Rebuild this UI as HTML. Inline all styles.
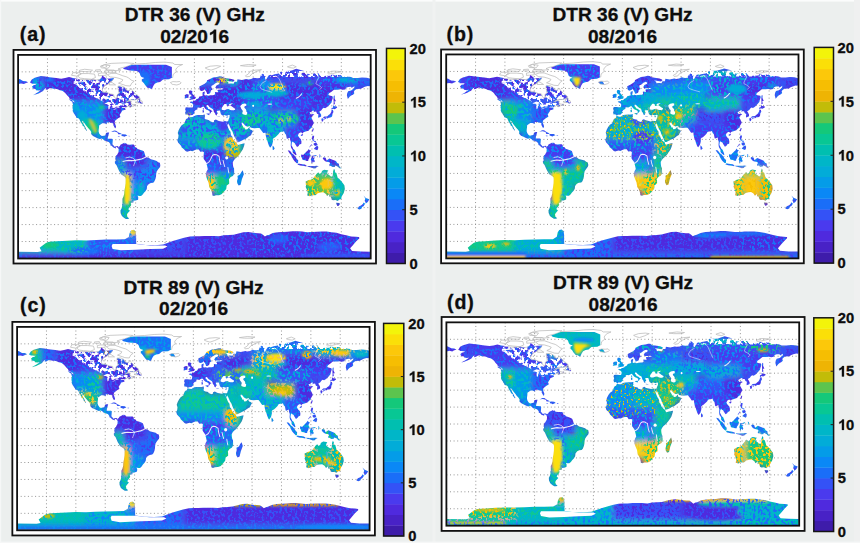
<!DOCTYPE html>
<html><head><meta charset="utf-8"><title>DTR maps</title>
<style>
html,body{margin:0;padding:0;background:#ecefee;}
svg{display:block;}
text{font-family:"Liberation Sans",sans-serif;font-weight:bold;fill:#0d0d0d;stroke:#0d0d0d;stroke-width:0.3px;}
.tt{font-size:19.1px;text-anchor:middle;}
.tk{font-size:14.6px;}
.lb{font-size:19.6px;letter-spacing:0.9px;}
</style></head><body>
<svg width="860" height="543" viewBox="0 0 860 543">
<defs>
<clipPath id="landclip">
<path d="M12.0 24.4 L14.0 21.7 L17.0 20.3 L23.2 18.7 L28.0 19.2 L32.0 19.7 L39.0 20.4 L44.0 21.0 L48.0 20.4 L52.0 19.6 L56.0 20.4 L60.0 21.0 L65.0 21.8 L70.0 22.0 L75.0 21.7 L80.0 22.2 L83.0 21.7 L85.0 20.5 L86.0 18.2 L88.0 19.5 L90.0 21.0 L94.0 20.8 L98.0 20.5 L96.0 23.0 L93.0 24.5 L92.0 25.8 L88.0 27.5 L85.8 31.0 L87.0 33.0 L90.0 33.0 L94.0 34.5 L97.5 35.0 L98.0 37.0 L100.0 38.7 L101.0 37.5 L101.0 35.5 L103.0 33.5 L102.5 31.5 L102.0 29.5 L102.0 27.7 L106.0 27.5 L109.0 28.8 L110.5 31.0 L112.5 31.7 L114.0 31.2 L115.5 29.7 L116.5 31.5 L118.0 32.5 L119.0 34.0 L120.5 34.8 L122.5 36.0 L124.0 37.5 L123.0 38.5 L120.0 39.8 L115.5 39.7 L113.5 40.0 L111.5 41.0 L110.0 42.2 L111.0 41.5 L113.5 40.8 L115.5 41.0 L115.2 42.2 L115.5 43.5 L118.5 44.0 L120.0 43.8 L120.0 44.4 L116.5 45.4 L114.2 46.4 L113.5 45.4 L115.0 44.7 L113.0 45.0 L111.5 45.8 L109.8 46.4 L109.2 47.4 L110.0 48.2 L108.5 48.7 L106.5 49.2 L106.0 49.5 L105.7 50.5 L105.0 51.2 L104.1 52.5 L103.7 53.0 L104.5 54.8 L103.5 55.4 L102.1 56.1 L100.8 57.0 L99.0 58.3 L98.6 60.0 L99.5 62.0 L100.0 63.3 L99.6 64.8 L98.8 64.7 L98.2 63.7 L97.2 62.0 L97.3 60.8 L96.0 60.0 L94.5 60.3 L93.5 59.6 L91.5 59.7 L90.5 59.8 L90.8 60.9 L89.5 60.9 L88.0 60.4 L86.0 60.4 L84.5 61.3 L82.7 62.4 L82.6 64.2 L82.3 66.0 L82.2 67.7 L82.8 69.4 L84.0 70.9 L85.5 71.8 L87.5 71.4 L89.0 71.2 L89.5 70.2 L89.7 69.0 L91.5 68.5 L93.0 68.5 L92.5 70.0 L92.2 71.5 L91.7 72.5 L91.5 74.1 L94.0 74.1 L96.0 74.2 L96.7 75.0 L96.5 77.5 L96.3 79.0 L97.5 80.2 L98.5 81.2 L100.0 80.7 L101.5 80.6 L102.7 81.4 L102.5 82.5 L101.5 82.0 L100.5 81.2 L99.6 82.0 L99.9 82.7 L98.5 82.3 L97.0 81.7 L95.5 80.3 L94.3 80.0 L94.2 78.8 L92.7 77.1 L91.5 76.8 L90.0 76.2 L88.5 76.0 L87.0 74.7 L85.5 73.9 L83.5 74.4 L81.5 73.8 L79.0 72.7 L76.5 71.7 L74.5 70.0 L74.7 68.2 L73.6 66.7 L71.5 64.7 L70.5 63.5 L69.2 62.2 L67.8 60.5 L66.5 58.8 L65.2 58.3 L65.7 59.5 L66.8 61.0 L67.7 62.5 L68.7 64.0 L69.4 65.5 L70.5 66.9 L69.8 67.1 L68.5 65.6 L67.8 65.0 L67.8 63.7 L65.7 62.5 L65.8 61.8 L64.7 60.5 L63.8 59.2 L62.9 57.5 L62.5 56.6 L61.5 56.0 L59.4 55.5 L59.0 54.3 L58.0 53.2 L57.5 52.2 L57.0 51.8 L56.2 50.5 L55.7 49.5 L55.9 48.0 L55.5 47.0 L56.0 43.8 L55.3 41.6 L57.0 41.7 L57.5 42.5 L57.2 41.0 L56.0 40.2 L54.5 39.5 L52.5 38.8 L52.0 37.5 L50.0 35.7 L49.0 34.5 L47.5 33.2 L45.5 32.0 L44.0 31.5 L42.5 31.3 L40.5 30.4 L38.0 29.9 L36.0 30.0 L33.5 29.2 L32.0 29.5 L30.0 30.5 L28.2 30.8 L28.5 29.5 L30.0 28.8 L27.5 29.8 L26.2 31.1 L25.5 32.0 L23.7 32.8 L21.5 33.8 L19.5 34.5 L17.5 35.0 L15.2 35.6 L16.5 34.9 L18.5 34.0 L20.5 32.8 L22.5 31.7 L22.8 31.2 L21.0 31.5 L18.2 31.2 L17.8 30.2 L16.2 30.0 L14.8 29.5 L14.7 28.7 L14.0 28.2 L15.0 27.5 L15.6 26.8 L17.7 26.5 L19.0 25.6 L17.5 25.5 L15.5 25.4 L13.7 25.4 L13.7 24.8 L12.0 24.4Z"/>
<path d="M136.0 30.2 L134.0 29.2 L132.0 29.0 L129.5 26.5 L128.5 25.0 L126.5 23.2 L126.5 21.5 L129.0 20.5 L126.0 19.5 L125.0 18.5 L124.0 16.0 L121.5 14.3 L114.0 13.8 L108.5 12.7 L107.0 11.7 L112.0 10.0 L118.0 8.2 L130.0 7.6 L140.0 6.7 L150.0 6.4 L158.0 7.2 L160.0 8.5 L168.0 8.5 L164.0 10.0 L162.0 11.5 L161.0 13.0 L161.5 15.0 L158.5 17.0 L158.0 19.0 L158.0 19.8 L154.0 21.5 L148.0 21.8 L145.0 24.0 L142.0 24.5 L139.5 25.5 L138.0 27.5 L137.0 29.5Z"/>
<path d="M102.7 81.4 L104.0 80.5 L104.5 79.5 L105.5 79.0 L107.5 78.2 L108.5 77.6 L108.8 78.5 L110.0 77.8 L111.5 79.2 L114.0 79.4 L116.0 79.3 L118.0 79.3 L119.0 80.0 L119.2 81.5 L121.0 82.0 L122.0 83.2 L125.0 84.0 L127.5 84.8 L128.5 85.5 L129.5 88.0 L130.0 89.5 L131.5 90.8 L133.0 90.6 L135.5 92.3 L138.5 92.9 L141.5 93.7 L143.0 94.8 L144.7 95.3 L145.2 97.5 L144.9 99.0 L143.0 101.0 L141.5 103.0 L141.0 105.0 L140.8 107.5 L140.3 109.5 L139.2 111.8 L138.0 113.0 L135.5 113.3 L133.5 114.2 L131.7 116.0 L131.4 118.5 L130.0 120.5 L128.5 121.8 L127.0 123.7 L125.5 124.8 L123.5 124.8 L122.0 124.4 L122.7 126.0 L122.5 128.0 L120.0 128.8 L118.0 129.0 L117.7 130.5 L115.0 131.0 L115.5 132.3 L115.0 133.5 L113.5 135.0 L112.5 136.5 L114.2 137.8 L111.8 140.1 L111.0 141.6 L111.6 142.4 L111.4 143.0 L113.5 144.6 L112.0 145.0 L110.0 145.0 L108.0 144.0 L106.0 142.5 L104.7 140.0 L104.5 137.5 L105.5 136.0 L106.3 133.5 L106.0 132.0 L106.5 131.5 L106.5 129.0 L106.5 127.2 L107.5 125.5 L108.3 123.0 L108.5 120.0 L109.2 117.0 L109.7 113.5 L109.8 110.0 L109.6 108.4 L108.5 107.5 L105.0 105.5 L103.8 103.5 L102.8 102.0 L101.5 99.5 L100.5 97.5 L99.0 96.0 L98.7 94.5 L99.7 93.4 L99.2 92.0 L99.5 90.5 L100.0 89.0 L101.0 88.5 L101.2 88.0 L102.5 86.0 L102.7 83.5 L102.2 82.8Z"/>
<path d="M174.1 54.2 L176.0 54.8 L178.0 54.9 L181.0 53.5 L183.0 53.2 L186.0 53.1 L188.6 53.1 L190.2 52.8 L191.0 53.1 L190.5 54.0 L191.0 54.8 L190.2 55.8 L191.2 56.8 L192.5 57.2 L195.2 57.7 L195.5 58.5 L198.0 59.3 L199.0 59.7 L200.0 59.0 L200.1 57.8 L202.0 57.1 L203.3 57.8 L205.0 58.4 L209.0 59.1 L211.0 58.5 L212.3 58.7 L212.5 60.0 L213.5 62.0 L214.5 64.5 L215.5 66.5 L216.9 68.0 L217.3 71.0 L218.5 72.0 L219.5 74.5 L221.5 76.5 L223.3 77.5 L223.5 78.5 L224.5 79.6 L227.0 79.0 L231.2 78.2 L231.0 79.6 L230.5 81.0 L229.5 83.5 L228.0 85.5 L226.0 88.0 L223.5 90.5 L221.5 91.8 L220.0 93.5 L219.2 95.0 L219.3 97.0 L219.7 99.0 L220.5 100.5 L220.6 104.0 L220.7 105.0 L219.2 107.0 L217.0 108.0 L215.3 110.0 L215.5 112.0 L215.5 114.0 L213.0 115.5 L212.8 116.5 L212.5 118.5 L211.0 120.0 L210.0 121.0 L208.0 123.0 L206.0 123.8 L205.0 124.0 L202.0 124.1 L200.0 124.8 L198.4 124.2 L198.3 123.0 L197.7 121.0 L196.5 118.6 L195.2 117.0 L194.5 113.0 L193.0 110.0 L191.8 107.3 L191.8 105.5 L192.4 103.0 L193.7 101.0 L193.2 99.0 L192.3 96.0 L192.0 95.0 L191.0 93.8 L189.5 92.0 L189.3 90.0 L189.6 87.5 L189.7 86.0 L188.5 85.5 L186.0 85.7 L184.5 83.7 L182.0 83.7 L180.0 84.3 L178.0 85.2 L176.0 84.8 L172.5 85.6 L171.0 85.0 L169.0 83.2 L167.0 81.8 L166.5 80.5 L165.0 79.0 L163.3 77.5 L162.5 75.3 L163.5 73.5 L163.8 71.0 L163.0 69.0 L164.0 66.5 L165.5 64.0 L167.0 62.3 L170.0 60.5 L170.3 59.0 L171.5 56.7 L173.2 56.0Z"/>
<path d="M229.3 102.0 L230.5 105.5 L229.8 107.0 L228.5 110.0 L227.2 114.8 L225.2 115.5 L223.8 113.5 L223.5 111.5 L224.3 109.0 L224.0 107.0 L226.5 105.8 L228.0 103.5Z"/>
<path d="M171.0 47.0 L170.5 48.0 L171.2 49.5 L170.5 51.2 L171.1 53.0 L172.5 52.8 L173.7 53.5 L174.4 54.0 L175.5 53.3 L178.0 53.2 L179.5 52.0 L180.2 51.2 L179.7 50.5 L181.0 49.0 L183.2 48.0 L183.0 46.8 L184.5 46.5 L186.0 46.9 L187.5 46.2 L189.0 45.6 L190.3 46.5 L191.0 47.5 L192.5 48.5 L194.0 49.0 L195.7 50.0 L195.6 52.0 L196.6 51.5 L197.0 50.5 L198.5 49.8 L197.0 49.0 L196.0 48.2 L194.0 47.5 L193.5 46.3 L192.3 45.5 L192.5 44.5 L193.7 44.3 L194.5 45.0 L195.5 46.0 L197.0 47.0 L199.0 48.0 L199.5 49.0 L200.0 50.5 L201.0 51.5 L201.7 53.2 L203.0 53.5 L203.0 52.0 L204.0 52.0 L202.8 49.5 L204.0 49.3 L206.0 49.2 L206.3 49.9 L206.5 50.5 L206.8 51.5 L207.2 52.5 L208.0 53.2 L209.5 53.8 L210.6 53.2 L212.0 53.5 L213.5 53.8 L214.7 53.2 L216.2 53.4 L215.8 54.2 L215.9 55.0 L215.5 56.1 L215.0 57.0 L214.5 58.4 L214.2 58.7 L212.3 58.8 L212.5 60.1 L214.3 62.2 L214.9 60.5 L215.5 62.0 L216.5 64.0 L217.5 66.0 L219.0 68.0 L219.7 70.0 L221.0 72.5 L222.5 75.0 L223.3 77.3 L225.0 77.2 L228.0 76.0 L230.0 75.0 L232.2 74.3 L234.0 73.2 L235.5 72.2 L236.8 71.5 L237.8 71.0 L238.5 69.5 L239.8 67.5 L238.5 66.4 L237.0 66.0 L236.3 65.2 L236.4 63.6 L235.5 64.5 L234.0 65.8 L232.0 66.0 L231.5 64.5 L231.2 63.9 L230.8 65.2 L230.0 63.8 L229.5 63.0 L228.5 61.6 L228.0 60.0 L229.0 59.8 L230.5 61.0 L231.5 62.2 L233.0 63.1 L234.5 63.5 L236.3 62.9 L237.3 64.2 L239.0 64.6 L241.5 64.9 L244.0 64.7 L246.5 64.6 L247.0 65.2 L248.0 66.3 L249.0 67.5 L250.3 69.1 L252.6 68.9 L252.8 71.0 L253.5 74.0 L254.5 76.0 L255.0 77.5 L256.0 80.0 L257.0 81.7 L257.6 81.9 L258.2 81.1 L259.3 79.7 L259.8 78.2 L260.2 76.5 L260.1 74.5 L261.0 73.5 L262.3 73.0 L264.0 71.7 L266.0 70.0 L267.0 68.5 L268.5 68.0 L270.0 68.0 L271.5 67.5 L272.3 69.3 L273.5 70.5 L274.3 74.0 L275.0 74.2 L277.5 73.2 L277.7 75.0 L278.5 77.0 L278.3 80.0 L278.7 82.0 L280.3 84.0 L280.3 86.0 L281.3 87.1 L283.5 88.7 L284.3 88.5 L283.4 86.0 L282.4 84.0 L281.0 83.1 L280.3 81.7 L279.2 80.0 L279.5 77.5 L280.5 76.5 L281.0 77.3 L282.3 77.8 L283.0 79.0 L284.8 81.4 L286.5 80.5 L287.0 79.5 L289.2 78.5 L289.3 76.5 L288.7 74.5 L287.0 73.0 L285.7 71.2 L286.5 69.5 L288.0 68.5 L289.5 68.5 L290.2 69.7 L291.0 68.5 L293.5 67.8 L296.5 67.0 L298.0 65.5 L299.5 64.5 L300.5 62.5 L302.0 60.2 L301.5 59.0 L300.5 57.5 L299.5 55.5 L300.3 54.0 L302.5 52.8 L300.5 52.2 L299.0 52.8 L298.0 51.5 L297.7 51.0 L299.5 50.2 L301.0 49.2 L302.3 49.5 L301.2 51.0 L302.5 50.2 L304.3 50.1 L305.2 52.0 L306.6 52.5 L306.3 55.0 L306.5 55.6 L308.5 55.0 L309.4 54.5 L309.4 53.0 L308.5 51.5 L307.5 50.2 L309.7 49.0 L310.7 47.7 L312.0 46.8 L313.5 47.2 L315.5 46.1 L317.5 44.5 L320.0 42.0 L320.5 40.0 L321.4 37.8 L321.0 36.5 L318.0 36.0 L316.7 35.4 L317.5 34.0 L320.0 32.5 L322.5 30.7 L326.0 30.7 L329.0 30.4 L331.5 30.9 L334.0 30.5 L335.0 29.0 L337.0 28.3 L340.0 28.2 L340.5 29.3 L342.0 28.4 L343.5 27.7 L343.0 29.5 L340.0 31.5 L337.0 32.2 L336.0 34.0 L335.7 36.0 L336.7 39.0 L338.5 37.1 L340.0 36.0 L342.0 35.2 L343.3 34.0 L342.8 32.5 L343.5 31.5 L345.5 30.2 L350.0 30.0 L352.0 29.0 L354.0 28.2 L357.0 27.5 L359.0 27.7 L360.0 25.5 L361.5 25.5 L363.0 25.2 L366.0 25.7 L367.5 25.0 L370.3 24.1 L368.0 23.2 L365.0 23.0 L362.0 21.5 L360.0 21.0 L356.0 20.2 L351.0 20.0 L347.0 20.4 L342.0 20.4 L340.0 19.5 L336.0 19.0 L332.0 19.1 L329.0 17.8 L326.0 17.7 L320.0 17.5 L318.0 18.5 L314.0 18.5 L310.0 19.0 L308.0 18.0 L307.0 16.5 L303.0 16.3 L299.0 17.0 L293.5 16.5 L293.0 15.5 L290.0 16.0 L288.0 16.7 L285.5 17.2 L287.0 15.5 L292.0 14.2 L284.0 12.3 L280.0 13.5 L278.0 14.0 L274.0 14.2 L268.0 14.8 L267.0 16.0 L266.0 16.5 L262.0 17.2 L260.5 17.5 L259.0 18.0 L258.0 17.6 L256.0 18.0 L254.5 20.0 L253.5 21.5 L252.5 22.0 L252.0 20.0 L253.0 18.5 L250.0 16.5 L248.5 17.5 L246.8 19.2 L247.0 20.5 L244.0 20.7 L240.5 20.2 L238.0 21.3 L235.0 21.7 L233.0 21.3 L228.5 22.2 L224.0 21.5 L223.5 23.7 L221.0 23.7 L220.0 25.5 L218.0 25.3 L216.5 25.2 L214.8 25.5 L214.5 24.0 L212.5 22.9 L215.0 23.2 L219.5 23.8 L221.0 22.7 L220.5 22.0 L218.0 21.2 L213.0 20.6 L210.0 20.2 L208.0 19.0 L205.8 18.9 L203.0 19.5 L199.0 20.0 L196.0 21.2 L193.0 22.5 L192.5 24.0 L190.5 25.5 L188.0 26.7 L185.0 28.0 L185.2 30.0 L185.6 31.2 L187.0 32.0 L188.5 31.7 L190.0 31.0 L190.7 30.2 L191.0 31.2 L191.8 32.0 L192.8 33.7 L192.9 34.6 L194.3 34.5 L196.0 33.8 L196.6 32.5 L196.8 31.4 L198.5 30.5 L197.5 29.0 L197.3 27.5 L199.5 26.5 L201.5 25.0 L204.0 24.2 L205.5 25.0 L205.0 26.0 L202.5 27.0 L201.3 29.0 L202.5 29.8 L205.0 29.8 L208.0 29.5 L210.0 30.0 L208.0 30.5 L204.0 30.7 L203.5 31.5 L204.3 32.5 L204.1 33.0 L203.0 33.0 L201.0 32.8 L201.0 34.0 L201.2 34.8 L199.9 35.5 L198.6 35.6 L196.0 35.7 L194.2 36.1 L192.5 35.6 L191.0 36.0 L190.0 35.5 L190.2 34.8 L190.5 33.5 L190.6 32.3 L188.5 33.0 L188.2 34.5 L188.6 36.0 L187.0 36.5 L185.0 36.8 L184.5 37.8 L183.5 38.7 L182.0 39.0 L181.6 39.8 L180.0 40.5 L178.7 40.3 L178.4 41.4 L177.0 41.2 L175.3 41.6 L175.8 42.2 L177.7 42.8 L178.8 44.0 L178.7 45.5 L178.2 46.6 L176.2 46.5 L174.0 46.4 L172.0 46.3 L170.7 46.8Z"/>
<path d="M293.5 112.0 L294.0 116.0 L293.5 116.5 L295.0 119.5 L295.7 121.8 L295.2 124.3 L298.0 125.0 L300.0 124.0 L303.5 124.0 L306.0 122.3 L309.0 121.7 L311.5 121.5 L314.0 122.8 L315.5 124.8 L317.8 123.0 L317.5 125.5 L318.5 125.0 L319.5 126.0 L320.0 127.8 L321.5 128.4 L324.0 128.3 L326.3 129.1 L328.0 127.8 L330.0 127.5 L330.2 125.5 L331.3 123.8 L332.5 122.0 L333.6 118.6 L333.2 115.5 L332.0 114.0 L330.8 112.5 L329.3 111.0 L328.0 109.8 L326.3 108.5 L325.4 106.0 L325.0 104.5 L323.5 103.8 L323.5 102.0 L322.5 100.7 L321.6 102.8 L321.5 105.0 L320.8 107.4 L319.5 107.5 L317.5 106.2 L315.5 105.0 L315.8 103.3 L316.8 102.2 L315.9 101.9 L312.6 101.5 L311.0 102.2 L310.3 102.6 L309.5 104.5 L308.0 105.3 L306.5 103.8 L305.0 105.0 L303.5 106.5 L302.2 108.0 L301.0 109.5 L298.5 110.3 L296.7 110.6 L294.2 111.8Z"/>
<path d="M324.6 130.7 L328.3 130.9 L328.3 132.2 L327.0 133.6 L326.0 133.5 L325.2 132.2Z"/>
<path d="M311.0 91.3 L312.0 90.4 L314.0 90.9 L315.0 93.3 L317.8 91.5 L321.0 92.6 L324.5 93.8 L325.8 95.5 L327.5 96.3 L327.8 98.0 L329.0 99.5 L330.5 100.5 L328.0 100.2 L326.5 98.8 L324.0 97.8 L323.3 99.0 L321.0 99.1 L319.0 98.1 L318.0 98.4 L317.7 97.0 L318.5 96.0 L318.0 95.0 L315.0 94.5 L313.5 94.0 L312.0 92.8Z"/>
<path d="M289.0 88.2 L289.6 88.0 L291.0 88.5 L293.0 86.8 L294.5 85.4 L295.5 84.7 L296.8 83.1 L297.5 84.0 L299.2 84.8 L298.0 85.7 L297.6 87.0 L298.8 89.0 L297.5 90.0 L297.5 91.0 L296.4 92.5 L296.2 93.8 L294.5 93.8 L293.0 93.2 L291.0 93.0 L290.2 92.5 L290.0 91.3 L289.0 90.0Z"/>
<path d="M275.3 84.4 L277.5 84.8 L280.0 87.5 L281.5 88.3 L283.5 90.5 L284.5 92.0 L286.0 93.2 L285.8 95.8 L284.5 95.8 L282.3 94.0 L281.0 92.5 L280.0 91.0 L278.7 88.4 L277.5 87.3 L276.0 85.5Z"/>
<path d="M285.2 96.8 L286.5 96.0 L288.5 96.5 L290.5 96.6 L292.7 97.0 L294.5 97.8 L294.3 98.7 L292.0 98.3 L290.0 98.1 L288.0 97.8 L286.5 97.4Z"/>
<path d="M295.0 98.2 L299.0 98.3 L303.0 98.2 L305.0 98.0 L307.0 98.4 L305.0 99.2 L304.0 100.2 L302.0 100.5 L299.0 99.5 L296.0 98.9Z"/>
<path d="M299.5 95.5 L299.4 93.5 L298.8 92.8 L299.8 90.0 L300.5 89.2 L302.0 89.0 L304.5 88.5 L305.0 88.7 L303.5 89.7 L301.0 89.5 L301.3 91.0 L303.3 90.8 L302.0 92.0 L303.0 94.0 L302.0 95.2 L301.0 94.0 L300.4 95.6Z"/>
<path d="M307.5 87.8 L308.7 88.5 L308.3 90.5 L307.5 90.7 L307.8 89.0Z"/>
<path d="M300.5 71.5 L302.3 71.5 L302.0 73.5 L301.5 74.5 L302.0 76.0 L304.0 76.2 L304.0 77.4 L302.5 76.8 L301.5 76.2 L300.6 75.7 L300.0 73.8Z"/>
<path d="M301.8 78.0 L304.5 77.5 L305.5 79.0 L305.0 80.0 L303.5 80.5 L302.5 80.2 L301.8 79.2Z"/>
<path d="M302.0 83.0 L303.5 81.5 L305.5 80.2 L306.5 81.5 L306.2 83.5 L305.3 84.4 L304.0 83.8 L302.2 83.2Z"/>
<path d="M297.2 81.6 L299.6 78.7 L299.8 79.4 L297.8 81.7Z"/>
<path d="M310.9 56.0 L312.5 54.5 L315.5 54.4 L317.0 53.2 L318.5 52.2 L319.8 50.2 L320.0 48.8 L321.5 48.7 L322.0 50.5 L321.0 52.0 L320.7 54.0 L320.0 55.0 L318.7 55.4 L317.0 55.5 L315.3 56.5 L315.0 55.4 L313.0 55.7 L311.0 56.1Z"/>
<path d="M309.6 56.5 L311.0 56.1 L312.0 57.0 L311.3 58.7 L310.2 59.0 L309.8 57.5Z"/>
<path d="M312.5 57.0 L313.0 55.8 L314.5 55.8 L314.7 56.2 L313.5 56.6 L312.9 57.3Z"/>
<path d="M319.8 47.8 L320.3 46.7 L321.5 46.7 L321.7 44.6 L323.0 45.5 L325.3 45.7 L325.8 46.6 L323.3 48.0 L321.3 47.5 L320.5 48.5Z"/>
<path d="M322.0 44.0 L323.5 43.5 L323.0 41.0 L324.5 41.0 L323.2 38.5 L323.3 36.5 L322.8 35.7 L322.2 36.5 L322.0 39.0 L322.2 42.0Z"/>
<path d="M300.1 67.0 L301.0 64.9 L301.9 65.0 L301.5 66.5 L300.9 68.1 L300.3 67.5Z"/>
<path d="M288.6 70.8 L290.5 69.9 L291.0 70.4 L290.0 71.8 L288.7 71.5Z"/>
<path d="M259.9 80.2 L261.3 81.5 L261.8 82.8 L261.2 83.8 L260.0 84.0 L259.8 82.0Z"/>
<path d="M174.3 39.9 L176.5 39.7 L179.0 39.3 L181.4 38.7 L180.8 38.4 L181.7 37.3 L180.3 37.0 L179.8 36.0 L178.5 35.0 L178.0 34.2 L177.5 33.7 L178.2 32.5 L176.8 31.4 L175.0 31.4 L174.3 32.5 L174.5 33.7 L175.2 34.5 L175.0 35.2 L176.6 35.1 L177.0 36.1 L176.9 36.7 L175.4 36.7 L175.8 37.2 L174.8 38.2 L176.0 38.4 L177.0 38.7 L175.8 38.8Z"/>
<path d="M174.0 37.8 L174.0 36.1 L174.4 35.5 L173.5 34.7 L171.5 34.8 L170.0 35.8 L170.2 36.6 L170.5 37.5 L169.7 38.1 L170.5 38.5 L172.0 38.2 L173.6 37.9Z"/>
<path d="M155.5 24.5 L158.0 23.6 L162.0 23.8 L165.0 23.5 L166.5 24.8 L165.2 25.7 L162.0 26.6 L159.0 26.2 L157.3 26.0Z"/>
<path d="M352.7 124.4 L355.0 126.5 L358.5 127.7 L357.5 129.3 L356.5 130.5 L354.8 131.4 L354.6 129.9 L353.8 129.2 L354.5 127.0Z"/>
<path d="M352.7 130.5 L354.3 131.7 L352.7 133.8 L351.2 134.5 L350.5 136.0 L348.5 136.6 L346.5 136.0 L348.0 134.0 L350.5 133.0 L352.0 131.8Z"/>
<path d="M95.0 68.2 L98.0 66.9 L100.0 67.0 L102.5 68.5 L105.8 69.8 L104.5 70.1 L102.3 70.1 L101.5 68.5 L98.5 67.8 L96.0 68.1Z"/>
<path d="M105.6 70.2 L107.2 70.1 L110.0 70.3 L111.6 71.4 L110.0 71.8 L108.5 72.4 L107.2 71.9 L105.6 71.6Z"/>
<path d="M101.7 71.6 L103.8 71.8 L103.5 72.2 L102.2 72.1Z"/>
<path d="M112.8 71.5 L114.4 71.6 L114.3 72.0 L112.8 72.0Z"/>
<path d="M120.7 42.4 L123.0 38.5 L124.5 38.4 L124.5 40.5 L126.5 40.7 L127.3 42.5 L126.5 43.3 L125.0 43.0 L124.0 42.4Z"/>
<path d="M51.7 39.2 L55.0 39.7 L56.7 41.6 L55.2 41.4 L53.0 40.2Z"/>
<path d="M188.6 47.1 L189.5 47.0 L189.5 48.4 L189.2 48.6 L188.6 48.1Z"/>
<path d="M188.2 49.0 L189.7 48.9 L189.8 50.8 L188.5 51.1 L188.4 50.0Z"/>
<path d="M192.4 51.9 L195.6 51.7 L195.1 53.3 L192.4 52.3Z"/>
<path d="M203.5 54.4 L206.3 54.7 L206.0 55.0 L203.5 54.7Z"/>
<path d="M212.3 55.0 L214.6 54.3 L214.0 55.4 L212.5 55.3Z"/>
<path d="M0.0 168.4 L10.0 168.3 L20.0 168.5 L22.5 166.5 L25.0 165.6 L30.0 165.5 L35.0 165.0 L40.0 164.8 L50.0 164.2 L60.0 163.8 L70.0 164.0 L80.0 163.6 L90.0 163.3 L100.0 163.2 L109.0 163.0 L113.0 161.0 L114.0 157.0 L115.5 155.0 L118.0 154.6 L120.0 156.0 L120.5 159.5 L120.5 163.0 L120.5 167.0 L130.0 168.0 L140.0 168.2 L148.0 167.7 L158.0 164.5 L169.4 161.7 L175.5 160.5 L180.0 160.3 L185.0 160.3 L190.0 160.0 L195.0 160.0 L200.0 160.0 L205.0 160.3 L210.0 159.5 L215.0 159.3 L220.0 159.0 L225.0 157.8 L230.0 156.8 L235.0 156.5 L240.0 157.3 L245.0 157.7 L248.0 157.8 L250.0 159.0 L252.0 160.5 L254.0 159.5 L256.0 159.2 L260.0 157.5 L265.0 156.8 L270.0 156.5 L275.0 156.3 L280.0 155.8 L285.0 155.8 L290.0 156.2 L295.0 156.8 L300.0 156.6 L305.0 156.3 L310.0 156.2 L315.0 156.2 L320.0 156.8 L325.0 157.3 L330.0 158.5 L335.0 159.5 L340.0 160.5 L345.0 160.8 L350.0 161.3 L360.0 162.0 L360.0 180.0 L0.0 180.0Z"/>
<path d="M-189.0 47.0 L-189.5 48.0 L-188.8 49.5 L-189.5 51.2 L-188.9 53.0 L-187.5 52.8 L-186.3 53.5 L-185.6 54.0 L-184.5 53.3 L-182.0 53.2 L-180.5 52.0 L-179.8 51.2 L-180.3 50.5 L-179.0 49.0 L-176.8 48.0 L-177.0 46.8 L-175.5 46.5 L-174.0 46.9 L-172.5 46.2 L-171.0 45.6 L-169.7 46.5 L-169.0 47.5 L-167.5 48.5 L-166.0 49.0 L-164.3 50.0 L-164.4 52.0 L-163.4 51.5 L-163.0 50.5 L-161.5 49.8 L-163.0 49.0 L-164.0 48.2 L-166.0 47.5 L-166.5 46.3 L-167.7 45.5 L-167.5 44.5 L-166.3 44.3 L-165.5 45.0 L-164.5 46.0 L-163.0 47.0 L-161.0 48.0 L-160.5 49.0 L-160.0 50.5 L-159.0 51.5 L-158.3 53.2 L-157.0 53.5 L-157.0 52.0 L-156.0 52.0 L-157.2 49.5 L-156.0 49.3 L-154.0 49.2 L-153.7 49.9 L-153.5 50.5 L-153.2 51.5 L-152.8 52.5 L-152.0 53.2 L-150.5 53.8 L-149.4 53.2 L-148.0 53.5 L-146.5 53.8 L-145.3 53.2 L-143.8 53.4 L-144.2 54.2 L-144.1 55.0 L-144.5 56.1 L-145.0 57.0 L-145.5 58.4 L-145.8 58.7 L-147.7 58.8 L-147.5 60.1 L-145.7 62.2 L-145.1 60.5 L-144.5 62.0 L-143.5 64.0 L-142.5 66.0 L-141.0 68.0 L-140.3 70.0 L-139.0 72.5 L-137.5 75.0 L-136.7 77.3 L-135.0 77.2 L-132.0 76.0 L-130.0 75.0 L-127.8 74.3 L-126.0 73.2 L-124.5 72.2 L-123.2 71.5 L-122.2 71.0 L-121.5 69.5 L-120.2 67.5 L-121.5 66.4 L-123.0 66.0 L-123.7 65.2 L-123.6 63.6 L-124.5 64.5 L-126.0 65.8 L-128.0 66.0 L-128.5 64.5 L-128.8 63.9 L-129.2 65.2 L-130.0 63.8 L-130.5 63.0 L-131.5 61.6 L-132.0 60.0 L-131.0 59.8 L-129.5 61.0 L-128.5 62.2 L-127.0 63.1 L-125.5 63.5 L-123.7 62.9 L-122.7 64.2 L-121.0 64.6 L-118.5 64.9 L-116.0 64.7 L-113.5 64.6 L-113.0 65.2 L-112.0 66.3 L-111.0 67.5 L-109.7 69.1 L-107.4 68.9 L-107.2 71.0 L-106.5 74.0 L-105.5 76.0 L-105.0 77.5 L-104.0 80.0 L-103.0 81.7 L-102.4 81.9 L-101.8 81.1 L-100.7 79.7 L-100.2 78.2 L-99.8 76.5 L-99.9 74.5 L-99.0 73.5 L-97.7 73.0 L-96.0 71.7 L-94.0 70.0 L-93.0 68.5 L-91.5 68.0 L-90.0 68.0 L-88.5 67.5 L-87.7 69.3 L-86.5 70.5 L-85.7 74.0 L-85.0 74.2 L-82.5 73.2 L-82.3 75.0 L-81.5 77.0 L-81.7 80.0 L-81.3 82.0 L-79.7 84.0 L-79.7 86.0 L-78.7 87.1 L-76.5 88.7 L-75.7 88.5 L-76.6 86.0 L-77.6 84.0 L-79.0 83.1 L-79.7 81.7 L-80.8 80.0 L-80.5 77.5 L-79.5 76.5 L-79.0 77.3 L-77.7 77.8 L-77.0 79.0 L-75.2 81.4 L-73.5 80.5 L-73.0 79.5 L-70.8 78.5 L-70.7 76.5 L-71.3 74.5 L-73.0 73.0 L-74.3 71.2 L-73.5 69.5 L-72.0 68.5 L-70.5 68.5 L-69.8 69.7 L-69.0 68.5 L-66.5 67.8 L-63.5 67.0 L-62.0 65.5 L-60.5 64.5 L-59.5 62.5 L-58.0 60.2 L-58.5 59.0 L-59.5 57.5 L-60.5 55.5 L-59.7 54.0 L-57.5 52.8 L-59.5 52.2 L-61.0 52.8 L-62.0 51.5 L-62.3 51.0 L-60.5 50.2 L-59.0 49.2 L-57.7 49.5 L-58.8 51.0 L-57.5 50.2 L-55.7 50.1 L-54.8 52.0 L-53.4 52.5 L-53.7 55.0 L-53.5 55.6 L-51.5 55.0 L-50.6 54.5 L-50.6 53.0 L-51.5 51.5 L-52.5 50.2 L-50.3 49.0 L-49.3 47.7 L-48.0 46.8 L-46.5 47.2 L-44.5 46.1 L-42.5 44.5 L-40.0 42.0 L-39.5 40.0 L-38.6 37.8 L-39.0 36.5 L-42.0 36.0 L-43.3 35.4 L-42.5 34.0 L-40.0 32.5 L-37.5 30.7 L-34.0 30.7 L-31.0 30.4 L-28.5 30.9 L-26.0 30.5 L-25.0 29.0 L-23.0 28.3 L-20.0 28.2 L-19.5 29.3 L-18.0 28.4 L-16.5 27.7 L-17.0 29.5 L-20.0 31.5 L-23.0 32.2 L-24.0 34.0 L-24.3 36.0 L-23.3 39.0 L-21.5 37.1 L-20.0 36.0 L-18.0 35.2 L-16.7 34.0 L-17.2 32.5 L-16.5 31.5 L-14.5 30.2 L-10.0 30.0 L-8.0 29.0 L-6.0 28.2 L-3.0 27.5 L-1.0 27.7 L0.0 25.5 L1.5 25.5 L3.0 25.2 L6.0 25.7 L7.5 25.0 L10.3 24.1 L8.0 23.2 L5.0 23.0 L2.0 21.5 L0.0 21.0 L-4.0 20.2 L-9.0 20.0 L-13.0 20.4 L-18.0 20.4 L-20.0 19.5 L-24.0 19.0 L-28.0 19.1 L-31.0 17.8 L-34.0 17.7 L-40.0 17.5 L-42.0 18.5 L-46.0 18.5 L-50.0 19.0 L-52.0 18.0 L-53.0 16.5 L-57.0 16.3 L-61.0 17.0 L-66.5 16.5 L-67.0 15.5 L-70.0 16.0 L-72.0 16.7 L-74.5 17.2 L-73.0 15.5 L-68.0 14.2 L-76.0 12.3 L-80.0 13.5 L-82.0 14.0 L-86.0 14.2 L-92.0 14.8 L-93.0 16.0 L-94.0 16.5 L-98.0 17.2 L-99.5 17.5 L-101.0 18.0 L-102.0 17.6 L-104.0 18.0 L-105.5 20.0 L-106.5 21.5 L-107.5 22.0 L-108.0 20.0 L-107.0 18.5 L-110.0 16.5 L-111.5 17.5 L-113.2 19.2 L-113.0 20.5 L-116.0 20.7 L-119.5 20.2 L-122.0 21.3 L-125.0 21.7 L-127.0 21.3 L-131.5 22.2 L-136.0 21.5 L-136.5 23.7 L-139.0 23.7 L-140.0 25.5 L-142.0 25.3 L-143.5 25.2 L-145.2 25.5 L-145.5 24.0 L-147.5 22.9 L-145.0 23.2 L-140.5 23.8 L-139.0 22.7 L-139.5 22.0 L-142.0 21.2 L-147.0 20.6 L-150.0 20.2 L-152.0 19.0 L-154.2 18.9 L-157.0 19.5 L-161.0 20.0 L-164.0 21.2 L-167.0 22.5 L-167.5 24.0 L-169.5 25.5 L-172.0 26.7 L-175.0 28.0 L-174.8 30.0 L-174.4 31.2 L-173.0 32.0 L-171.5 31.7 L-170.0 31.0 L-169.3 30.2 L-169.0 31.2 L-168.2 32.0 L-167.2 33.7 L-167.1 34.6 L-165.7 34.5 L-164.0 33.8 L-163.4 32.5 L-163.2 31.4 L-161.5 30.5 L-162.5 29.0 L-162.7 27.5 L-160.5 26.5 L-158.5 25.0 L-156.0 24.2 L-154.5 25.0 L-155.0 26.0 L-157.5 27.0 L-158.7 29.0 L-157.5 29.8 L-155.0 29.8 L-152.0 29.5 L-150.0 30.0 L-152.0 30.5 L-156.0 30.7 L-156.5 31.5 L-155.7 32.5 L-155.9 33.0 L-157.0 33.0 L-159.0 32.8 L-159.0 34.0 L-158.8 34.8 L-160.1 35.5 L-161.4 35.6 L-164.0 35.7 L-165.8 36.1 L-167.5 35.6 L-169.0 36.0 L-170.0 35.5 L-169.8 34.8 L-169.5 33.5 L-169.4 32.3 L-171.5 33.0 L-171.8 34.5 L-171.4 36.0 L-173.0 36.5 L-175.0 36.8 L-175.5 37.8 L-176.5 38.7 L-178.0 39.0 L-178.4 39.8 L-180.0 40.5 L-181.3 40.3 L-181.6 41.4 L-183.0 41.2 L-184.7 41.6 L-184.2 42.2 L-182.3 42.8 L-181.2 44.0 L-181.3 45.5 L-181.8 46.6 L-183.8 46.5 L-186.0 46.4 L-188.0 46.3 L-189.3 46.8Z"/>
</clipPath>
<clipPath id="clipa"><rect x="18.60" y="55.40" width="351.60" height="202.60"/></clipPath>
<clipPath id="clipb"><rect x="446.70" y="54.95" width="351.30" height="202.95"/></clipPath>
<clipPath id="clipc"><rect x="17.60" y="327.40" width="351.50" height="202.40"/></clipPath>
<clipPath id="clipd"><rect x="446.90" y="322.85" width="351.80" height="202.35"/></clipPath>
<clipPath id="ndclip"><path d="M57.1 21.3 L126.5 21.3 L127.5 42.5 L114.2 47.0 L96.0 46.4 L85.7 40.8 L73.4 35.5 L61.2 28.4Z"/><path d="M100.0 0.0 L180.0 0.0 L180.0 30.0 L164.0 30.0 L157.0 19.5 L157.0 10.7 L151.0 8.6 L100.0 8.6Z"/><path d="M154.0 22.0 L169.0 22.0 L169.0 28.0 L154.0 28.0Z"/></clipPath>
<filter id="bl1_5" x="-0.2" y="-0.2" width="1.4" height="1.4"><feGaussianBlur stdDeviation="1.1"/></filter>
<filter id="bl3" x="-0.2" y="-0.2" width="1.4" height="1.4"><feGaussianBlur stdDeviation="2.5"/></filter>
<filter id="bl0_6" x="-0.2" y="-0.2" width="1.4" height="1.4"><feGaussianBlur stdDeviation="0.6"/></filter>
<filter id="speckW" x="-0.1" y="-0.1" width="1.2" height="1.2"><feTurbulence type="fractalNoise" baseFrequency="0.3" numOctaves="2" seed="7" result="n"/><feColorMatrix in="n" type="matrix" values="0 0 0 0 0 0 0 0 0 0 0 0 0 0 0 9 0 0 0 -4.2" result="m"/><feComposite in="SourceGraphic" in2="m" operator="in"/></filter>
<filter id="speckP" x="-0.1" y="-0.1" width="1.2" height="1.2"><feTurbulence type="fractalNoise" baseFrequency="0.38" numOctaves="2" seed="3" result="n"/><feColorMatrix in="n" type="matrix" values="0 0 0 0 0 0 0 0 0 0 0 0 0 0 0 9 0 0 0 -4.55" result="m"/><feGaussianBlur in="SourceGraphic" stdDeviation="2" result="s"/><feComposite in="s" in2="m" operator="in"/></filter>
<filter id="speckQ" x="-0.1" y="-0.1" width="1.2" height="1.2"><feTurbulence type="fractalNoise" baseFrequency="0.5" numOctaves="2" seed="19" result="n"/><feColorMatrix in="n" type="matrix" values="0 0 0 0 0 0 0 0 0 0 0 0 0 0 0 9 0 0 0 -5.5" result="m"/><feComposite in="SourceGraphic" in2="m" operator="in"/></filter>
<filter id="speckW2" x="-0.1" y="-0.1" width="1.2" height="1.2"><feTurbulence type="fractalNoise" baseFrequency="0.35" numOctaves="2" seed="5" result="n"/><feColorMatrix in="n" type="matrix" values="0 0 0 0 0 0 0 0 0 0 0 0 0 0 0 9 0 0 0 -4.3" result="m"/><feComposite in="SourceGraphic" in2="m" operator="in"/></filter>
</defs>
<rect width="860" height="543" fill="#ecefee"/>
<rect width="860" height="1.6" fill="#fbfcfc"/>
<rect width="1.2" height="543" fill="#f6f7f7"/>
<rect x="432.5" y="0" width="3" height="543" fill="#f0f2f1"/>
<rect x="854" y="0" width="6" height="543" fill="#eff0f0"/>
<rect x="0" y="541.6" width="860" height="1.4" fill="#f6f7f7"/>
<rect x="13.50" y="49.90" width="362.50" height="213.60" fill="#fff"/>
<g clip-path="url(#clipa)">
<path d="M47.48 54.90V258.50M76.87 54.90V258.50M106.25 54.90V258.50M135.63 54.90V258.50M165.02 54.90V258.50M194.40 54.90V258.50M223.78 54.90V258.50M253.17 54.90V258.50M282.55 54.90V258.50M311.93 54.90V258.50M341.32 54.90V258.50M18.10 241.53H370.70M18.10 224.57H370.70M18.10 207.60H370.70M18.10 190.63H370.70M18.10 173.67H370.70M18.10 156.70H370.70M18.10 139.73H370.70M18.10 122.77H370.70M18.10 105.80H370.70M18.10 88.83H370.70M18.10 71.87H370.70" stroke="#8a8a8a" stroke-width="0.9" stroke-dasharray="1 2.6" fill="none"/>
<g transform="translate(18.100 54.900) scale(0.97944 1.13111)">
<g stroke="#b9b9b9" stroke-width="0.7" fill="none" vector-effect="non-scaling-stroke"><path d="M118.5 23.3 L116.0 25.0 L114.5 27.5 L110.0 27.2 L108.0 26.5 L102.5 25.0 L106.0 23.5 L107.0 22.0 L104.0 21.0 L100.0 20.0 L94.0 19.5 L91.0 17.5 L95.0 16.4 L100.0 16.3 L104.0 17.5 L107.0 18.5 L111.0 19.5 L113.0 20.5 L116.0 22.5Z"/><path d="M105.0 13.5 L100.0 13.8 L91.0 13.5 L90.0 12.0 L85.0 10.0 L88.0 8.7 L95.0 7.5 L110.0 7.0 L118.0 7.5 L115.0 9.0 L110.0 10.5 L105.0 11.5 L102.0 12.5Z"/><path d="M100.0 15.5 L88.0 15.2 L89.0 13.5 L98.0 13.5Z"/><path d="M61.0 18.5 L63.0 16.5 L72.0 16.5 L78.0 17.0 L79.0 20.0 L75.0 21.5 L68.0 21.0 L63.0 20.5Z"/><path d="M54.5 18.0 L56.0 15.7 L63.0 15.7 L64.5 17.0 L60.0 18.8Z"/><path d="M82.0 18.5 L90.0 18.0 L90.0 16.0 L85.0 16.0 L82.0 16.5Z"/><path d="M62.0 14.5 L74.0 15.0 L76.0 13.5 L68.0 12.7 L63.0 13.5Z"/><path d="M79.0 14.5 L84.0 14.5 L84.0 13.0 L79.0 13.3Z"/><path d="M93.0 26.5 L99.5 26.5 L96.0 24.5 L93.5 24.0Z"/><path d="M85.0 11.5 L92.0 11.8 L94.0 9.5 L88.0 8.8 L84.0 10.0Z"/><path d="M191.0 11.5 L196.0 10.0 L203.0 9.5 L207.0 10.0 L202.0 12.0 L197.0 13.5 L193.0 12.5Z"/><path d="M232.0 18.5 L235.0 17.0 L237.0 14.5 L242.0 13.5 L248.5 13.1 L244.0 14.5 L239.0 16.5 L236.5 19.0 L233.0 19.4Z"/><path d="M275.0 10.5 L280.0 9.0 L284.0 10.5 L281.0 11.7 L277.0 11.2Z"/><path d="M316.0 16.0 L320.0 14.5 L323.0 14.3 L330.0 14.8 L326.0 15.5 L321.0 16.5 L317.0 16.8Z"/><path d="M358.5 18.8 L361.0 18.4 L363.0 18.8 L361.0 19.2Z"/><path d="M227.0 9.5 L235.0 8.5 L243.0 9.0 L240.0 10.0 L232.0 10.0Z"/></g>
<g clip-path="url(#landclip)">
<rect x="-12" y="-5" width="384" height="190" fill="#4f2ade"/><g filter="url(#bl3)"><path d="M-1.0 18.0 L13.0 18.0 L13.0 28.0 L-1.0 28.0Z" fill="#1a6ef8"/><path d="M10.0 18.0 L25.0 18.0 L25.0 38.0 L10.0 38.0Z" fill="#0a88f6"/><path d="M25.0 18.0 L39.0 18.0 L39.0 33.0 L25.0 33.0Z" fill="#4f2ade"/><path d="M39.0 20.0 L60.0 20.0 L65.0 41.0 L54.0 43.0 L39.0 33.0Z" fill="#4f2ade"/><path d="M60.0 30.0 L85.0 30.0 L85.0 41.0 L65.0 41.0Z" fill="#4f2ade"/><path d="M55.0 18.0 L122.0 18.0 L122.0 32.0 L85.0 35.0 L60.0 30.0Z" fill="#4f2ade"/><path d="M85.0 34.0 L128.0 34.0 L128.0 46.0 L100.0 46.0 L85.0 41.0Z" fill="#4f2ade"/><path d="M54.0 41.0 L70.0 41.0 L70.0 59.0 L62.0 59.0 L54.0 50.0Z" fill="#0a88f6"/><path d="M70.0 41.0 L87.0 41.0 L87.0 62.0 L70.0 62.0Z" fill="#0a88f6"/><path d="M87.0 41.0 L114.0 41.0 L114.0 66.0 L87.0 62.0Z" fill="#4f2ade"/><path d="M62.0 57.0 L80.0 59.0 L83.0 68.0 L74.0 69.0 L62.0 62.0Z" fill="#08c794"/><path d="M80.0 59.0 L87.0 62.0 L84.0 72.0 L83.0 68.0Z" fill="#00b6c8"/><path d="M74.0 69.0 L85.0 68.0 L94.0 76.0 L83.0 76.0Z" fill="#02acd8"/><path d="M88.0 72.0 L103.0 72.0 L103.0 83.0 L88.0 78.0Z" fill="#0a88f6"/><path d="M94.0 66.0 L116.0 66.0 L116.0 73.0 L94.0 73.0Z" fill="#1a6ef8"/><path d="M105.0 6.0 L170.0 6.0 L170.0 31.0 L105.0 31.0Z" fill="#4a3aee"/><path d="M155.0 23.0 L167.0 23.0 L167.0 27.0 L155.0 27.0Z" fill="#0a88f6"/><path d="M98.0 77.0 L132.0 77.0 L132.0 100.0 L98.0 100.0Z" fill="#4f2ade"/><path d="M108.0 100.0 L125.0 100.0 L125.0 115.0 L115.0 115.0 L108.0 105.0Z" fill="#1a6ef8"/><path d="M132.0 90.0 L146.0 95.0 L140.0 115.0 L125.0 115.0 L122.0 100.0 L132.0 100.0Z" fill="#0a88f6"/><path d="M98.0 93.0 L108.0 93.0 L110.0 108.0 L104.0 108.0Z" fill="#00b6c8"/><path d="M108.0 105.0 L115.0 105.0 L115.0 132.0 L108.0 132.0Z" fill="#fbdf08"/><path d="M115.0 110.0 L125.0 115.0 L132.0 115.0 L132.0 125.0 L123.0 130.0 L115.0 130.0Z" fill="#0a88f6"/><path d="M104.0 130.0 L118.0 130.0 L118.0 146.0 L104.0 146.0Z" fill="#00b6c8"/><path d="M162.0 75.0 L162.0 68.0 L167.0 61.0 L172.0 54.0 L190.0 52.0 L190.0 75.0Z" fill="#00b6c8"/><path d="M190.0 52.0 L191.0 57.0 L200.0 59.0 L213.0 58.0 L215.0 63.0 L218.0 73.0 L216.0 75.0 L190.0 75.0Z" fill="#02acd8"/><path d="M162.0 75.0 L216.0 75.0 L216.0 84.0 L162.0 84.0Z" fill="#1a6ef8"/><path d="M213.0 74.0 L224.0 74.0 L228.0 86.0 L214.0 88.0Z" fill="#f6be02"/><path d="M223.0 78.0 L232.0 78.0 L228.0 90.0 L220.0 92.0 L222.0 84.0Z" fill="#08c794"/><path d="M188.0 84.0 L211.0 84.0 L211.0 102.0 L188.0 102.0Z" fill="#4f2ade"/><path d="M211.0 87.0 L222.0 87.0 L222.0 106.0 L211.0 106.0Z" fill="#1a6ef8"/><path d="M190.0 94.0 L207.0 94.0 L207.0 106.0 L190.0 106.0Z" fill="#3452f6"/><path d="M200.0 105.0 L221.0 105.0 L221.0 126.0 L200.0 126.0Z" fill="#00bfb0"/><path d="M190.0 106.0 L200.0 106.0 L200.0 120.0 L190.0 120.0Z" fill="#f6be02"/><path d="M222.0 101.0 L231.0 101.0 L231.0 116.0 L222.0 116.0Z" fill="#049ce8"/><path d="M170.0 46.0 L184.0 46.0 L184.0 55.0 L170.0 55.0Z" fill="#1a6ef8"/><path d="M169.0 29.0 L182.0 29.0 L182.0 41.0 L169.0 41.0Z" fill="#4f2ade"/><path d="M175.0 34.0 L195.0 34.0 L195.0 47.0 L184.0 48.0 L175.0 46.0Z" fill="#4f2ade"/><path d="M195.0 34.0 L210.0 34.0 L210.0 51.0 L195.0 51.0Z" fill="#4f2ade"/><path d="M187.0 43.0 L206.0 43.0 L206.0 54.0 L187.0 54.0Z" fill="#4f2ade"/><path d="M184.0 26.0 L212.0 26.0 L212.0 35.0 L184.0 35.0Z" fill="#4f2ade"/><path d="M184.0 18.0 L225.0 18.0 L225.0 26.0 L184.0 26.0Z" fill="#0a88f6"/><path d="M210.0 26.0 L240.0 26.0 L240.0 38.0 L210.0 38.0Z" fill="#4f2ade"/><path d="M225.0 18.0 L248.0 18.0 L248.0 26.0 L225.0 26.0Z" fill="#4f2ade"/><path d="M202.0 38.0 L232.0 38.0 L232.0 47.0 L202.0 47.0Z" fill="#4f2ade"/><path d="M206.0 48.0 L225.0 48.0 L225.0 54.5 L206.0 54.5Z" fill="#1a6ef8"/><path d="M224.0 50.0 L242.0 50.0 L242.0 65.0 L228.0 62.0 L224.0 57.0Z" fill="#00bfb0"/><path d="M214.0 53.0 L224.0 53.0 L224.0 61.0 L214.0 61.0Z" fill="#02acd8"/><path d="M214.0 60.0 L228.0 60.0 L236.0 65.0 L240.0 68.0 L232.0 75.0 L223.0 78.0 L215.0 65.0Z" fill="#00b6c8"/><path d="M230.0 35.0 L265.0 35.0 L265.0 47.0 L230.0 47.0Z" fill="#3452f6"/><path d="M232.0 47.0 L255.0 47.0 L255.0 55.0 L232.0 55.0Z" fill="#02acd8"/><path d="M240.0 54.0 L255.0 54.0 L255.0 67.0 L240.0 67.0Z" fill="#00b6c8"/><path d="M240.0 24.0 L270.0 24.0 L270.0 35.0 L240.0 35.0Z" fill="#3452f6"/><path d="M240.0 12.0 L305.0 12.0 L305.0 24.0 L240.0 24.0Z" fill="#3452f6"/><path d="M270.0 24.0 L305.0 24.0 L305.0 40.0 L270.0 40.0Z" fill="#4f2ade"/><path d="M305.0 15.0 L362.0 15.0 L362.0 26.0 L305.0 26.0Z" fill="#4a3aee"/><path d="M305.0 26.0 L345.0 26.0 L345.0 38.0 L305.0 38.0Z" fill="#4f2ade"/><path d="M300.0 35.0 L322.0 35.0 L322.0 50.0 L300.0 50.0Z" fill="#4f2ade"/><path d="M335.0 28.0 L346.0 28.0 L346.0 40.0 L335.0 40.0Z" fill="#1a6ef8"/><path d="M340.0 20.0 L372.0 20.0 L372.0 28.0 L340.0 28.0Z" fill="#1a6ef8"/><path d="M265.0 38.0 L300.0 38.0 L300.0 50.0 L265.0 50.0Z" fill="#4a3aee"/><path d="M255.0 50.0 L283.0 50.0 L283.0 63.0 L255.0 63.0Z" fill="#00bfb0"/><path d="M246.0 60.0 L272.0 60.0 L272.0 84.0 L246.0 84.0Z" fill="#00b6c8"/><path d="M283.0 48.0 L304.0 48.0 L304.0 70.0 L283.0 70.0Z" fill="#4f2ade"/><path d="M272.0 62.0 L290.0 62.0 L290.0 90.0 L272.0 90.0Z" fill="#4a3aee"/><path d="M304.0 44.0 L327.0 44.0 L327.0 60.0 L304.0 60.0Z" fill="#4a3aee"/><path d="M274.0 82.0 L310.0 82.0 L310.0 101.0 L274.0 101.0Z" fill="#4f2ade"/><path d="M310.0 90.0 L332.0 90.0 L332.0 101.0 L310.0 101.0Z" fill="#4f2ade"/><path d="M296.0 70.0 L308.0 70.0 L308.0 85.0 L296.0 85.0Z" fill="#3452f6"/><path d="M292.0 102.0 L305.0 102.0 L305.0 126.0 L292.0 126.0Z" fill="#14c87a"/><path d="M305.0 100.0 L320.0 100.0 L320.0 126.0 L305.0 126.0Z" fill="#5cc44e"/><path d="M320.0 100.0 L335.0 100.0 L335.0 130.0 L320.0 130.0Z" fill="#08c794"/><path d="M305.0 100.0 L325.0 100.0 L325.0 107.0 L305.0 107.0Z" fill="#08c794"/><path d="M345.0 123.0 L360.0 123.0 L360.0 138.0 L345.0 138.0Z" fill="#0a88f6"/><path d="M-5.0 150.0 L70.0 150.0 L70.0 182.0 L-5.0 182.0Z" fill="#00b6c8"/><path d="M70.0 150.0 L120.0 150.0 L120.0 182.0 L70.0 182.0Z" fill="#3452f6"/><path d="M112.0 152.0 L123.0 152.0 L123.0 159.5 L112.0 159.5Z" fill="#fbdf08"/><path d="M112.0 159.5 L123.0 159.5 L123.0 166.0 L112.0 166.0Z" fill="#1a6ef8"/><path d="M120.0 150.0 L170.0 150.0 L170.0 182.0 L120.0 182.0Z" fill="#3452f6"/><path d="M170.0 150.0 L240.0 150.0 L240.0 182.0 L170.0 182.0Z" fill="#4f2ade"/><path d="M240.0 150.0 L300.0 150.0 L300.0 182.0 L240.0 182.0Z" fill="#4f2ade"/><path d="M300.0 150.0 L365.0 150.0 L365.0 182.0 L300.0 182.0Z" fill="#4f2ade"/><path d="M-5.0 175.0 L365.0 175.0 L365.0 182.0 L-5.0 182.0Z" fill="#4f2ade"/></g><g filter="url(#bl1_5)"><ellipse cx="22.4" cy="27.5" rx="4.5" ry="2.5" fill="#02acd8"/><ellipse cx="19.3" cy="24.0" rx="3.1" ry="1.8" fill="#02acd8"/><ellipse cx="32.6" cy="22.2" rx="5.1" ry="1.8" fill="#1a6ef8"/><ellipse cx="61.2" cy="43.4" rx="4.1" ry="2.7" fill="#1a6ef8"/><ellipse cx="59.1" cy="46.1" rx="2.5" ry="3.5" fill="#02acd8"/><ellipse cx="65.2" cy="53.1" rx="4.5" ry="3.9" fill="#02acd8"/><ellipse cx="85.7" cy="46.4" rx="3.7" ry="1.8" fill="#08c794"/><ellipse cx="81.6" cy="49.6" rx="3.1" ry="1.8" fill="#00b6c8"/><ellipse cx="70.3" cy="59.3" rx="5.1" ry="3.5" fill="#00bfb0"/><ellipse cx="75.9" cy="63.7" rx="5.7" ry="5.7" fill="#14c87a"/><ellipse cx="128.5" cy="20.4" rx="7.1" ry="6.2" fill="#1a6ef8"/><ellipse cx="130.6" cy="24.8" rx="3.1" ry="2.7" fill="#049ce8"/><ellipse cx="172.4" cy="58.4" rx="5.1" ry="5.3" fill="#00bfb0"/><ellipse cx="169.4" cy="66.4" rx="3.1" ry="2.7" fill="#3452f6"/><ellipse cx="174.5" cy="53.1" rx="2.0" ry="1.8" fill="#fcc80a"/><ellipse cx="208.2" cy="22.7" rx="5.7" ry="2.5" fill="#fcc80a"/><ellipse cx="215.3" cy="23.1" rx="4.1" ry="2.1" fill="#14c87a"/><ellipse cx="220.4" cy="24.8" rx="4.1" ry="2.7" fill="#00b6c8"/><ellipse cx="237.8" cy="35.5" rx="14.3" ry="3.2" fill="#02acd8"/><ellipse cx="241.9" cy="43.4" rx="6.1" ry="2.1" fill="#02acd8"/><ellipse cx="264.3" cy="28.4" rx="9.2" ry="3.2" fill="#fbdf08"/><ellipse cx="264.3" cy="33.7" rx="12.3" ry="3.2" fill="#00b6c8"/><ellipse cx="252.1" cy="24.8" rx="6.1" ry="4.4" fill="#0a88f6"/><ellipse cx="298.0" cy="24.8" rx="3.1" ry="1.8" fill="#14c87a"/><ellipse cx="290.9" cy="26.6" rx="2.0" ry="1.4" fill="#00b6c8"/><ellipse cx="335.8" cy="22.2" rx="12.3" ry="2.7" fill="#02acd8"/><ellipse cx="239.8" cy="56.7" rx="11.2" ry="5.3" fill="#08c794"/><ellipse cx="230.6" cy="63.7" rx="5.1" ry="3.5" fill="#08c794"/><ellipse cx="226.6" cy="75.2" rx="6.1" ry="3.2" fill="#1a6ef8"/><ellipse cx="273.5" cy="56.7" rx="13.3" ry="5.0" fill="#08c794"/><ellipse cx="268.4" cy="58.4" rx="2.0" ry="1.4" fill="#f6be02"/><ellipse cx="276.6" cy="56.7" rx="1.6" ry="1.1" fill="#eeb404"/><ellipse cx="255.1" cy="70.8" rx="1.6" ry="1.8" fill="#fcc80a"/><ellipse cx="251.1" cy="67.3" rx="3.1" ry="3.5" fill="#1a6ef8"/><ellipse cx="258.2" cy="80.5" rx="2.0" ry="2.7" fill="#1a6ef8"/><ellipse cx="209.2" cy="62.0" rx="6.1" ry="5.3" fill="#4a3aee"/><ellipse cx="194.9" cy="76.1" rx="12.3" ry="7.1" fill="#08c794"/><ellipse cx="217.4" cy="80.5" rx="7.4" ry="7.4" fill="#fcc80a"/><ellipse cx="215.3" cy="80.5" rx="2.5" ry="2.7" fill="#00b6c8"/><ellipse cx="125.5" cy="117.7" rx="3.1" ry="7.1" fill="#00b6c8"/><ellipse cx="107.7" cy="119.4" rx="1.6" ry="12.4" fill="#14c87a"/><ellipse cx="111.2" cy="134.5" rx="1.6" ry="2.1" fill="#14c87a"/><ellipse cx="32.6" cy="168.1" rx="8.2" ry="2.7" fill="#14c87a"/><ellipse cx="50.9" cy="171.6" rx="10.2" ry="2.7" fill="#00b6c8"/><ellipse cx="67.3" cy="173.4" rx="16.3" ry="3.5" fill="#1a6ef8"/><ellipse cx="219.4" cy="87.6" rx="8.2" ry="3.5" fill="#c2bc08"/><ellipse cx="197.4" cy="115.0" rx="2.9" ry="5.3" fill="#fcc80a"/><ellipse cx="207.2" cy="111.5" rx="4.1" ry="3.5" fill="#14c87a"/><ellipse cx="213.3" cy="106.2" rx="4.1" ry="3.5" fill="#0a88f6"/><ellipse cx="299.0" cy="113.3" rx="4.1" ry="2.7" fill="#fcc80a"/><ellipse cx="315.4" cy="114.1" rx="6.5" ry="5.0" fill="#fcc80a"/><ellipse cx="325.6" cy="122.1" rx="3.1" ry="2.7" fill="#f6be02"/><ellipse cx="330.1" cy="115.0" rx="2.9" ry="6.2" fill="#00bfb0"/><ellipse cx="266.4" cy="162.8" rx="10.2" ry="4.4" fill="#3452f6"/><ellipse cx="317.4" cy="169.8" rx="12.3" ry="4.4" fill="#3452f6"/><ellipse cx="327.6" cy="177.3" rx="40.8" ry="1.8" fill="#3452f6"/></g><g filter="url(#speckP)"><path d="M-1.0 18.0 L13.0 18.0 L13.0 28.0 L-1.0 28.0Z" fill="#4a3aee"/><path d="M10.0 18.0 L25.0 18.0 L25.0 38.0 L10.0 38.0Z" fill="#4a3aee"/><path d="M25.0 18.0 L39.0 18.0 L39.0 33.0 L25.0 33.0Z" fill="#1a6ef8"/><path d="M39.0 20.0 L60.0 20.0 L65.0 41.0 L54.0 43.0 L39.0 33.0Z" fill="#1a6ef8"/><path d="M60.0 30.0 L85.0 30.0 L85.0 41.0 L65.0 41.0Z" fill="#1a6ef8"/><path d="M55.0 18.0 L122.0 18.0 L122.0 32.0 L85.0 35.0 L60.0 30.0Z" fill="#1a6ef8"/><path d="M85.0 34.0 L128.0 34.0 L128.0 46.0 L100.0 46.0 L85.0 41.0Z" fill="#1a6ef8"/><path d="M54.0 41.0 L70.0 41.0 L70.0 59.0 L62.0 59.0 L54.0 50.0Z" fill="#02acd8"/><path d="M70.0 41.0 L87.0 41.0 L87.0 62.0 L70.0 62.0Z" fill="#02acd8"/><path d="M87.0 41.0 L114.0 41.0 L114.0 66.0 L87.0 62.0Z" fill="#1a6ef8"/><path d="M62.0 57.0 L80.0 59.0 L83.0 68.0 L74.0 69.0 L62.0 62.0Z" fill="#00b6c8"/><path d="M80.0 59.0 L87.0 62.0 L84.0 72.0 L83.0 68.0Z" fill="#1a6ef8"/><path d="M74.0 69.0 L85.0 68.0 L94.0 76.0 L83.0 76.0Z" fill="#1a6ef8"/><path d="M88.0 72.0 L103.0 72.0 L103.0 83.0 L88.0 78.0Z" fill="#4a3aee"/><path d="M94.0 66.0 L116.0 66.0 L116.0 73.0 L94.0 73.0Z" fill="#4a3aee"/><path d="M105.0 6.0 L170.0 6.0 L170.0 31.0 L105.0 31.0Z" fill="#1a6ef8"/><path d="M98.0 77.0 L132.0 77.0 L132.0 100.0 L98.0 100.0Z" fill="#1a6ef8"/><path d="M108.0 100.0 L125.0 100.0 L125.0 115.0 L115.0 115.0 L108.0 105.0Z" fill="#4a3aee"/><path d="M132.0 90.0 L146.0 95.0 L140.0 115.0 L125.0 115.0 L122.0 100.0 L132.0 100.0Z" fill="#4a3aee"/><path d="M98.0 93.0 L108.0 93.0 L110.0 108.0 L104.0 108.0Z" fill="#1a6ef8"/><path d="M115.0 110.0 L125.0 115.0 L132.0 115.0 L132.0 125.0 L123.0 130.0 L115.0 130.0Z" fill="#02acd8"/><path d="M104.0 130.0 L118.0 130.0 L118.0 146.0 L104.0 146.0Z" fill="#14c87a"/><path d="M162.0 75.0 L162.0 68.0 L167.0 61.0 L172.0 54.0 L190.0 52.0 L190.0 75.0Z" fill="#3452f6"/><path d="M190.0 52.0 L191.0 57.0 L200.0 59.0 L213.0 58.0 L215.0 63.0 L218.0 73.0 L216.0 75.0 L190.0 75.0Z" fill="#3452f6"/><path d="M162.0 75.0 L216.0 75.0 L216.0 84.0 L162.0 84.0Z" fill="#00b6c8"/><path d="M213.0 74.0 L224.0 74.0 L228.0 86.0 L214.0 88.0Z" fill="#00b6c8"/><path d="M223.0 78.0 L232.0 78.0 L228.0 90.0 L220.0 92.0 L222.0 84.0Z" fill="#00b6c8"/><path d="M188.0 84.0 L211.0 84.0 L211.0 102.0 L188.0 102.0Z" fill="#1a6ef8"/><path d="M211.0 87.0 L222.0 87.0 L222.0 106.0 L211.0 106.0Z" fill="#4a3aee"/><path d="M190.0 94.0 L207.0 94.0 L207.0 106.0 L190.0 106.0Z" fill="#0a88f6"/><path d="M200.0 105.0 L221.0 105.0 L221.0 126.0 L200.0 126.0Z" fill="#14c87a"/><path d="M190.0 106.0 L200.0 106.0 L200.0 120.0 L190.0 120.0Z" fill="#00bfb0"/><path d="M222.0 101.0 L231.0 101.0 L231.0 116.0 L222.0 116.0Z" fill="#1a6ef8"/><path d="M170.0 46.0 L184.0 46.0 L184.0 55.0 L170.0 55.0Z" fill="#4a3aee"/><path d="M169.0 29.0 L182.0 29.0 L182.0 41.0 L169.0 41.0Z" fill="#1a6ef8"/><path d="M175.0 34.0 L195.0 34.0 L195.0 47.0 L184.0 48.0 L175.0 46.0Z" fill="#1a6ef8"/><path d="M195.0 34.0 L210.0 34.0 L210.0 51.0 L195.0 51.0Z" fill="#3452f6"/><path d="M187.0 43.0 L206.0 43.0 L206.0 54.0 L187.0 54.0Z" fill="#1a6ef8"/><path d="M184.0 26.0 L212.0 26.0 L212.0 35.0 L184.0 35.0Z" fill="#1a6ef8"/><path d="M184.0 18.0 L225.0 18.0 L225.0 26.0 L184.0 26.0Z" fill="#4f2ade"/><path d="M210.0 26.0 L240.0 26.0 L240.0 38.0 L210.0 38.0Z" fill="#0a88f6"/><path d="M225.0 18.0 L248.0 18.0 L248.0 26.0 L225.0 26.0Z" fill="#1a6ef8"/><path d="M202.0 38.0 L232.0 38.0 L232.0 47.0 L202.0 47.0Z" fill="#1a6ef8"/><path d="M206.0 48.0 L225.0 48.0 L225.0 54.5 L206.0 54.5Z" fill="#02acd8"/><path d="M224.0 50.0 L242.0 50.0 L242.0 65.0 L228.0 62.0 L224.0 57.0Z" fill="#1a6ef8"/><path d="M214.0 53.0 L224.0 53.0 L224.0 61.0 L214.0 61.0Z" fill="#3452f6"/><path d="M214.0 60.0 L228.0 60.0 L236.0 65.0 L240.0 68.0 L232.0 75.0 L223.0 78.0 L215.0 65.0Z" fill="#3452f6"/><path d="M230.0 35.0 L265.0 35.0 L265.0 47.0 L230.0 47.0Z" fill="#02acd8"/><path d="M232.0 47.0 L255.0 47.0 L255.0 55.0 L232.0 55.0Z" fill="#1a6ef8"/><path d="M240.0 54.0 L255.0 54.0 L255.0 67.0 L240.0 67.0Z" fill="#1a6ef8"/><path d="M240.0 24.0 L270.0 24.0 L270.0 35.0 L240.0 35.0Z" fill="#02acd8"/><path d="M240.0 12.0 L305.0 12.0 L305.0 24.0 L240.0 24.0Z" fill="#4f2ade"/><path d="M270.0 24.0 L305.0 24.0 L305.0 40.0 L270.0 40.0Z" fill="#1a6ef8"/><path d="M305.0 15.0 L362.0 15.0 L362.0 26.0 L305.0 26.0Z" fill="#0a88f6"/><path d="M305.0 26.0 L345.0 26.0 L345.0 38.0 L305.0 38.0Z" fill="#1a6ef8"/><path d="M300.0 35.0 L322.0 35.0 L322.0 50.0 L300.0 50.0Z" fill="#1a6ef8"/><path d="M335.0 28.0 L346.0 28.0 L346.0 40.0 L335.0 40.0Z" fill="#4a3aee"/><path d="M340.0 20.0 L372.0 20.0 L372.0 28.0 L340.0 28.0Z" fill="#4a3aee"/><path d="M265.0 38.0 L300.0 38.0 L300.0 50.0 L265.0 50.0Z" fill="#1a6ef8"/><path d="M255.0 50.0 L283.0 50.0 L283.0 63.0 L255.0 63.0Z" fill="#1a6ef8"/><path d="M246.0 60.0 L272.0 60.0 L272.0 84.0 L246.0 84.0Z" fill="#1a6ef8"/><path d="M283.0 48.0 L304.0 48.0 L304.0 70.0 L283.0 70.0Z" fill="#1a6ef8"/><path d="M272.0 62.0 L290.0 62.0 L290.0 90.0 L272.0 90.0Z" fill="#1a6ef8"/><path d="M304.0 44.0 L327.0 44.0 L327.0 60.0 L304.0 60.0Z" fill="#1a6ef8"/><path d="M274.0 82.0 L310.0 82.0 L310.0 101.0 L274.0 101.0Z" fill="#1a6ef8"/><path d="M310.0 90.0 L332.0 90.0 L332.0 101.0 L310.0 101.0Z" fill="#1a6ef8"/><path d="M296.0 70.0 L308.0 70.0 L308.0 85.0 L296.0 85.0Z" fill="#4f2ade"/><path d="M292.0 102.0 L305.0 102.0 L305.0 126.0 L292.0 126.0Z" fill="#fcc80a"/><path d="M305.0 100.0 L320.0 100.0 L320.0 126.0 L305.0 126.0Z" fill="#fcc80a"/><path d="M320.0 100.0 L335.0 100.0 L335.0 130.0 L320.0 130.0Z" fill="#00b6c8"/><path d="M305.0 100.0 L325.0 100.0 L325.0 107.0 L305.0 107.0Z" fill="#00b6c8"/><path d="M345.0 123.0 L360.0 123.0 L360.0 138.0 L345.0 138.0Z" fill="#4a3aee"/><path d="M-5.0 150.0 L70.0 150.0 L70.0 182.0 L-5.0 182.0Z" fill="#08c794"/><path d="M70.0 150.0 L120.0 150.0 L120.0 182.0 L70.0 182.0Z" fill="#0a88f6"/><path d="M120.0 150.0 L170.0 150.0 L170.0 182.0 L120.0 182.0Z" fill="#4f2ade"/><path d="M170.0 150.0 L240.0 150.0 L240.0 182.0 L170.0 182.0Z" fill="#3452f6"/><path d="M240.0 150.0 L300.0 150.0 L300.0 182.0 L240.0 182.0Z" fill="#1a6ef8"/><path d="M300.0 150.0 L365.0 150.0 L365.0 182.0 L300.0 182.0Z" fill="#1a6ef8"/><path d="M-5.0 175.0 L365.0 175.0 L365.0 182.0 L-5.0 182.0Z" fill="#3452f6"/></g><g filter="url(#speckW)"><path d="M57.1 21.3 L126.5 21.3 L127.5 42.5 L114.2 47.0 L96.0 46.4 L85.7 40.8 L73.4 35.5 L61.2 28.4Z" fill="#fff"/><path d="M246.0 14.2 L365.0 14.2 L365.0 19.5 L246.0 19.5Z" fill="#fff"/><path d="M0.0 14.2 L15.0 14.2 L15.0 19.5 L0.0 19.5Z" fill="#fff"/></g><g filter="url(#bl1_5)"><ellipse cx="75.9" cy="62.3" rx="4.1" ry="5.0" fill="#14c87a" opacity="0.70"/><path d="M71.8 57.0 L73.8 56.3 L77.1 61.1 L80.4 67.3 L78.7 69.4 L75.9 63.7Z" fill="#fcc80a" opacity="0.90"/><path d="M109.6 107.6 L113.8 107.1 L114.2 120.3 L112.6 131.8 L109.3 131.3 L108.7 120.3Z" fill="#fbdf08"/><ellipse cx="117.9" cy="156.7" rx="2.2" ry="1.8" fill="#fbdf08"/></g><path d="M100.0 0.0 L180.0 0.0 L180.0 30.0 L164.0 30.0 L157.0 19.5 L157.0 10.7 L151.0 8.6 L100.0 8.6Z" fill="#fff"/><path d="M155.0 23.0 L168.0 23.0 L168.0 27.0 L155.0 27.0Z" fill="#fff"/>
<path fill="#fff" d="M96.5 167.2 L120.5 167.2 L135.0 168.4 L150.0 168.4 L152.5 169.5 L148.0 171.3 L135.0 171.7 L120.0 172.3 L105.0 172.8 L96.5 171.5 L95.5 169.0Z"/><path fill="#fff" d="M-263.5 167.2 L-239.5 167.2 L-225.0 168.4 L-210.0 168.4 L-207.5 169.5 L-212.0 171.3 L-225.0 171.7 L-240.0 172.3 L-255.0 172.8 L-263.5 171.5 L-264.5 169.0Z"/><path fill="#fff" d="M347.5 159.5 L348.5 162.0 L345.0 165.0 L342.0 168.0 L339.0 171.0 L341.0 173.3 L350.0 173.9 L360.0 174.0 L380.0 174.2 L384.0 173.5 L382.0 170.5 L385.0 168.5 L388.0 166.5 L391.0 165.2 L391.0 160.0 L360.0 160.0Z"/><path fill="#fff" d="M-12.5 159.5 L-11.5 162.0 L-15.0 165.0 L-18.0 168.0 L-21.0 171.0 L-19.0 173.3 L-10.0 173.9 L0.0 174.0 L20.0 174.2 L24.0 173.5 L22.0 170.5 L25.0 168.5 L28.0 166.5 L31.0 165.2 L31.0 160.0 L0.0 160.0Z"/>
<g fill="none" stroke="#fff" stroke-linejoin="round" stroke-linecap="round" opacity="0.9"><path d="M192.3 96.0 L193.5 95.5 L195.3 94.3 L196.5 92.5 L197.5 90.5 L198.5 88.8 L200.5 88.0 L202.5 88.2 L204.0 89.0 L205.2 89.6 L205.5 91.5 L206.0 94.0 L207.0 97.0" stroke-width="0.9"/><path d="M107.0 94.2 L110.0 93.6 L113.0 93.2 L116.0 93.5 L120.0 93.2 L123.0 92.6 L126.0 92.0 L129.0 91.0 L130.5 90.2" stroke-width="1.0"/><path d="M110.0 91.0 L114.0 90.3 L117.0 91.2 L120.0 93.2" stroke-width="0.7"/><path d="M118.0 98.0 L119.0 95.5 L120.0 93.2" stroke-width="0.6"/><path d="M209.3 93.3 L209.8 95.5 L210.5 97.5 L211.0 98.7" stroke-width="0.9"/><path d="M214.2 99.5 L214.6 102.0 L215.2 104.3" stroke-width="0.9"/><path d="M284.0 38.4 L286.0 37.5 L288.0 36.0 L289.5 34.4" stroke-width="0.9"/><path d="M306.0 17.5 L307.0 20.0 L305.0 23.0 L304.0 25.5 L308.0 27.5 L310.0 29.0 L308.0 30.5" stroke-width="0.5"/><path d="M263.0 18.5 L266.5 21.0 L268.0 24.0 L270.0 28.0 L272.0 31.5" stroke-width="0.5"/><path d="M253.0 23.0 L249.0 25.0 L247.0 28.0 L248.0 30.0 L253.0 31.5 L259.0 33.0" stroke-width="0.5"/><path d="M83.0 39.0 L82.0 37.0 L81.0 36.0" stroke-width="1.2"/><path d="M57.0 25.0 L60.0 26.0 L63.0 27.5 L65.0 28.5" stroke-width="1.0"/><path d="M68.0 23.5 L62.0 24.0 L59.0 24.5" stroke-width="1.0"/></g>
<g fill="#fff"><ellipse cx="213.0" cy="91.0" rx="1.6" ry="1.5"/><ellipse cx="82.0" cy="37.5" rx="0.6" ry="1.8"/><ellipse cx="64.0" cy="28.4" rx="2.0" ry="0.8"/><ellipse cx="59.0" cy="24.0" rx="2.5" ry="0.9"/><ellipse cx="215.5" cy="44.0" rx="0.2" ry="0.2"/><ellipse cx="240.0" cy="45.0" rx="1.0" ry="1.0"/><ellipse cx="257.0" cy="43.5" rx="2.5" ry="0.5"/></g>
</g>
<g fill="#fff"><path d="M208.0 48.4 L209.1 48.8 L211.0 48.9 L213.0 48.1 L215.0 47.9 L216.5 48.7 L218.0 49.0 L220.0 49.0 L221.6 48.4 L221.5 47.5 L219.7 46.5 L218.0 45.5 L216.8 44.8 L216.5 44.6 L215.3 45.0 L214.0 45.6 L213.4 45.4 L213.5 44.8 L212.5 44.6 L213.5 44.0 L212.0 43.5 L210.7 43.5 L210.0 44.2 L209.6 44.8 L208.7 45.8 L208.0 46.7 L207.8 47.5Z"/><path d="M215.0 44.7 L216.6 44.6 L218.5 43.3 L219.2 42.8 L217.5 43.0 L215.5 43.6 L215.0 44.2Z"/><path d="M226.7 45.4 L227.5 44.5 L229.0 43.5 L231.5 43.0 L233.0 43.3 L233.0 45.0 L231.3 45.5 L231.0 46.7 L232.5 48.0 L233.0 49.0 L232.8 50.0 L233.9 50.5 L233.8 52.7 L232.0 53.2 L230.3 52.8 L229.0 52.2 L229.0 51.0 L229.5 49.7 L228.6 48.4 L227.5 47.2 L227.3 46.2Z"/><path d="M88.0 43.3 L92.0 41.5 L95.0 42.1 L95.5 43.5 L93.0 43.5 L89.5 43.5Z"/><path d="M92.5 48.3 L93.5 47.5 L93.8 45.5 L95.0 44.2 L93.0 44.0 L92.0 45.5 L92.2 47.5Z"/><path d="M96.0 44.0 L98.5 44.2 L100.0 45.5 L98.3 46.8 L97.5 47.0 L96.5 46.0 L95.5 44.5Z"/><path d="M96.7 48.3 L99.0 48.2 L101.0 47.2 L99.5 47.4 L97.5 48.0Z"/><path d="M100.5 46.7 L103.5 46.6 L103.7 45.9 L101.0 46.2Z"/></g>
<g clip-path="url(#ndclip)" stroke="#b9b9b9" stroke-width="0.7" fill="none" vector-effect="non-scaling-stroke"><path d="M12.0 24.4 L14.0 21.7 L17.0 20.3 L23.2 18.7 L28.0 19.2 L32.0 19.7 L39.0 20.4 L44.0 21.0 L48.0 20.4 L52.0 19.6 L56.0 20.4 L60.0 21.0 L65.0 21.8 L70.0 22.0 L75.0 21.7 L80.0 22.2 L83.0 21.7 L85.0 20.5 L86.0 18.2 L88.0 19.5 L90.0 21.0 L94.0 20.8 L98.0 20.5 L96.0 23.0 L93.0 24.5 L92.0 25.8 L88.0 27.5 L85.8 31.0 L87.0 33.0 L90.0 33.0 L94.0 34.5 L97.5 35.0 L98.0 37.0 L100.0 38.7 L101.0 37.5 L101.0 35.5 L103.0 33.5 L102.5 31.5 L102.0 29.5 L102.0 27.7 L106.0 27.5 L109.0 28.8 L110.5 31.0 L112.5 31.7 L114.0 31.2 L115.5 29.7 L116.5 31.5 L118.0 32.5 L119.0 34.0 L120.5 34.8 L122.5 36.0 L124.0 37.5 L123.0 38.5 L120.0 39.8 L115.5 39.7 L113.5 40.0 L111.5 41.0 L110.0 42.2 L111.0 41.5 L113.5 40.8 L115.5 41.0 L115.2 42.2 L115.5 43.5 L118.5 44.0 L120.0 43.8 L120.0 44.4 L116.5 45.4 L114.2 46.4 L113.5 45.4 L115.0 44.7 L113.0 45.0 L111.5 45.8 L109.8 46.4 L109.2 47.4 L110.0 48.2 L108.5 48.7 L106.5 49.2 L106.0 49.5 L105.7 50.5 L105.0 51.2 L104.1 52.5 L103.7 53.0 L104.5 54.8 L103.5 55.4 L102.1 56.1 L100.8 57.0 L99.0 58.3 L98.6 60.0 L99.5 62.0 L100.0 63.3 L99.6 64.8 L98.8 64.7 L98.2 63.7 L97.2 62.0 L97.3 60.8 L96.0 60.0 L94.5 60.3 L93.5 59.6 L91.5 59.7 L90.5 59.8 L90.8 60.9 L89.5 60.9 L88.0 60.4 L86.0 60.4 L84.5 61.3 L82.7 62.4 L82.6 64.2 L82.3 66.0 L82.2 67.7 L82.8 69.4 L84.0 70.9 L85.5 71.8 L87.5 71.4 L89.0 71.2 L89.5 70.2 L89.7 69.0 L91.5 68.5 L93.0 68.5 L92.5 70.0 L92.2 71.5 L91.7 72.5 L91.5 74.1 L94.0 74.1 L96.0 74.2 L96.7 75.0 L96.5 77.5 L96.3 79.0 L97.5 80.2 L98.5 81.2 L100.0 80.7 L101.5 80.6 L102.7 81.4 L102.5 82.5 L101.5 82.0 L100.5 81.2 L99.6 82.0 L99.9 82.7 L98.5 82.3 L97.0 81.7 L95.5 80.3 L94.3 80.0 L94.2 78.8 L92.7 77.1 L91.5 76.8 L90.0 76.2 L88.5 76.0 L87.0 74.7 L85.5 73.9 L83.5 74.4 L81.5 73.8 L79.0 72.7 L76.5 71.7 L74.5 70.0 L74.7 68.2 L73.6 66.7 L71.5 64.7 L70.5 63.5 L69.2 62.2 L67.8 60.5 L66.5 58.8 L65.2 58.3 L65.7 59.5 L66.8 61.0 L67.7 62.5 L68.7 64.0 L69.4 65.5 L70.5 66.9 L69.8 67.1 L68.5 65.6 L67.8 65.0 L67.8 63.7 L65.7 62.5 L65.8 61.8 L64.7 60.5 L63.8 59.2 L62.9 57.5 L62.5 56.6 L61.5 56.0 L59.4 55.5 L59.0 54.3 L58.0 53.2 L57.5 52.2 L57.0 51.8 L56.2 50.5 L55.7 49.5 L55.9 48.0 L55.5 47.0 L56.0 43.8 L55.3 41.6 L57.0 41.7 L57.5 42.5 L57.2 41.0 L56.0 40.2 L54.5 39.5 L52.5 38.8 L52.0 37.5 L50.0 35.7 L49.0 34.5 L47.5 33.2 L45.5 32.0 L44.0 31.5 L42.5 31.3 L40.5 30.4 L38.0 29.9 L36.0 30.0 L33.5 29.2 L32.0 29.5 L30.0 30.5 L28.2 30.8 L28.5 29.5 L30.0 28.8 L27.5 29.8 L26.2 31.1 L25.5 32.0 L23.7 32.8 L21.5 33.8 L19.5 34.5 L17.5 35.0 L15.2 35.6 L16.5 34.9 L18.5 34.0 L20.5 32.8 L22.5 31.7 L22.8 31.2 L21.0 31.5 L18.2 31.2 L17.8 30.2 L16.2 30.0 L14.8 29.5 L14.7 28.7 L14.0 28.2 L15.0 27.5 L15.6 26.8 L17.7 26.5 L19.0 25.6 L17.5 25.5 L15.5 25.4 L13.7 25.4 L13.7 24.8 L12.0 24.4Z"/><path d="M136.0 30.2 L134.0 29.2 L132.0 29.0 L129.5 26.5 L128.5 25.0 L126.5 23.2 L126.5 21.5 L129.0 20.5 L126.0 19.5 L125.0 18.5 L124.0 16.0 L121.5 14.3 L114.0 13.8 L108.5 12.7 L107.0 11.7 L112.0 10.0 L118.0 8.2 L130.0 7.6 L140.0 6.7 L150.0 6.4 L158.0 7.2 L160.0 8.5 L168.0 8.5 L164.0 10.0 L162.0 11.5 L161.0 13.0 L161.5 15.0 L158.5 17.0 L158.0 19.0 L158.0 19.8 L154.0 21.5 L148.0 21.8 L145.0 24.0 L142.0 24.5 L139.5 25.5 L138.0 27.5 L137.0 29.5Z"/><path d="M155.5 24.5 L158.0 23.6 L162.0 23.8 L165.0 23.5 L166.5 24.8 L165.2 25.7 L162.0 26.6 L159.0 26.2 L157.3 26.0Z"/><path d="M120.7 42.4 L123.0 38.5 L124.5 38.4 L124.5 40.5 L126.5 40.7 L127.3 42.5 L126.5 43.3 L125.0 43.0 L124.0 42.4Z"/></g>
</g></g>
<rect x="13.50" y="49.90" width="362.50" height="213.60" fill="none" stroke="#111" stroke-width="1.8"/>
<rect x="18.10" y="54.90" width="352.60" height="203.60" fill="none" stroke="#111" stroke-width="1.8"/>
<rect x="386.50" y="252.75" width="18.70" height="11.05" fill="#3e1caa"/>
<rect x="386.50" y="241.99" width="18.70" height="11.05" fill="#4822c6"/>
<rect x="386.50" y="231.24" width="18.70" height="11.05" fill="#4f2ade"/>
<rect x="386.50" y="220.48" width="18.70" height="11.05" fill="#4a3aee"/>
<rect x="386.50" y="209.73" width="18.70" height="11.05" fill="#3452f6"/>
<rect x="386.50" y="198.97" width="18.70" height="11.05" fill="#1a6ef8"/>
<rect x="386.50" y="188.22" width="18.70" height="11.05" fill="#0a88f6"/>
<rect x="386.50" y="177.46" width="18.70" height="11.05" fill="#049ce8"/>
<rect x="386.50" y="166.71" width="18.70" height="11.05" fill="#02acd8"/>
<rect x="386.50" y="155.95" width="18.70" height="11.05" fill="#00b6c8"/>
<rect x="386.50" y="145.19" width="18.70" height="11.05" fill="#00bfb0"/>
<rect x="386.50" y="134.44" width="18.70" height="11.05" fill="#08c794"/>
<rect x="386.50" y="123.69" width="18.70" height="11.05" fill="#14c87a"/>
<rect x="386.50" y="112.93" width="18.70" height="11.05" fill="#5cc44e"/>
<rect x="386.50" y="102.18" width="18.70" height="11.05" fill="#c2bc08"/>
<rect x="386.50" y="91.42" width="18.70" height="11.05" fill="#eeb404"/>
<rect x="386.50" y="80.67" width="18.70" height="11.05" fill="#f6be02"/>
<rect x="386.50" y="69.91" width="18.70" height="11.05" fill="#fcc80a"/>
<rect x="386.50" y="59.16" width="18.70" height="11.05" fill="#fbdf08"/>
<rect x="386.50" y="48.40" width="18.70" height="11.05" fill="#f3f40a"/>
<rect x="386.50" y="48.40" width="18.70" height="215.10" fill="none" stroke="#151515" stroke-width="1.5"/>
<path d="M402.20 209.73H405.20" stroke="#202020" stroke-width="1"/>
<path d="M402.20 155.95H405.20" stroke="#202020" stroke-width="1"/>
<path d="M402.20 102.18H405.20" stroke="#202020" stroke-width="1"/>
<text x="0" y="0" transform="translate(409.50 268.75) scale(0.975 1)" style="font-size:15.10px">0</text>
<text x="0" y="0" transform="translate(409.50 214.98) scale(0.975 1)" style="font-size:15.10px">5</text>
<path d="M870 0L590 0L590 1030Q450 905 225 830L225 1075Q345 1115 470 1212Q595 1309 640 1409L870 1409Z" transform="translate(409.50 161.20) scale(0.00719 -0.00737)" fill="#0d0d0d" stroke="#0d0d0d" stroke-width="40.7"/><text x="0" y="0" transform="translate(417.69 161.20) scale(0.975 1)" style="font-size:15.10px">0</text>
<path d="M870 0L590 0L590 1030Q450 905 225 830L225 1075Q345 1115 470 1212Q595 1309 640 1409L870 1409Z" transform="translate(409.50 107.43) scale(0.00719 -0.00737)" fill="#0d0d0d" stroke="#0d0d0d" stroke-width="40.7"/><text x="0" y="0" transform="translate(417.69 107.43) scale(0.975 1)" style="font-size:15.10px">5</text>
<text x="0" y="0" transform="translate(409.50 53.65) scale(0.975 1)" style="font-size:15.10px">2</text><text x="0" y="0" transform="translate(417.69 53.65) scale(0.975 1)" style="font-size:15.10px">0</text>
<text x="124.66" y="21.20" style="font-size:19.10px">D</text><text x="138.45" y="21.20" style="font-size:19.10px">T</text><text x="150.12" y="21.20" style="font-size:19.10px">R</text><text x="169.22" y="21.20" style="font-size:19.10px">3</text><text x="179.84" y="21.20" style="font-size:19.10px">6</text><text x="195.77" y="21.20" style="font-size:19.10px">(</text><text x="202.13" y="21.20" style="font-size:19.10px">V</text><text x="214.87" y="21.20" style="font-size:19.10px">)</text><text x="226.54" y="21.20" style="font-size:19.10px">G</text><text x="241.40" y="21.20" style="font-size:19.10px">H</text><text x="255.19" y="21.20" style="font-size:19.10px">z</text>
<text x="160.18" y="42.80" style="font-size:19.10px">0</text><text x="170.80" y="42.80" style="font-size:19.10px">2</text><text x="181.42" y="42.80" style="font-size:19.10px">/</text><text x="186.73" y="42.80" style="font-size:19.10px">2</text><text x="197.35" y="42.80" style="font-size:19.10px">0</text><path d="M870 0L590 0L590 1030Q450 905 225 830L225 1075Q345 1115 470 1212Q595 1309 640 1409L870 1409Z" transform="translate(207.98 42.80) scale(0.00933 -0.00933)" fill="#0d0d0d" stroke="#0d0d0d" stroke-width="32.2"/><text x="218.60" y="42.80" style="font-size:19.10px">6</text>
<text x="19.70" y="40.60" style="font-size:19.60px">(</text><text x="27.13" y="40.60" style="font-size:19.60px">a</text><text x="38.93" y="40.60" style="font-size:19.60px">)</text>
<rect x="441.10" y="49.50" width="362.70" height="213.80" fill="#fff"/>
<g clip-path="url(#clipb)">
<path d="M475.56 54.45V258.40M504.92 54.45V258.40M534.27 54.45V258.40M563.63 54.45V258.40M592.99 54.45V258.40M622.35 54.45V258.40M651.71 54.45V258.40M681.07 54.45V258.40M710.42 54.45V258.40M739.78 54.45V258.40M769.14 54.45V258.40M446.20 241.40H798.50M446.20 224.41H798.50M446.20 207.41H798.50M446.20 190.42H798.50M446.20 173.42H798.50M446.20 156.43H798.50M446.20 139.43H798.50M446.20 122.43H798.50M446.20 105.44H798.50M446.20 88.44H798.50M446.20 71.45H798.50" stroke="#8a8a8a" stroke-width="0.9" stroke-dasharray="1 2.6" fill="none"/>
<g transform="translate(446.200 54.450) scale(0.97861 1.13306)">
<g stroke="#b9b9b9" stroke-width="0.7" fill="none" vector-effect="non-scaling-stroke"><path d="M118.5 23.3 L116.0 25.0 L114.5 27.5 L110.0 27.2 L108.0 26.5 L102.5 25.0 L106.0 23.5 L107.0 22.0 L104.0 21.0 L100.0 20.0 L94.0 19.5 L91.0 17.5 L95.0 16.4 L100.0 16.3 L104.0 17.5 L107.0 18.5 L111.0 19.5 L113.0 20.5 L116.0 22.5Z"/><path d="M105.0 13.5 L100.0 13.8 L91.0 13.5 L90.0 12.0 L85.0 10.0 L88.0 8.7 L95.0 7.5 L110.0 7.0 L118.0 7.5 L115.0 9.0 L110.0 10.5 L105.0 11.5 L102.0 12.5Z"/><path d="M100.0 15.5 L88.0 15.2 L89.0 13.5 L98.0 13.5Z"/><path d="M61.0 18.5 L63.0 16.5 L72.0 16.5 L78.0 17.0 L79.0 20.0 L75.0 21.5 L68.0 21.0 L63.0 20.5Z"/><path d="M54.5 18.0 L56.0 15.7 L63.0 15.7 L64.5 17.0 L60.0 18.8Z"/><path d="M82.0 18.5 L90.0 18.0 L90.0 16.0 L85.0 16.0 L82.0 16.5Z"/><path d="M62.0 14.5 L74.0 15.0 L76.0 13.5 L68.0 12.7 L63.0 13.5Z"/><path d="M79.0 14.5 L84.0 14.5 L84.0 13.0 L79.0 13.3Z"/><path d="M93.0 26.5 L99.5 26.5 L96.0 24.5 L93.5 24.0Z"/><path d="M85.0 11.5 L92.0 11.8 L94.0 9.5 L88.0 8.8 L84.0 10.0Z"/><path d="M191.0 11.5 L196.0 10.0 L203.0 9.5 L207.0 10.0 L202.0 12.0 L197.0 13.5 L193.0 12.5Z"/><path d="M232.0 18.5 L235.0 17.0 L237.0 14.5 L242.0 13.5 L248.5 13.1 L244.0 14.5 L239.0 16.5 L236.5 19.0 L233.0 19.4Z"/><path d="M275.0 10.5 L280.0 9.0 L284.0 10.5 L281.0 11.7 L277.0 11.2Z"/><path d="M316.0 16.0 L320.0 14.5 L323.0 14.3 L330.0 14.8 L326.0 15.5 L321.0 16.5 L317.0 16.8Z"/><path d="M358.5 18.8 L361.0 18.4 L363.0 18.8 L361.0 19.2Z"/><path d="M227.0 9.5 L235.0 8.5 L243.0 9.0 L240.0 10.0 L232.0 10.0Z"/></g>
<g clip-path="url(#landclip)">
<rect x="-12" y="-5" width="384" height="190" fill="#4f2ade"/><g filter="url(#bl3)"><path d="M-1.0 18.0 L13.0 18.0 L13.0 28.0 L-1.0 28.0Z" fill="#3452f6"/><path d="M10.0 18.0 L25.0 18.0 L25.0 38.0 L10.0 38.0Z" fill="#4a3aee"/><path d="M25.0 18.0 L39.0 18.0 L39.0 33.0 L25.0 33.0Z" fill="#4f2ade"/><path d="M39.0 20.0 L60.0 20.0 L65.0 41.0 L54.0 43.0 L39.0 33.0Z" fill="#4f2ade"/><path d="M60.0 30.0 L85.0 30.0 L85.0 41.0 L65.0 41.0Z" fill="#4a3aee"/><path d="M55.0 18.0 L122.0 18.0 L122.0 32.0 L85.0 35.0 L60.0 30.0Z" fill="#4f2ade"/><path d="M85.0 34.0 L128.0 34.0 L128.0 46.0 L100.0 46.0 L85.0 41.0Z" fill="#4a3aee"/><path d="M54.0 41.0 L70.0 41.0 L70.0 59.0 L62.0 59.0 L54.0 50.0Z" fill="#08c794"/><path d="M70.0 41.0 L87.0 41.0 L87.0 62.0 L70.0 62.0Z" fill="#0a88f6"/><path d="M87.0 41.0 L114.0 41.0 L114.0 66.0 L87.0 62.0Z" fill="#1a6ef8"/><path d="M62.0 57.0 L80.0 59.0 L83.0 68.0 L74.0 69.0 L62.0 62.0Z" fill="#00bfb0"/><path d="M80.0 59.0 L87.0 62.0 L84.0 72.0 L83.0 68.0Z" fill="#02acd8"/><path d="M74.0 69.0 L85.0 68.0 L94.0 76.0 L83.0 76.0Z" fill="#0a88f6"/><path d="M88.0 72.0 L103.0 72.0 L103.0 83.0 L88.0 78.0Z" fill="#0a88f6"/><path d="M94.0 66.0 L116.0 66.0 L116.0 73.0 L94.0 73.0Z" fill="#1a6ef8"/><path d="M105.0 6.0 L170.0 6.0 L170.0 31.0 L105.0 31.0Z" fill="#4a3aee"/><path d="M155.0 23.0 L167.0 23.0 L167.0 27.0 L155.0 27.0Z" fill="#0a88f6"/><path d="M98.0 77.0 L132.0 77.0 L132.0 100.0 L98.0 100.0Z" fill="#4a3aee"/><path d="M108.0 100.0 L125.0 100.0 L125.0 115.0 L115.0 115.0 L108.0 105.0Z" fill="#00b6c8"/><path d="M132.0 90.0 L146.0 95.0 L140.0 115.0 L125.0 115.0 L122.0 100.0 L132.0 100.0Z" fill="#00bfb0"/><path d="M98.0 93.0 L108.0 93.0 L110.0 108.0 L104.0 108.0Z" fill="#00bfb0"/><path d="M108.0 105.0 L115.0 105.0 L115.0 132.0 L108.0 132.0Z" fill="#fbdf08"/><path d="M115.0 110.0 L125.0 115.0 L132.0 115.0 L132.0 125.0 L123.0 130.0 L115.0 130.0Z" fill="#08c794"/><path d="M104.0 130.0 L118.0 130.0 L118.0 146.0 L104.0 146.0Z" fill="#00bfb0"/><path d="M162.0 75.0 L162.0 68.0 L167.0 61.0 L172.0 54.0 L190.0 52.0 L190.0 75.0Z" fill="#02acd8"/><path d="M190.0 52.0 L191.0 57.0 L200.0 59.0 L213.0 58.0 L215.0 63.0 L218.0 73.0 L216.0 75.0 L190.0 75.0Z" fill="#02acd8"/><path d="M162.0 75.0 L216.0 75.0 L216.0 84.0 L162.0 84.0Z" fill="#3452f6"/><path d="M213.0 74.0 L224.0 74.0 L228.0 86.0 L214.0 88.0Z" fill="#00bfb0"/><path d="M223.0 78.0 L232.0 78.0 L228.0 90.0 L220.0 92.0 L222.0 84.0Z" fill="#08c794"/><path d="M188.0 84.0 L211.0 84.0 L211.0 102.0 L188.0 102.0Z" fill="#4a3aee"/><path d="M211.0 87.0 L222.0 87.0 L222.0 106.0 L211.0 106.0Z" fill="#08c794"/><path d="M190.0 94.0 L207.0 94.0 L207.0 106.0 L190.0 106.0Z" fill="#049ce8"/><path d="M200.0 105.0 L221.0 105.0 L221.0 126.0 L200.0 126.0Z" fill="#fcc80a"/><path d="M190.0 106.0 L200.0 106.0 L200.0 120.0 L190.0 120.0Z" fill="#fcc80a"/><path d="M222.0 101.0 L231.0 101.0 L231.0 116.0 L222.0 116.0Z" fill="#c2bc08"/><path d="M170.0 46.0 L184.0 46.0 L184.0 55.0 L170.0 55.0Z" fill="#02acd8"/><path d="M169.0 29.0 L182.0 29.0 L182.0 41.0 L169.0 41.0Z" fill="#049ce8"/><path d="M175.0 34.0 L195.0 34.0 L195.0 47.0 L184.0 48.0 L175.0 46.0Z" fill="#02acd8"/><path d="M195.0 34.0 L210.0 34.0 L210.0 51.0 L195.0 51.0Z" fill="#049ce8"/><path d="M187.0 43.0 L206.0 43.0 L206.0 54.0 L187.0 54.0Z" fill="#02acd8"/><path d="M184.0 26.0 L212.0 26.0 L212.0 35.0 L184.0 35.0Z" fill="#1a6ef8"/><path d="M184.0 18.0 L225.0 18.0 L225.0 26.0 L184.0 26.0Z" fill="#3452f6"/><path d="M210.0 26.0 L240.0 26.0 L240.0 38.0 L210.0 38.0Z" fill="#0a88f6"/><path d="M225.0 18.0 L248.0 18.0 L248.0 26.0 L225.0 26.0Z" fill="#1a6ef8"/><path d="M202.0 38.0 L232.0 38.0 L232.0 47.0 L202.0 47.0Z" fill="#08c794"/><path d="M206.0 48.0 L225.0 48.0 L225.0 54.5 L206.0 54.5Z" fill="#00bfb0"/><path d="M224.0 50.0 L242.0 50.0 L242.0 65.0 L228.0 62.0 L224.0 57.0Z" fill="#08c794"/><path d="M214.0 53.0 L224.0 53.0 L224.0 61.0 L214.0 61.0Z" fill="#08c794"/><path d="M214.0 60.0 L228.0 60.0 L236.0 65.0 L240.0 68.0 L232.0 75.0 L223.0 78.0 L215.0 65.0Z" fill="#00bfb0"/><path d="M230.0 35.0 L265.0 35.0 L265.0 47.0 L230.0 47.0Z" fill="#02acd8"/><path d="M232.0 47.0 L255.0 47.0 L255.0 55.0 L232.0 55.0Z" fill="#08c794"/><path d="M240.0 54.0 L255.0 54.0 L255.0 67.0 L240.0 67.0Z" fill="#00bfb0"/><path d="M240.0 24.0 L270.0 24.0 L270.0 35.0 L240.0 35.0Z" fill="#0a88f6"/><path d="M240.0 12.0 L305.0 12.0 L305.0 24.0 L240.0 24.0Z" fill="#3452f6"/><path d="M270.0 24.0 L305.0 24.0 L305.0 40.0 L270.0 40.0Z" fill="#4a3aee"/><path d="M305.0 15.0 L362.0 15.0 L362.0 26.0 L305.0 26.0Z" fill="#4a3aee"/><path d="M305.0 26.0 L345.0 26.0 L345.0 38.0 L305.0 38.0Z" fill="#4f2ade"/><path d="M300.0 35.0 L322.0 35.0 L322.0 50.0 L300.0 50.0Z" fill="#4a3aee"/><path d="M335.0 28.0 L346.0 28.0 L346.0 40.0 L335.0 40.0Z" fill="#1a6ef8"/><path d="M340.0 20.0 L372.0 20.0 L372.0 28.0 L340.0 28.0Z" fill="#3452f6"/><path d="M265.0 38.0 L300.0 38.0 L300.0 50.0 L265.0 50.0Z" fill="#00b6c8"/><path d="M255.0 50.0 L283.0 50.0 L283.0 63.0 L255.0 63.0Z" fill="#3452f6"/><path d="M246.0 60.0 L272.0 60.0 L272.0 84.0 L246.0 84.0Z" fill="#4a3aee"/><path d="M283.0 48.0 L304.0 48.0 L304.0 70.0 L283.0 70.0Z" fill="#4f2ade"/><path d="M272.0 62.0 L290.0 62.0 L290.0 90.0 L272.0 90.0Z" fill="#4a3aee"/><path d="M304.0 44.0 L327.0 44.0 L327.0 60.0 L304.0 60.0Z" fill="#3452f6"/><path d="M274.0 82.0 L310.0 82.0 L310.0 101.0 L274.0 101.0Z" fill="#1a6ef8"/><path d="M310.0 90.0 L332.0 90.0 L332.0 101.0 L310.0 101.0Z" fill="#3452f6"/><path d="M296.0 70.0 L308.0 70.0 L308.0 85.0 L296.0 85.0Z" fill="#1a6ef8"/><path d="M292.0 102.0 L305.0 102.0 L305.0 126.0 L292.0 126.0Z" fill="#fcc80a"/><path d="M305.0 100.0 L320.0 100.0 L320.0 126.0 L305.0 126.0Z" fill="#fcc80a"/><path d="M320.0 100.0 L335.0 100.0 L335.0 130.0 L320.0 130.0Z" fill="#f6be02"/><path d="M305.0 100.0 L325.0 100.0 L325.0 107.0 L305.0 107.0Z" fill="#14c87a"/><path d="M345.0 123.0 L360.0 123.0 L360.0 138.0 L345.0 138.0Z" fill="#1a6ef8"/><path d="M-5.0 150.0 L70.0 150.0 L70.0 182.0 L-5.0 182.0Z" fill="#08c794"/><path d="M70.0 150.0 L120.0 150.0 L120.0 182.0 L70.0 182.0Z" fill="#02acd8"/><path d="M112.0 152.0 L123.0 152.0 L123.0 159.5 L112.0 159.5Z" fill="#049ce8"/><path d="M112.0 159.5 L123.0 159.5 L123.0 166.0 L112.0 166.0Z" fill="#0a88f6"/><path d="M120.0 150.0 L170.0 150.0 L170.0 182.0 L120.0 182.0Z" fill="#1a6ef8"/><path d="M170.0 150.0 L240.0 150.0 L240.0 182.0 L170.0 182.0Z" fill="#4f2ade"/><path d="M240.0 150.0 L300.0 150.0 L300.0 182.0 L240.0 182.0Z" fill="#4f2ade"/><path d="M300.0 150.0 L365.0 150.0 L365.0 182.0 L300.0 182.0Z" fill="#4f2ade"/><path d="M-5.0 175.0 L365.0 175.0 L365.0 182.0 L-5.0 182.0Z" fill="#1a6ef8"/></g><g filter="url(#bl1_5)"><ellipse cx="65.2" cy="48.1" rx="2.5" ry="1.8" fill="#fcc80a"/><ellipse cx="67.2" cy="49.9" rx="6.1" ry="5.3" fill="#14c87a"/><ellipse cx="75.4" cy="45.5" rx="3.1" ry="1.8" fill="#08c794"/><ellipse cx="128.5" cy="21.7" rx="6.1" ry="2.6" fill="#02acd8"/><ellipse cx="282.8" cy="16.4" rx="16.3" ry="1.8" fill="#00bfb0"/><ellipse cx="297.2" cy="30.5" rx="10.2" ry="4.4" fill="#02acd8"/><ellipse cx="332.9" cy="27.8" rx="5.1" ry="1.8" fill="#02acd8"/><ellipse cx="237.9" cy="54.3" rx="3.7" ry="2.6" fill="#fcc80a"/><ellipse cx="218.5" cy="56.1" rx="2.5" ry="2.1" fill="#f6be02"/><ellipse cx="225.6" cy="68.4" rx="2.5" ry="2.6" fill="#f6be02"/><ellipse cx="197.0" cy="57.9" rx="8.2" ry="5.3" fill="#3452f6"/><ellipse cx="201.1" cy="73.7" rx="10.2" ry="6.2" fill="#4a3aee"/><ellipse cx="203.1" cy="38.4" rx="12.3" ry="5.3" fill="#02acd8"/><ellipse cx="192.9" cy="42.0" rx="8.2" ry="5.3" fill="#049ce8"/><ellipse cx="122.4" cy="103.7" rx="2.0" ry="2.6" fill="#fcc80a"/><ellipse cx="134.7" cy="100.2" rx="2.0" ry="2.6" fill="#f6be02"/><ellipse cx="44.8" cy="169.1" rx="6.1" ry="2.1" fill="#fcc80a"/><ellipse cx="61.1" cy="167.3" rx="4.1" ry="1.4" fill="#f6be02"/><ellipse cx="270.6" cy="159.3" rx="18.4" ry="2.6" fill="#0a88f6"/><ellipse cx="297.2" cy="158.1" rx="40.9" ry="1.8" fill="#1a6ef8"/></g><g filter="url(#speckP)"><path d="M-1.0 18.0 L13.0 18.0 L13.0 28.0 L-1.0 28.0Z" fill="#4f2ade"/><path d="M10.0 18.0 L25.0 18.0 L25.0 38.0 L10.0 38.0Z" fill="#1a6ef8"/><path d="M25.0 18.0 L39.0 18.0 L39.0 33.0 L25.0 33.0Z" fill="#1a6ef8"/><path d="M39.0 20.0 L60.0 20.0 L65.0 41.0 L54.0 43.0 L39.0 33.0Z" fill="#1a6ef8"/><path d="M60.0 30.0 L85.0 30.0 L85.0 41.0 L65.0 41.0Z" fill="#1a6ef8"/><path d="M55.0 18.0 L122.0 18.0 L122.0 32.0 L85.0 35.0 L60.0 30.0Z" fill="#1a6ef8"/><path d="M85.0 34.0 L128.0 34.0 L128.0 46.0 L100.0 46.0 L85.0 41.0Z" fill="#1a6ef8"/><path d="M54.0 41.0 L70.0 41.0 L70.0 59.0 L62.0 59.0 L54.0 50.0Z" fill="#02acd8"/><path d="M70.0 41.0 L87.0 41.0 L87.0 62.0 L70.0 62.0Z" fill="#00b6c8"/><path d="M87.0 41.0 L114.0 41.0 L114.0 66.0 L87.0 62.0Z" fill="#4a3aee"/><path d="M62.0 57.0 L80.0 59.0 L83.0 68.0 L74.0 69.0 L62.0 62.0Z" fill="#02acd8"/><path d="M80.0 59.0 L87.0 62.0 L84.0 72.0 L83.0 68.0Z" fill="#1a6ef8"/><path d="M74.0 69.0 L85.0 68.0 L94.0 76.0 L83.0 76.0Z" fill="#02acd8"/><path d="M88.0 72.0 L103.0 72.0 L103.0 83.0 L88.0 78.0Z" fill="#4a3aee"/><path d="M94.0 66.0 L116.0 66.0 L116.0 73.0 L94.0 73.0Z" fill="#4a3aee"/><path d="M105.0 6.0 L170.0 6.0 L170.0 31.0 L105.0 31.0Z" fill="#0a88f6"/><path d="M98.0 77.0 L132.0 77.0 L132.0 100.0 L98.0 100.0Z" fill="#0a88f6"/><path d="M108.0 100.0 L125.0 100.0 L125.0 115.0 L115.0 115.0 L108.0 105.0Z" fill="#14c87a"/><path d="M132.0 90.0 L146.0 95.0 L140.0 115.0 L125.0 115.0 L122.0 100.0 L132.0 100.0Z" fill="#14c87a"/><path d="M98.0 93.0 L108.0 93.0 L110.0 108.0 L104.0 108.0Z" fill="#14c87a"/><path d="M115.0 110.0 L125.0 115.0 L132.0 115.0 L132.0 125.0 L123.0 130.0 L115.0 130.0Z" fill="#02acd8"/><path d="M104.0 130.0 L118.0 130.0 L118.0 146.0 L104.0 146.0Z" fill="#14c87a"/><path d="M162.0 75.0 L162.0 68.0 L167.0 61.0 L172.0 54.0 L190.0 52.0 L190.0 75.0Z" fill="#5cc44e"/><path d="M190.0 52.0 L191.0 57.0 L200.0 59.0 L213.0 58.0 L215.0 63.0 L218.0 73.0 L216.0 75.0 L190.0 75.0Z" fill="#5cc44e"/><path d="M162.0 75.0 L216.0 75.0 L216.0 84.0 L162.0 84.0Z" fill="#02acd8"/><path d="M213.0 74.0 L224.0 74.0 L228.0 86.0 L214.0 88.0Z" fill="#eeb404"/><path d="M223.0 78.0 L232.0 78.0 L228.0 90.0 L220.0 92.0 L222.0 84.0Z" fill="#eeb404"/><path d="M188.0 84.0 L211.0 84.0 L211.0 102.0 L188.0 102.0Z" fill="#1a6ef8"/><path d="M211.0 87.0 L222.0 87.0 L222.0 106.0 L211.0 106.0Z" fill="#02acd8"/><path d="M190.0 94.0 L207.0 94.0 L207.0 106.0 L190.0 106.0Z" fill="#00bfb0"/><path d="M200.0 105.0 L221.0 105.0 L221.0 126.0 L200.0 126.0Z" fill="#14c87a"/><path d="M190.0 106.0 L200.0 106.0 L200.0 120.0 L190.0 120.0Z" fill="#fbdf08"/><path d="M222.0 101.0 L231.0 101.0 L231.0 116.0 L222.0 116.0Z" fill="#f6be02"/><path d="M170.0 46.0 L184.0 46.0 L184.0 55.0 L170.0 55.0Z" fill="#1a6ef8"/><path d="M169.0 29.0 L182.0 29.0 L182.0 41.0 L169.0 41.0Z" fill="#1a6ef8"/><path d="M175.0 34.0 L195.0 34.0 L195.0 47.0 L184.0 48.0 L175.0 46.0Z" fill="#1a6ef8"/><path d="M195.0 34.0 L210.0 34.0 L210.0 51.0 L195.0 51.0Z" fill="#1a6ef8"/><path d="M187.0 43.0 L206.0 43.0 L206.0 54.0 L187.0 54.0Z" fill="#08c794"/><path d="M184.0 26.0 L212.0 26.0 L212.0 35.0 L184.0 35.0Z" fill="#4f2ade"/><path d="M184.0 18.0 L225.0 18.0 L225.0 26.0 L184.0 26.0Z" fill="#4f2ade"/><path d="M210.0 26.0 L240.0 26.0 L240.0 38.0 L210.0 38.0Z" fill="#00b6c8"/><path d="M225.0 18.0 L248.0 18.0 L248.0 26.0 L225.0 26.0Z" fill="#4f2ade"/><path d="M202.0 38.0 L232.0 38.0 L232.0 47.0 L202.0 47.0Z" fill="#02acd8"/><path d="M206.0 48.0 L225.0 48.0 L225.0 54.5 L206.0 54.5Z" fill="#c2bc08"/><path d="M224.0 50.0 L242.0 50.0 L242.0 65.0 L228.0 62.0 L224.0 57.0Z" fill="#f6be02"/><path d="M214.0 53.0 L224.0 53.0 L224.0 61.0 L214.0 61.0Z" fill="#c2bc08"/><path d="M214.0 60.0 L228.0 60.0 L236.0 65.0 L240.0 68.0 L232.0 75.0 L223.0 78.0 L215.0 65.0Z" fill="#5cc44e"/><path d="M230.0 35.0 L265.0 35.0 L265.0 47.0 L230.0 47.0Z" fill="#08c794"/><path d="M232.0 47.0 L255.0 47.0 L255.0 55.0 L232.0 55.0Z" fill="#c2bc08"/><path d="M240.0 54.0 L255.0 54.0 L255.0 67.0 L240.0 67.0Z" fill="#1a6ef8"/><path d="M240.0 24.0 L270.0 24.0 L270.0 35.0 L240.0 35.0Z" fill="#02acd8"/><path d="M240.0 12.0 L305.0 12.0 L305.0 24.0 L240.0 24.0Z" fill="#00b6c8"/><path d="M270.0 24.0 L305.0 24.0 L305.0 40.0 L270.0 40.0Z" fill="#02acd8"/><path d="M305.0 15.0 L362.0 15.0 L362.0 26.0 L305.0 26.0Z" fill="#0a88f6"/><path d="M305.0 26.0 L345.0 26.0 L345.0 38.0 L305.0 38.0Z" fill="#1a6ef8"/><path d="M300.0 35.0 L322.0 35.0 L322.0 50.0 L300.0 50.0Z" fill="#1a6ef8"/><path d="M335.0 28.0 L346.0 28.0 L346.0 40.0 L335.0 40.0Z" fill="#4a3aee"/><path d="M340.0 20.0 L372.0 20.0 L372.0 28.0 L340.0 28.0Z" fill="#4f2ade"/><path d="M265.0 38.0 L300.0 38.0 L300.0 50.0 L265.0 50.0Z" fill="#08c794"/><path d="M255.0 50.0 L283.0 50.0 L283.0 63.0 L255.0 63.0Z" fill="#4f2ade"/><path d="M246.0 60.0 L272.0 60.0 L272.0 84.0 L246.0 84.0Z" fill="#1a6ef8"/><path d="M283.0 48.0 L304.0 48.0 L304.0 70.0 L283.0 70.0Z" fill="#1a6ef8"/><path d="M272.0 62.0 L290.0 62.0 L290.0 90.0 L272.0 90.0Z" fill="#1a6ef8"/><path d="M304.0 44.0 L327.0 44.0 L327.0 60.0 L304.0 60.0Z" fill="#4f2ade"/><path d="M274.0 82.0 L310.0 82.0 L310.0 101.0 L274.0 101.0Z" fill="#049ce8"/><path d="M310.0 90.0 L332.0 90.0 L332.0 101.0 L310.0 101.0Z" fill="#0a88f6"/><path d="M296.0 70.0 L308.0 70.0 L308.0 85.0 L296.0 85.0Z" fill="#4a3aee"/><path d="M292.0 102.0 L305.0 102.0 L305.0 126.0 L292.0 126.0Z" fill="#14c87a"/><path d="M305.0 100.0 L320.0 100.0 L320.0 126.0 L305.0 126.0Z" fill="#f6be02"/><path d="M320.0 100.0 L335.0 100.0 L335.0 130.0 L320.0 130.0Z" fill="#08c794"/><path d="M305.0 100.0 L325.0 100.0 L325.0 107.0 L305.0 107.0Z" fill="#fcc80a"/><path d="M345.0 123.0 L360.0 123.0 L360.0 138.0 L345.0 138.0Z" fill="#4a3aee"/><path d="M-5.0 150.0 L70.0 150.0 L70.0 182.0 L-5.0 182.0Z" fill="#14c87a"/><path d="M70.0 150.0 L120.0 150.0 L120.0 182.0 L70.0 182.0Z" fill="#00bfb0"/><path d="M120.0 150.0 L170.0 150.0 L170.0 182.0 L120.0 182.0Z" fill="#4a3aee"/><path d="M170.0 150.0 L240.0 150.0 L240.0 182.0 L170.0 182.0Z" fill="#3452f6"/><path d="M240.0 150.0 L300.0 150.0 L300.0 182.0 L240.0 182.0Z" fill="#3452f6"/><path d="M300.0 150.0 L365.0 150.0 L365.0 182.0 L300.0 182.0Z" fill="#1a6ef8"/><path d="M-5.0 175.0 L365.0 175.0 L365.0 182.0 L-5.0 182.0Z" fill="#4a3aee"/></g><g filter="url(#speckQ)"><path d="M162.0 75.0 L162.0 68.0 L167.0 61.0 L172.0 54.0 L190.0 52.0 L190.0 75.0Z" fill="#f6be02"/><path d="M190.0 52.0 L191.0 57.0 L200.0 59.0 L213.0 58.0 L215.0 63.0 L218.0 73.0 L216.0 75.0 L190.0 75.0Z" fill="#f6be02"/></g><g filter="url(#speckW)"><path d="M57.1 21.3 L126.5 21.3 L127.5 42.5 L114.2 47.0 L96.0 46.4 L85.7 40.8 L73.4 35.5 L61.2 28.4Z" fill="#fff"/><path d="M246.0 14.2 L365.0 14.2 L365.0 19.5 L246.0 19.5Z" fill="#fff"/><path d="M0.0 14.2 L15.0 14.2 L15.0 19.5 L0.0 19.5Z" fill="#fff"/></g><g filter="url(#bl1_5)"><path d="M109.1 104.1 L117.3 104.6 L118.3 119.6 L115.3 132.0 L110.2 132.3 L108.1 119.6Z" fill="#fbdf08"/><ellipse cx="128.1" cy="21.7" rx="4.5" ry="1.8" fill="#02acd8"/><path d="M129.6 20.4 L137.5 20.1 L136.3 25.7 L133.9 28.7 L131.4 26.4Z" fill="#fbdf08"/><path d="M-5.0 177.6 L81.0 177.6 L81.0 182.0 L-5.0 182.0Z" fill="#fcc80a"/><path d="M-5.0 174.5 L81.0 174.5 L81.0 177.6 L-5.0 177.6Z" fill="#1a6ef8"/><path d="M270.0 178.2 L350.0 178.2 L350.0 182.0 L270.0 182.0Z" fill="#eeb404"/></g><path d="M100.0 0.0 L180.0 0.0 L180.0 30.0 L164.0 30.0 L157.0 19.5 L157.0 10.7 L151.0 8.6 L100.0 8.6Z" fill="#fff"/>
<path fill="#fff" d="M96.5 167.2 L120.5 167.2 L135.0 168.4 L150.0 168.4 L152.5 169.5 L148.0 171.3 L135.0 171.7 L120.0 172.3 L105.0 172.8 L96.5 171.5 L95.5 169.0Z"/><path fill="#fff" d="M-263.5 167.2 L-239.5 167.2 L-225.0 168.4 L-210.0 168.4 L-207.5 169.5 L-212.0 171.3 L-225.0 171.7 L-240.0 172.3 L-255.0 172.8 L-263.5 171.5 L-264.5 169.0Z"/><path fill="#fff" d="M347.5 159.5 L348.5 162.0 L345.0 165.0 L342.0 168.0 L339.0 171.0 L341.0 173.3 L350.0 173.9 L360.0 174.0 L380.0 174.2 L384.0 173.5 L382.0 170.5 L385.0 168.5 L388.0 166.5 L391.0 165.2 L391.0 160.0 L360.0 160.0Z"/><path fill="#fff" d="M-12.5 159.5 L-11.5 162.0 L-15.0 165.0 L-18.0 168.0 L-21.0 171.0 L-19.0 173.3 L-10.0 173.9 L0.0 174.0 L20.0 174.2 L24.0 173.5 L22.0 170.5 L25.0 168.5 L28.0 166.5 L31.0 165.2 L31.0 160.0 L0.0 160.0Z"/>
<g fill="none" stroke="#fff" stroke-linejoin="round" stroke-linecap="round" opacity="0.9"><path d="M192.3 96.0 L193.5 95.5 L195.3 94.3 L196.5 92.5 L197.5 90.5 L198.5 88.8 L200.5 88.0 L202.5 88.2 L204.0 89.0 L205.2 89.6 L205.5 91.5 L206.0 94.0 L207.0 97.0" stroke-width="0.9"/><path d="M107.0 94.2 L110.0 93.6 L113.0 93.2 L116.0 93.5 L120.0 93.2 L123.0 92.6 L126.0 92.0 L129.0 91.0 L130.5 90.2" stroke-width="1.0"/><path d="M110.0 91.0 L114.0 90.3 L117.0 91.2 L120.0 93.2" stroke-width="0.7"/><path d="M118.0 98.0 L119.0 95.5 L120.0 93.2" stroke-width="0.6"/><path d="M209.3 93.3 L209.8 95.5 L210.5 97.5 L211.0 98.7" stroke-width="0.9"/><path d="M214.2 99.5 L214.6 102.0 L215.2 104.3" stroke-width="0.9"/><path d="M284.0 38.4 L286.0 37.5 L288.0 36.0 L289.5 34.4" stroke-width="0.9"/><path d="M306.0 17.5 L307.0 20.0 L305.0 23.0 L304.0 25.5 L308.0 27.5 L310.0 29.0 L308.0 30.5" stroke-width="0.5"/><path d="M263.0 18.5 L266.5 21.0 L268.0 24.0 L270.0 28.0 L272.0 31.5" stroke-width="0.5"/><path d="M253.0 23.0 L249.0 25.0 L247.0 28.0 L248.0 30.0 L253.0 31.5 L259.0 33.0" stroke-width="0.5"/><path d="M83.0 39.0 L82.0 37.0 L81.0 36.0" stroke-width="1.2"/><path d="M57.0 25.0 L60.0 26.0 L63.0 27.5 L65.0 28.5" stroke-width="1.0"/><path d="M68.0 23.5 L62.0 24.0 L59.0 24.5" stroke-width="1.0"/></g>
<g fill="#fff"><ellipse cx="213.0" cy="91.0" rx="1.6" ry="1.5"/><ellipse cx="82.0" cy="37.5" rx="0.6" ry="1.8"/><ellipse cx="64.0" cy="28.4" rx="2.0" ry="0.8"/><ellipse cx="59.0" cy="24.0" rx="2.5" ry="0.9"/><ellipse cx="215.5" cy="44.0" rx="0.2" ry="0.2"/><ellipse cx="240.0" cy="45.0" rx="1.0" ry="1.0"/><ellipse cx="257.0" cy="43.5" rx="2.5" ry="0.5"/></g>
</g>
<g fill="#fff"><path d="M208.0 48.4 L209.1 48.8 L211.0 48.9 L213.0 48.1 L215.0 47.9 L216.5 48.7 L218.0 49.0 L220.0 49.0 L221.6 48.4 L221.5 47.5 L219.7 46.5 L218.0 45.5 L216.8 44.8 L216.5 44.6 L215.3 45.0 L214.0 45.6 L213.4 45.4 L213.5 44.8 L212.5 44.6 L213.5 44.0 L212.0 43.5 L210.7 43.5 L210.0 44.2 L209.6 44.8 L208.7 45.8 L208.0 46.7 L207.8 47.5Z"/><path d="M215.0 44.7 L216.6 44.6 L218.5 43.3 L219.2 42.8 L217.5 43.0 L215.5 43.6 L215.0 44.2Z"/><path d="M226.7 45.4 L227.5 44.5 L229.0 43.5 L231.5 43.0 L233.0 43.3 L233.0 45.0 L231.3 45.5 L231.0 46.7 L232.5 48.0 L233.0 49.0 L232.8 50.0 L233.9 50.5 L233.8 52.7 L232.0 53.2 L230.3 52.8 L229.0 52.2 L229.0 51.0 L229.5 49.7 L228.6 48.4 L227.5 47.2 L227.3 46.2Z"/><path d="M88.0 43.3 L92.0 41.5 L95.0 42.1 L95.5 43.5 L93.0 43.5 L89.5 43.5Z"/><path d="M92.5 48.3 L93.5 47.5 L93.8 45.5 L95.0 44.2 L93.0 44.0 L92.0 45.5 L92.2 47.5Z"/><path d="M96.0 44.0 L98.5 44.2 L100.0 45.5 L98.3 46.8 L97.5 47.0 L96.5 46.0 L95.5 44.5Z"/><path d="M96.7 48.3 L99.0 48.2 L101.0 47.2 L99.5 47.4 L97.5 48.0Z"/><path d="M100.5 46.7 L103.5 46.6 L103.7 45.9 L101.0 46.2Z"/></g>
<g clip-path="url(#ndclip)" stroke="#b9b9b9" stroke-width="0.7" fill="none" vector-effect="non-scaling-stroke"><path d="M12.0 24.4 L14.0 21.7 L17.0 20.3 L23.2 18.7 L28.0 19.2 L32.0 19.7 L39.0 20.4 L44.0 21.0 L48.0 20.4 L52.0 19.6 L56.0 20.4 L60.0 21.0 L65.0 21.8 L70.0 22.0 L75.0 21.7 L80.0 22.2 L83.0 21.7 L85.0 20.5 L86.0 18.2 L88.0 19.5 L90.0 21.0 L94.0 20.8 L98.0 20.5 L96.0 23.0 L93.0 24.5 L92.0 25.8 L88.0 27.5 L85.8 31.0 L87.0 33.0 L90.0 33.0 L94.0 34.5 L97.5 35.0 L98.0 37.0 L100.0 38.7 L101.0 37.5 L101.0 35.5 L103.0 33.5 L102.5 31.5 L102.0 29.5 L102.0 27.7 L106.0 27.5 L109.0 28.8 L110.5 31.0 L112.5 31.7 L114.0 31.2 L115.5 29.7 L116.5 31.5 L118.0 32.5 L119.0 34.0 L120.5 34.8 L122.5 36.0 L124.0 37.5 L123.0 38.5 L120.0 39.8 L115.5 39.7 L113.5 40.0 L111.5 41.0 L110.0 42.2 L111.0 41.5 L113.5 40.8 L115.5 41.0 L115.2 42.2 L115.5 43.5 L118.5 44.0 L120.0 43.8 L120.0 44.4 L116.5 45.4 L114.2 46.4 L113.5 45.4 L115.0 44.7 L113.0 45.0 L111.5 45.8 L109.8 46.4 L109.2 47.4 L110.0 48.2 L108.5 48.7 L106.5 49.2 L106.0 49.5 L105.7 50.5 L105.0 51.2 L104.1 52.5 L103.7 53.0 L104.5 54.8 L103.5 55.4 L102.1 56.1 L100.8 57.0 L99.0 58.3 L98.6 60.0 L99.5 62.0 L100.0 63.3 L99.6 64.8 L98.8 64.7 L98.2 63.7 L97.2 62.0 L97.3 60.8 L96.0 60.0 L94.5 60.3 L93.5 59.6 L91.5 59.7 L90.5 59.8 L90.8 60.9 L89.5 60.9 L88.0 60.4 L86.0 60.4 L84.5 61.3 L82.7 62.4 L82.6 64.2 L82.3 66.0 L82.2 67.7 L82.8 69.4 L84.0 70.9 L85.5 71.8 L87.5 71.4 L89.0 71.2 L89.5 70.2 L89.7 69.0 L91.5 68.5 L93.0 68.5 L92.5 70.0 L92.2 71.5 L91.7 72.5 L91.5 74.1 L94.0 74.1 L96.0 74.2 L96.7 75.0 L96.5 77.5 L96.3 79.0 L97.5 80.2 L98.5 81.2 L100.0 80.7 L101.5 80.6 L102.7 81.4 L102.5 82.5 L101.5 82.0 L100.5 81.2 L99.6 82.0 L99.9 82.7 L98.5 82.3 L97.0 81.7 L95.5 80.3 L94.3 80.0 L94.2 78.8 L92.7 77.1 L91.5 76.8 L90.0 76.2 L88.5 76.0 L87.0 74.7 L85.5 73.9 L83.5 74.4 L81.5 73.8 L79.0 72.7 L76.5 71.7 L74.5 70.0 L74.7 68.2 L73.6 66.7 L71.5 64.7 L70.5 63.5 L69.2 62.2 L67.8 60.5 L66.5 58.8 L65.2 58.3 L65.7 59.5 L66.8 61.0 L67.7 62.5 L68.7 64.0 L69.4 65.5 L70.5 66.9 L69.8 67.1 L68.5 65.6 L67.8 65.0 L67.8 63.7 L65.7 62.5 L65.8 61.8 L64.7 60.5 L63.8 59.2 L62.9 57.5 L62.5 56.6 L61.5 56.0 L59.4 55.5 L59.0 54.3 L58.0 53.2 L57.5 52.2 L57.0 51.8 L56.2 50.5 L55.7 49.5 L55.9 48.0 L55.5 47.0 L56.0 43.8 L55.3 41.6 L57.0 41.7 L57.5 42.5 L57.2 41.0 L56.0 40.2 L54.5 39.5 L52.5 38.8 L52.0 37.5 L50.0 35.7 L49.0 34.5 L47.5 33.2 L45.5 32.0 L44.0 31.5 L42.5 31.3 L40.5 30.4 L38.0 29.9 L36.0 30.0 L33.5 29.2 L32.0 29.5 L30.0 30.5 L28.2 30.8 L28.5 29.5 L30.0 28.8 L27.5 29.8 L26.2 31.1 L25.5 32.0 L23.7 32.8 L21.5 33.8 L19.5 34.5 L17.5 35.0 L15.2 35.6 L16.5 34.9 L18.5 34.0 L20.5 32.8 L22.5 31.7 L22.8 31.2 L21.0 31.5 L18.2 31.2 L17.8 30.2 L16.2 30.0 L14.8 29.5 L14.7 28.7 L14.0 28.2 L15.0 27.5 L15.6 26.8 L17.7 26.5 L19.0 25.6 L17.5 25.5 L15.5 25.4 L13.7 25.4 L13.7 24.8 L12.0 24.4Z"/><path d="M136.0 30.2 L134.0 29.2 L132.0 29.0 L129.5 26.5 L128.5 25.0 L126.5 23.2 L126.5 21.5 L129.0 20.5 L126.0 19.5 L125.0 18.5 L124.0 16.0 L121.5 14.3 L114.0 13.8 L108.5 12.7 L107.0 11.7 L112.0 10.0 L118.0 8.2 L130.0 7.6 L140.0 6.7 L150.0 6.4 L158.0 7.2 L160.0 8.5 L168.0 8.5 L164.0 10.0 L162.0 11.5 L161.0 13.0 L161.5 15.0 L158.5 17.0 L158.0 19.0 L158.0 19.8 L154.0 21.5 L148.0 21.8 L145.0 24.0 L142.0 24.5 L139.5 25.5 L138.0 27.5 L137.0 29.5Z"/><path d="M155.5 24.5 L158.0 23.6 L162.0 23.8 L165.0 23.5 L166.5 24.8 L165.2 25.7 L162.0 26.6 L159.0 26.2 L157.3 26.0Z"/><path d="M120.7 42.4 L123.0 38.5 L124.5 38.4 L124.5 40.5 L126.5 40.7 L127.3 42.5 L126.5 43.3 L125.0 43.0 L124.0 42.4Z"/></g>
</g></g>
<rect x="441.10" y="49.50" width="362.70" height="213.80" fill="none" stroke="#111" stroke-width="1.8"/>
<rect x="446.20" y="54.45" width="352.30" height="203.95" fill="none" stroke="#111" stroke-width="1.8"/>
<rect x="814.20" y="252.32" width="19.30" height="11.09" fill="#3e1caa"/>
<rect x="814.20" y="241.53" width="19.30" height="11.09" fill="#4822c6"/>
<rect x="814.20" y="230.75" width="19.30" height="11.09" fill="#4f2ade"/>
<rect x="814.20" y="219.96" width="19.30" height="11.09" fill="#4a3aee"/>
<rect x="814.20" y="209.18" width="19.30" height="11.09" fill="#3452f6"/>
<rect x="814.20" y="198.39" width="19.30" height="11.09" fill="#1a6ef8"/>
<rect x="814.20" y="187.61" width="19.30" height="11.09" fill="#0a88f6"/>
<rect x="814.20" y="176.82" width="19.30" height="11.09" fill="#049ce8"/>
<rect x="814.20" y="166.04" width="19.30" height="11.09" fill="#02acd8"/>
<rect x="814.20" y="155.25" width="19.30" height="11.09" fill="#00b6c8"/>
<rect x="814.20" y="144.47" width="19.30" height="11.09" fill="#00bfb0"/>
<rect x="814.20" y="133.68" width="19.30" height="11.09" fill="#08c794"/>
<rect x="814.20" y="122.90" width="19.30" height="11.09" fill="#14c87a"/>
<rect x="814.20" y="112.11" width="19.30" height="11.09" fill="#5cc44e"/>
<rect x="814.20" y="101.33" width="19.30" height="11.09" fill="#c2bc08"/>
<rect x="814.20" y="90.54" width="19.30" height="11.09" fill="#eeb404"/>
<rect x="814.20" y="79.76" width="19.30" height="11.09" fill="#f6be02"/>
<rect x="814.20" y="68.97" width="19.30" height="11.09" fill="#fcc80a"/>
<rect x="814.20" y="58.19" width="19.30" height="11.09" fill="#fbdf08"/>
<rect x="814.20" y="47.40" width="19.30" height="11.09" fill="#f3f40a"/>
<rect x="814.20" y="47.40" width="19.30" height="215.70" fill="none" stroke="#151515" stroke-width="1.5"/>
<path d="M830.50 209.18H833.50" stroke="#202020" stroke-width="1"/>
<path d="M830.50 155.25H833.50" stroke="#202020" stroke-width="1"/>
<path d="M830.50 101.33H833.50" stroke="#202020" stroke-width="1"/>
<text x="0" y="0" transform="translate(837.50 268.35) scale(0.975 1)" style="font-size:15.10px">0</text>
<text x="0" y="0" transform="translate(837.50 214.43) scale(0.975 1)" style="font-size:15.10px">5</text>
<path d="M870 0L590 0L590 1030Q450 905 225 830L225 1075Q345 1115 470 1212Q595 1309 640 1409L870 1409Z" transform="translate(837.50 160.50) scale(0.00719 -0.00737)" fill="#0d0d0d" stroke="#0d0d0d" stroke-width="40.7"/><text x="0" y="0" transform="translate(845.69 160.50) scale(0.975 1)" style="font-size:15.10px">0</text>
<path d="M870 0L590 0L590 1030Q450 905 225 830L225 1075Q345 1115 470 1212Q595 1309 640 1409L870 1409Z" transform="translate(837.50 106.58) scale(0.00719 -0.00737)" fill="#0d0d0d" stroke="#0d0d0d" stroke-width="40.7"/><text x="0" y="0" transform="translate(845.69 106.58) scale(0.975 1)" style="font-size:15.10px">5</text>
<text x="0" y="0" transform="translate(837.50 52.65) scale(0.975 1)" style="font-size:15.10px">2</text><text x="0" y="0" transform="translate(845.69 52.65) scale(0.975 1)" style="font-size:15.10px">0</text>
<text x="552.46" y="21.20" style="font-size:19.10px">D</text><text x="566.25" y="21.20" style="font-size:19.10px">T</text><text x="577.92" y="21.20" style="font-size:19.10px">R</text><text x="597.02" y="21.20" style="font-size:19.10px">3</text><text x="607.64" y="21.20" style="font-size:19.10px">6</text><text x="623.57" y="21.20" style="font-size:19.10px">(</text><text x="629.93" y="21.20" style="font-size:19.10px">V</text><text x="642.67" y="21.20" style="font-size:19.10px">)</text><text x="654.34" y="21.20" style="font-size:19.10px">G</text><text x="669.20" y="21.20" style="font-size:19.10px">H</text><text x="682.99" y="21.20" style="font-size:19.10px">z</text>
<text x="587.98" y="42.80" style="font-size:19.10px">0</text><text x="598.60" y="42.80" style="font-size:19.10px">8</text><text x="609.22" y="42.80" style="font-size:19.10px">/</text><text x="614.53" y="42.80" style="font-size:19.10px">2</text><text x="625.15" y="42.80" style="font-size:19.10px">0</text><path d="M870 0L590 0L590 1030Q450 905 225 830L225 1075Q345 1115 470 1212Q595 1309 640 1409L870 1409Z" transform="translate(635.78 42.80) scale(0.00933 -0.00933)" fill="#0d0d0d" stroke="#0d0d0d" stroke-width="32.2"/><text x="646.40" y="42.80" style="font-size:19.10px">6</text>
<text x="446.50" y="41.00" style="font-size:19.60px">(</text><text x="453.93" y="41.00" style="font-size:19.60px">b</text><text x="466.80" y="41.00" style="font-size:19.60px">)</text>
<rect x="12.35" y="321.90" width="362.55" height="213.55" fill="#fff"/>
<g clip-path="url(#clipc)">
<path d="M46.48 326.90V530.30M75.85 326.90V530.30M105.22 326.90V530.30M134.60 326.90V530.30M163.97 326.90V530.30M193.35 326.90V530.30M222.72 326.90V530.30M252.10 326.90V530.30M281.48 326.90V530.30M310.85 326.90V530.30M340.23 326.90V530.30M17.10 513.35H369.60M17.10 496.40H369.60M17.10 479.45H369.60M17.10 462.50H369.60M17.10 445.55H369.60M17.10 428.60H369.60M17.10 411.65H369.60M17.10 394.70H369.60M17.10 377.75H369.60M17.10 360.80H369.60M17.10 343.85H369.60" stroke="#8a8a8a" stroke-width="0.9" stroke-dasharray="1 2.6" fill="none"/>
<g transform="translate(17.100 326.900) scale(0.97917 1.13000)">
<g stroke="#b9b9b9" stroke-width="0.7" fill="none" vector-effect="non-scaling-stroke"><path d="M118.5 23.3 L116.0 25.0 L114.5 27.5 L110.0 27.2 L108.0 26.5 L102.5 25.0 L106.0 23.5 L107.0 22.0 L104.0 21.0 L100.0 20.0 L94.0 19.5 L91.0 17.5 L95.0 16.4 L100.0 16.3 L104.0 17.5 L107.0 18.5 L111.0 19.5 L113.0 20.5 L116.0 22.5Z"/><path d="M105.0 13.5 L100.0 13.8 L91.0 13.5 L90.0 12.0 L85.0 10.0 L88.0 8.7 L95.0 7.5 L110.0 7.0 L118.0 7.5 L115.0 9.0 L110.0 10.5 L105.0 11.5 L102.0 12.5Z"/><path d="M100.0 15.5 L88.0 15.2 L89.0 13.5 L98.0 13.5Z"/><path d="M61.0 18.5 L63.0 16.5 L72.0 16.5 L78.0 17.0 L79.0 20.0 L75.0 21.5 L68.0 21.0 L63.0 20.5Z"/><path d="M54.5 18.0 L56.0 15.7 L63.0 15.7 L64.5 17.0 L60.0 18.8Z"/><path d="M82.0 18.5 L90.0 18.0 L90.0 16.0 L85.0 16.0 L82.0 16.5Z"/><path d="M62.0 14.5 L74.0 15.0 L76.0 13.5 L68.0 12.7 L63.0 13.5Z"/><path d="M79.0 14.5 L84.0 14.5 L84.0 13.0 L79.0 13.3Z"/><path d="M93.0 26.5 L99.5 26.5 L96.0 24.5 L93.5 24.0Z"/><path d="M85.0 11.5 L92.0 11.8 L94.0 9.5 L88.0 8.8 L84.0 10.0Z"/><path d="M191.0 11.5 L196.0 10.0 L203.0 9.5 L207.0 10.0 L202.0 12.0 L197.0 13.5 L193.0 12.5Z"/><path d="M232.0 18.5 L235.0 17.0 L237.0 14.5 L242.0 13.5 L248.5 13.1 L244.0 14.5 L239.0 16.5 L236.5 19.0 L233.0 19.4Z"/><path d="M275.0 10.5 L280.0 9.0 L284.0 10.5 L281.0 11.7 L277.0 11.2Z"/><path d="M316.0 16.0 L320.0 14.5 L323.0 14.3 L330.0 14.8 L326.0 15.5 L321.0 16.5 L317.0 16.8Z"/><path d="M358.5 18.8 L361.0 18.4 L363.0 18.8 L361.0 19.2Z"/><path d="M227.0 9.5 L235.0 8.5 L243.0 9.0 L240.0 10.0 L232.0 10.0Z"/></g>
<g clip-path="url(#landclip)">
<rect x="-12" y="-5" width="384" height="190" fill="#4f2ade"/><g filter="url(#bl3)"><path d="M-1.0 18.0 L13.0 18.0 L13.0 28.0 L-1.0 28.0Z" fill="#1a6ef8"/><path d="M10.0 18.0 L25.0 18.0 L25.0 38.0 L10.0 38.0Z" fill="#08c794"/><path d="M25.0 18.0 L39.0 18.0 L39.0 33.0 L25.0 33.0Z" fill="#1a6ef8"/><path d="M39.0 20.0 L60.0 20.0 L65.0 41.0 L54.0 43.0 L39.0 33.0Z" fill="#4f2ade"/><path d="M60.0 30.0 L85.0 30.0 L85.0 41.0 L65.0 41.0Z" fill="#4a3aee"/><path d="M55.0 18.0 L122.0 18.0 L122.0 32.0 L85.0 35.0 L60.0 30.0Z" fill="#4f2ade"/><path d="M85.0 34.0 L128.0 34.0 L128.0 46.0 L100.0 46.0 L85.0 41.0Z" fill="#4f2ade"/><path d="M54.0 41.0 L70.0 41.0 L70.0 59.0 L62.0 59.0 L54.0 50.0Z" fill="#0a88f6"/><path d="M70.0 41.0 L87.0 41.0 L87.0 62.0 L70.0 62.0Z" fill="#049ce8"/><path d="M87.0 41.0 L114.0 41.0 L114.0 66.0 L87.0 62.0Z" fill="#4f2ade"/><path d="M62.0 57.0 L80.0 59.0 L83.0 68.0 L74.0 69.0 L62.0 62.0Z" fill="#14c87a"/><path d="M80.0 59.0 L87.0 62.0 L84.0 72.0 L83.0 68.0Z" fill="#00bfb0"/><path d="M74.0 69.0 L85.0 68.0 L94.0 76.0 L83.0 76.0Z" fill="#049ce8"/><path d="M88.0 72.0 L103.0 72.0 L103.0 83.0 L88.0 78.0Z" fill="#0a88f6"/><path d="M94.0 66.0 L116.0 66.0 L116.0 73.0 L94.0 73.0Z" fill="#1a6ef8"/><path d="M105.0 6.0 L170.0 6.0 L170.0 31.0 L105.0 31.0Z" fill="#1a6ef8"/><path d="M155.0 23.0 L167.0 23.0 L167.0 27.0 L155.0 27.0Z" fill="#0a88f6"/><path d="M98.0 77.0 L132.0 77.0 L132.0 100.0 L98.0 100.0Z" fill="#4f2ade"/><path d="M108.0 100.0 L125.0 100.0 L125.0 115.0 L115.0 115.0 L108.0 105.0Z" fill="#3452f6"/><path d="M132.0 90.0 L146.0 95.0 L140.0 115.0 L125.0 115.0 L122.0 100.0 L132.0 100.0Z" fill="#1a6ef8"/><path d="M98.0 93.0 L108.0 93.0 L110.0 108.0 L104.0 108.0Z" fill="#00b6c8"/><path d="M108.0 105.0 L115.0 105.0 L115.0 132.0 L108.0 132.0Z" fill="#fcc80a"/><path d="M115.0 110.0 L125.0 115.0 L132.0 115.0 L132.0 125.0 L123.0 130.0 L115.0 130.0Z" fill="#0a88f6"/><path d="M104.0 130.0 L118.0 130.0 L118.0 146.0 L104.0 146.0Z" fill="#00b6c8"/><path d="M162.0 75.0 L162.0 68.0 L167.0 61.0 L172.0 54.0 L190.0 52.0 L190.0 75.0Z" fill="#08c794"/><path d="M190.0 52.0 L191.0 57.0 L200.0 59.0 L213.0 58.0 L215.0 63.0 L218.0 73.0 L216.0 75.0 L190.0 75.0Z" fill="#08c794"/><path d="M162.0 75.0 L216.0 75.0 L216.0 84.0 L162.0 84.0Z" fill="#0a88f6"/><path d="M213.0 74.0 L224.0 74.0 L228.0 86.0 L214.0 88.0Z" fill="#f6be02"/><path d="M223.0 78.0 L232.0 78.0 L228.0 90.0 L220.0 92.0 L222.0 84.0Z" fill="#08c794"/><path d="M188.0 84.0 L211.0 84.0 L211.0 102.0 L188.0 102.0Z" fill="#4a3aee"/><path d="M211.0 87.0 L222.0 87.0 L222.0 106.0 L211.0 106.0Z" fill="#1a6ef8"/><path d="M190.0 94.0 L207.0 94.0 L207.0 106.0 L190.0 106.0Z" fill="#3452f6"/><path d="M200.0 105.0 L221.0 105.0 L221.0 126.0 L200.0 126.0Z" fill="#00bfb0"/><path d="M190.0 106.0 L200.0 106.0 L200.0 120.0 L190.0 120.0Z" fill="#f6be02"/><path d="M222.0 101.0 L231.0 101.0 L231.0 116.0 L222.0 116.0Z" fill="#1a6ef8"/><path d="M170.0 46.0 L184.0 46.0 L184.0 55.0 L170.0 55.0Z" fill="#1a6ef8"/><path d="M169.0 29.0 L182.0 29.0 L182.0 41.0 L169.0 41.0Z" fill="#4f2ade"/><path d="M175.0 34.0 L195.0 34.0 L195.0 47.0 L184.0 48.0 L175.0 46.0Z" fill="#4f2ade"/><path d="M195.0 34.0 L210.0 34.0 L210.0 51.0 L195.0 51.0Z" fill="#3452f6"/><path d="M187.0 43.0 L206.0 43.0 L206.0 54.0 L187.0 54.0Z" fill="#4a3aee"/><path d="M184.0 26.0 L212.0 26.0 L212.0 35.0 L184.0 35.0Z" fill="#1a6ef8"/><path d="M184.0 18.0 L225.0 18.0 L225.0 26.0 L184.0 26.0Z" fill="#0a88f6"/><path d="M210.0 26.0 L240.0 26.0 L240.0 38.0 L210.0 38.0Z" fill="#4f2ade"/><path d="M225.0 18.0 L248.0 18.0 L248.0 26.0 L225.0 26.0Z" fill="#3452f6"/><path d="M202.0 38.0 L232.0 38.0 L232.0 47.0 L202.0 47.0Z" fill="#1a6ef8"/><path d="M206.0 48.0 L225.0 48.0 L225.0 54.5 L206.0 54.5Z" fill="#0a88f6"/><path d="M224.0 50.0 L242.0 50.0 L242.0 65.0 L228.0 62.0 L224.0 57.0Z" fill="#08c794"/><path d="M214.0 53.0 L224.0 53.0 L224.0 61.0 L214.0 61.0Z" fill="#00b6c8"/><path d="M214.0 60.0 L228.0 60.0 L236.0 65.0 L240.0 68.0 L232.0 75.0 L223.0 78.0 L215.0 65.0Z" fill="#00bfb0"/><path d="M230.0 35.0 L265.0 35.0 L265.0 47.0 L230.0 47.0Z" fill="#00b6c8"/><path d="M232.0 47.0 L255.0 47.0 L255.0 55.0 L232.0 55.0Z" fill="#00bfb0"/><path d="M240.0 54.0 L255.0 54.0 L255.0 67.0 L240.0 67.0Z" fill="#00b6c8"/><path d="M240.0 24.0 L270.0 24.0 L270.0 35.0 L240.0 35.0Z" fill="#02acd8"/><path d="M240.0 12.0 L305.0 12.0 L305.0 24.0 L240.0 24.0Z" fill="#1a6ef8"/><path d="M270.0 24.0 L305.0 24.0 L305.0 40.0 L270.0 40.0Z" fill="#4f2ade"/><path d="M305.0 15.0 L362.0 15.0 L362.0 26.0 L305.0 26.0Z" fill="#00b6c8"/><path d="M305.0 26.0 L345.0 26.0 L345.0 38.0 L305.0 38.0Z" fill="#4f2ade"/><path d="M300.0 35.0 L322.0 35.0 L322.0 50.0 L300.0 50.0Z" fill="#4a3aee"/><path d="M335.0 28.0 L346.0 28.0 L346.0 40.0 L335.0 40.0Z" fill="#1a6ef8"/><path d="M340.0 20.0 L372.0 20.0 L372.0 28.0 L340.0 28.0Z" fill="#0a88f6"/><path d="M265.0 38.0 L300.0 38.0 L300.0 50.0 L265.0 50.0Z" fill="#3452f6"/><path d="M255.0 50.0 L283.0 50.0 L283.0 63.0 L255.0 63.0Z" fill="#5cc44e"/><path d="M246.0 60.0 L272.0 60.0 L272.0 84.0 L246.0 84.0Z" fill="#00b6c8"/><path d="M283.0 48.0 L304.0 48.0 L304.0 70.0 L283.0 70.0Z" fill="#4f2ade"/><path d="M272.0 62.0 L290.0 62.0 L290.0 90.0 L272.0 90.0Z" fill="#3452f6"/><path d="M304.0 44.0 L327.0 44.0 L327.0 60.0 L304.0 60.0Z" fill="#3452f6"/><path d="M274.0 82.0 L310.0 82.0 L310.0 101.0 L274.0 101.0Z" fill="#1a6ef8"/><path d="M310.0 90.0 L332.0 90.0 L332.0 101.0 L310.0 101.0Z" fill="#0a88f6"/><path d="M296.0 70.0 L308.0 70.0 L308.0 85.0 L296.0 85.0Z" fill="#1a6ef8"/><path d="M292.0 102.0 L305.0 102.0 L305.0 126.0 L292.0 126.0Z" fill="#08c794"/><path d="M305.0 100.0 L320.0 100.0 L320.0 126.0 L305.0 126.0Z" fill="#08c794"/><path d="M320.0 100.0 L335.0 100.0 L335.0 130.0 L320.0 130.0Z" fill="#00bfb0"/><path d="M305.0 100.0 L325.0 100.0 L325.0 107.0 L305.0 107.0Z" fill="#00bfb0"/><path d="M345.0 123.0 L360.0 123.0 L360.0 138.0 L345.0 138.0Z" fill="#1a6ef8"/><path d="M-5.0 150.0 L70.0 150.0 L70.0 182.0 L-5.0 182.0Z" fill="#00bfb0"/><path d="M70.0 150.0 L120.0 150.0 L120.0 182.0 L70.0 182.0Z" fill="#00b6c8"/><path d="M112.0 152.0 L123.0 152.0 L123.0 159.5 L112.0 159.5Z" fill="#fbdf08"/><path d="M112.0 159.5 L123.0 159.5 L123.0 166.0 L112.0 166.0Z" fill="#1a6ef8"/><path d="M120.0 150.0 L170.0 150.0 L170.0 182.0 L120.0 182.0Z" fill="#1a6ef8"/><path d="M170.0 150.0 L240.0 150.0 L240.0 182.0 L170.0 182.0Z" fill="#4f2ade"/><path d="M240.0 150.0 L300.0 150.0 L300.0 182.0 L240.0 182.0Z" fill="#4f2ade"/><path d="M300.0 150.0 L365.0 150.0 L365.0 182.0 L300.0 182.0Z" fill="#4f2ade"/><path d="M-5.0 175.0 L365.0 175.0 L365.0 182.0 L-5.0 182.0Z" fill="#1a6ef8"/></g><g filter="url(#bl1_5)"><ellipse cx="18.3" cy="22.2" rx="3.1" ry="1.8" fill="#f6be02"/><ellipse cx="90.8" cy="22.7" rx="3.1" ry="1.4" fill="#c2bc08"/><ellipse cx="110.2" cy="22.2" rx="2.0" ry="1.4" fill="#eeb404"/><ellipse cx="84.7" cy="44.3" rx="3.1" ry="1.8" fill="#c2bc08"/><ellipse cx="128.6" cy="19.6" rx="4.1" ry="2.7" fill="#02acd8"/><ellipse cx="132.7" cy="25.8" rx="2.0" ry="1.8" fill="#14c87a"/><ellipse cx="207.2" cy="22.2" rx="7.1" ry="2.1" fill="#fcc80a"/><ellipse cx="215.4" cy="23.1" rx="3.1" ry="1.8" fill="#14c87a"/><ellipse cx="264.4" cy="27.5" rx="10.2" ry="3.9" fill="#fbdf08"/><ellipse cx="264.4" cy="32.8" rx="12.3" ry="2.1" fill="#00b6c8"/><ellipse cx="296.1" cy="24.9" rx="5.1" ry="3.5" fill="#f6be02"/><ellipse cx="330.8" cy="23.1" rx="9.2" ry="2.7" fill="#fcc80a"/><ellipse cx="351.2" cy="24.0" rx="7.1" ry="2.7" fill="#00b6c8"/><ellipse cx="237.9" cy="39.4" rx="7.1" ry="1.8" fill="#eeb404"/><ellipse cx="225.6" cy="38.1" rx="4.1" ry="1.4" fill="#c2bc08"/><ellipse cx="215.4" cy="40.8" rx="3.1" ry="1.4" fill="#5cc44e"/><ellipse cx="246.0" cy="41.7" rx="3.1" ry="1.4" fill="#c2bc08"/><ellipse cx="271.6" cy="56.7" rx="11.2" ry="4.4" fill="#c2bc08"/><ellipse cx="270.5" cy="58.5" rx="4.1" ry="2.1" fill="#fcc80a"/><ellipse cx="255.2" cy="70.9" rx="1.6" ry="1.8" fill="#f6be02"/><ellipse cx="218.5" cy="78.8" rx="6.1" ry="6.2" fill="#f6be02"/><ellipse cx="30.5" cy="167.3" rx="8.2" ry="2.1" fill="#c2bc08"/><ellipse cx="198.4" cy="116.9" rx="2.9" ry="5.3" fill="#fcc80a"/><ellipse cx="311.4" cy="116.9" rx="9.2" ry="2.1" fill="#f6be02"/><ellipse cx="319.6" cy="120.4" rx="6.1" ry="1.8" fill="#fcc80a"/><path d="M221.5 156.2 L250.1 156.2 L250.1 159.0 L221.5 159.0Z" fill="#c2bc08"/><path d="M258.3 156.2 L327.7 156.2 L327.7 158.7 L258.3 158.7Z" fill="#eeb404"/><ellipse cx="323.6" cy="177.1" rx="40.9" ry="2.1" fill="#0a88f6"/></g><g filter="url(#speckP)"><path d="M-1.0 18.0 L13.0 18.0 L13.0 28.0 L-1.0 28.0Z" fill="#4a3aee"/><path d="M10.0 18.0 L25.0 18.0 L25.0 38.0 L10.0 38.0Z" fill="#00b6c8"/><path d="M25.0 18.0 L39.0 18.0 L39.0 33.0 L25.0 33.0Z" fill="#4a3aee"/><path d="M39.0 20.0 L60.0 20.0 L65.0 41.0 L54.0 43.0 L39.0 33.0Z" fill="#1a6ef8"/><path d="M60.0 30.0 L85.0 30.0 L85.0 41.0 L65.0 41.0Z" fill="#1a6ef8"/><path d="M55.0 18.0 L122.0 18.0 L122.0 32.0 L85.0 35.0 L60.0 30.0Z" fill="#1a6ef8"/><path d="M85.0 34.0 L128.0 34.0 L128.0 46.0 L100.0 46.0 L85.0 41.0Z" fill="#1a6ef8"/><path d="M54.0 41.0 L70.0 41.0 L70.0 59.0 L62.0 59.0 L54.0 50.0Z" fill="#02acd8"/><path d="M70.0 41.0 L87.0 41.0 L87.0 62.0 L70.0 62.0Z" fill="#08c794"/><path d="M87.0 41.0 L114.0 41.0 L114.0 66.0 L87.0 62.0Z" fill="#3452f6"/><path d="M62.0 57.0 L80.0 59.0 L83.0 68.0 L74.0 69.0 L62.0 62.0Z" fill="#fcc80a"/><path d="M80.0 59.0 L87.0 62.0 L84.0 72.0 L83.0 68.0Z" fill="#02acd8"/><path d="M74.0 69.0 L85.0 68.0 L94.0 76.0 L83.0 76.0Z" fill="#00b6c8"/><path d="M88.0 72.0 L103.0 72.0 L103.0 83.0 L88.0 78.0Z" fill="#02acd8"/><path d="M94.0 66.0 L116.0 66.0 L116.0 73.0 L94.0 73.0Z" fill="#4a3aee"/><path d="M105.0 6.0 L170.0 6.0 L170.0 31.0 L105.0 31.0Z" fill="#049ce8"/><path d="M98.0 77.0 L132.0 77.0 L132.0 100.0 L98.0 100.0Z" fill="#3452f6"/><path d="M108.0 100.0 L125.0 100.0 L125.0 115.0 L115.0 115.0 L108.0 105.0Z" fill="#0a88f6"/><path d="M132.0 90.0 L146.0 95.0 L140.0 115.0 L125.0 115.0 L122.0 100.0 L132.0 100.0Z" fill="#4a3aee"/><path d="M98.0 93.0 L108.0 93.0 L110.0 108.0 L104.0 108.0Z" fill="#08c794"/><path d="M115.0 110.0 L125.0 115.0 L132.0 115.0 L132.0 125.0 L123.0 130.0 L115.0 130.0Z" fill="#02acd8"/><path d="M104.0 130.0 L118.0 130.0 L118.0 146.0 L104.0 146.0Z" fill="#08c794"/><path d="M162.0 75.0 L162.0 68.0 L167.0 61.0 L172.0 54.0 L190.0 52.0 L190.0 75.0Z" fill="#00b6c8"/><path d="M190.0 52.0 L191.0 57.0 L200.0 59.0 L213.0 58.0 L215.0 63.0 L218.0 73.0 L216.0 75.0 L190.0 75.0Z" fill="#02acd8"/><path d="M162.0 75.0 L216.0 75.0 L216.0 84.0 L162.0 84.0Z" fill="#00b6c8"/><path d="M213.0 74.0 L224.0 74.0 L228.0 86.0 L214.0 88.0Z" fill="#00b6c8"/><path d="M223.0 78.0 L232.0 78.0 L228.0 90.0 L220.0 92.0 L222.0 84.0Z" fill="#00b6c8"/><path d="M188.0 84.0 L211.0 84.0 L211.0 102.0 L188.0 102.0Z" fill="#049ce8"/><path d="M211.0 87.0 L222.0 87.0 L222.0 106.0 L211.0 106.0Z" fill="#02acd8"/><path d="M190.0 94.0 L207.0 94.0 L207.0 106.0 L190.0 106.0Z" fill="#049ce8"/><path d="M200.0 105.0 L221.0 105.0 L221.0 126.0 L200.0 126.0Z" fill="#14c87a"/><path d="M190.0 106.0 L200.0 106.0 L200.0 120.0 L190.0 120.0Z" fill="#00bfb0"/><path d="M222.0 101.0 L231.0 101.0 L231.0 116.0 L222.0 116.0Z" fill="#4a3aee"/><path d="M170.0 46.0 L184.0 46.0 L184.0 55.0 L170.0 55.0Z" fill="#4a3aee"/><path d="M169.0 29.0 L182.0 29.0 L182.0 41.0 L169.0 41.0Z" fill="#1a6ef8"/><path d="M175.0 34.0 L195.0 34.0 L195.0 47.0 L184.0 48.0 L175.0 46.0Z" fill="#1a6ef8"/><path d="M195.0 34.0 L210.0 34.0 L210.0 51.0 L195.0 51.0Z" fill="#4f2ade"/><path d="M187.0 43.0 L206.0 43.0 L206.0 54.0 L187.0 54.0Z" fill="#1a6ef8"/><path d="M184.0 26.0 L212.0 26.0 L212.0 35.0 L184.0 35.0Z" fill="#4f2ade"/><path d="M184.0 18.0 L225.0 18.0 L225.0 26.0 L184.0 26.0Z" fill="#fcc80a"/><path d="M210.0 26.0 L240.0 26.0 L240.0 38.0 L210.0 38.0Z" fill="#1a6ef8"/><path d="M225.0 18.0 L248.0 18.0 L248.0 26.0 L225.0 26.0Z" fill="#4f2ade"/><path d="M202.0 38.0 L232.0 38.0 L232.0 47.0 L202.0 47.0Z" fill="#5cc44e"/><path d="M206.0 48.0 L225.0 48.0 L225.0 54.5 L206.0 54.5Z" fill="#00b6c8"/><path d="M224.0 50.0 L242.0 50.0 L242.0 65.0 L228.0 62.0 L224.0 57.0Z" fill="#00b6c8"/><path d="M214.0 53.0 L224.0 53.0 L224.0 61.0 L214.0 61.0Z" fill="#08c794"/><path d="M214.0 60.0 L228.0 60.0 L236.0 65.0 L240.0 68.0 L232.0 75.0 L223.0 78.0 L215.0 65.0Z" fill="#00b6c8"/><path d="M230.0 35.0 L265.0 35.0 L265.0 47.0 L230.0 47.0Z" fill="#14c87a"/><path d="M232.0 47.0 L255.0 47.0 L255.0 55.0 L232.0 55.0Z" fill="#02acd8"/><path d="M240.0 54.0 L255.0 54.0 L255.0 67.0 L240.0 67.0Z" fill="#0a88f6"/><path d="M240.0 24.0 L270.0 24.0 L270.0 35.0 L240.0 35.0Z" fill="#fcc80a"/><path d="M240.0 12.0 L305.0 12.0 L305.0 24.0 L240.0 24.0Z" fill="#02acd8"/><path d="M270.0 24.0 L305.0 24.0 L305.0 40.0 L270.0 40.0Z" fill="#1a6ef8"/><path d="M305.0 15.0 L362.0 15.0 L362.0 26.0 L305.0 26.0Z" fill="#fcc80a"/><path d="M305.0 26.0 L345.0 26.0 L345.0 38.0 L305.0 38.0Z" fill="#1a6ef8"/><path d="M300.0 35.0 L322.0 35.0 L322.0 50.0 L300.0 50.0Z" fill="#1a6ef8"/><path d="M335.0 28.0 L346.0 28.0 L346.0 40.0 L335.0 40.0Z" fill="#4a3aee"/><path d="M340.0 20.0 L372.0 20.0 L372.0 28.0 L340.0 28.0Z" fill="#00b6c8"/><path d="M265.0 38.0 L300.0 38.0 L300.0 50.0 L265.0 50.0Z" fill="#02acd8"/><path d="M255.0 50.0 L283.0 50.0 L283.0 63.0 L255.0 63.0Z" fill="#f6be02"/><path d="M246.0 60.0 L272.0 60.0 L272.0 84.0 L246.0 84.0Z" fill="#0a88f6"/><path d="M283.0 48.0 L304.0 48.0 L304.0 70.0 L283.0 70.0Z" fill="#1a6ef8"/><path d="M272.0 62.0 L290.0 62.0 L290.0 90.0 L272.0 90.0Z" fill="#0a88f6"/><path d="M304.0 44.0 L327.0 44.0 L327.0 60.0 L304.0 60.0Z" fill="#4f2ade"/><path d="M274.0 82.0 L310.0 82.0 L310.0 101.0 L274.0 101.0Z" fill="#02acd8"/><path d="M310.0 90.0 L332.0 90.0 L332.0 101.0 L310.0 101.0Z" fill="#14c87a"/><path d="M296.0 70.0 L308.0 70.0 L308.0 85.0 L296.0 85.0Z" fill="#4a3aee"/><path d="M292.0 102.0 L305.0 102.0 L305.0 126.0 L292.0 126.0Z" fill="#f6be02"/><path d="M305.0 100.0 L320.0 100.0 L320.0 126.0 L305.0 126.0Z" fill="#00b6c8"/><path d="M320.0 100.0 L335.0 100.0 L335.0 130.0 L320.0 130.0Z" fill="#f6be02"/><path d="M305.0 100.0 L325.0 100.0 L325.0 107.0 L305.0 107.0Z" fill="#00b6c8"/><path d="M345.0 123.0 L360.0 123.0 L360.0 138.0 L345.0 138.0Z" fill="#4a3aee"/><path d="M-5.0 150.0 L70.0 150.0 L70.0 182.0 L-5.0 182.0Z" fill="#00b6c8"/><path d="M70.0 150.0 L120.0 150.0 L120.0 182.0 L70.0 182.0Z" fill="#0a88f6"/><path d="M120.0 150.0 L170.0 150.0 L170.0 182.0 L120.0 182.0Z" fill="#4a3aee"/><path d="M170.0 150.0 L240.0 150.0 L240.0 182.0 L170.0 182.0Z" fill="#3452f6"/><path d="M240.0 150.0 L300.0 150.0 L300.0 182.0 L240.0 182.0Z" fill="#3452f6"/><path d="M300.0 150.0 L365.0 150.0 L365.0 182.0 L300.0 182.0Z" fill="#3452f6"/><path d="M-5.0 175.0 L365.0 175.0 L365.0 182.0 L-5.0 182.0Z" fill="#0a88f6"/></g><g filter="url(#speckW)"><path d="M57.1 21.3 L126.5 21.3 L127.5 42.5 L114.2 47.0 L96.0 46.4 L85.7 40.8 L73.4 35.5 L61.2 28.4Z" fill="#fff"/><path d="M246.0 14.2 L365.0 14.2 L365.0 19.5 L246.0 19.5Z" fill="#fff"/><path d="M0.0 14.2 L15.0 14.2 L15.0 19.5 L0.0 19.5Z" fill="#fff"/></g><g filter="url(#bl1_5)"><ellipse cx="71.4" cy="59.4" rx="2.5" ry="1.6" fill="#fcc80a" opacity="0.85"/><ellipse cx="77.5" cy="67.3" rx="1.4" ry="1.2" fill="#fcc80a" opacity="0.85"/><path d="M109.6 110.2 L113.9 109.8 L114.3 120.4 L112.6 130.7 L109.6 130.7 L108.8 120.4Z" fill="#fcc80a"/><path d="M130.6 21.0 L134.7 20.1 L141.2 19.9 L140.0 22.4 L135.7 23.8 L131.6 24.2Z" fill="#fcc80a"/><ellipse cx="133.7" cy="26.3" rx="2.0" ry="1.4" fill="#14c87a"/><ellipse cx="118.0" cy="156.9" rx="2.2" ry="1.8" fill="#fbdf08"/></g><path d="M100.0 0.0 L180.0 0.0 L180.0 30.0 L164.0 30.0 L157.0 19.5 L157.0 10.7 L151.0 8.6 L100.0 8.6Z" fill="#fff"/>
<path fill="#fff" d="M96.5 167.2 L120.5 167.2 L135.0 168.4 L150.0 168.4 L152.5 169.5 L148.0 171.3 L135.0 171.7 L120.0 172.3 L105.0 172.8 L96.5 171.5 L95.5 169.0Z"/><path fill="#fff" d="M-263.5 167.2 L-239.5 167.2 L-225.0 168.4 L-210.0 168.4 L-207.5 169.5 L-212.0 171.3 L-225.0 171.7 L-240.0 172.3 L-255.0 172.8 L-263.5 171.5 L-264.5 169.0Z"/><path fill="#fff" d="M347.5 159.5 L348.5 162.0 L345.0 165.0 L342.0 168.0 L339.0 171.0 L341.0 173.3 L350.0 173.9 L360.0 174.0 L380.0 174.2 L384.0 173.5 L382.0 170.5 L385.0 168.5 L388.0 166.5 L391.0 165.2 L391.0 160.0 L360.0 160.0Z"/><path fill="#fff" d="M-12.5 159.5 L-11.5 162.0 L-15.0 165.0 L-18.0 168.0 L-21.0 171.0 L-19.0 173.3 L-10.0 173.9 L0.0 174.0 L20.0 174.2 L24.0 173.5 L22.0 170.5 L25.0 168.5 L28.0 166.5 L31.0 165.2 L31.0 160.0 L0.0 160.0Z"/>
<g fill="none" stroke="#fff" stroke-linejoin="round" stroke-linecap="round" opacity="0.9"><path d="M192.3 96.0 L193.5 95.5 L195.3 94.3 L196.5 92.5 L197.5 90.5 L198.5 88.8 L200.5 88.0 L202.5 88.2 L204.0 89.0 L205.2 89.6 L205.5 91.5 L206.0 94.0 L207.0 97.0" stroke-width="0.9"/><path d="M107.0 94.2 L110.0 93.6 L113.0 93.2 L116.0 93.5 L120.0 93.2 L123.0 92.6 L126.0 92.0 L129.0 91.0 L130.5 90.2" stroke-width="1.0"/><path d="M110.0 91.0 L114.0 90.3 L117.0 91.2 L120.0 93.2" stroke-width="0.7"/><path d="M118.0 98.0 L119.0 95.5 L120.0 93.2" stroke-width="0.6"/><path d="M209.3 93.3 L209.8 95.5 L210.5 97.5 L211.0 98.7" stroke-width="0.9"/><path d="M214.2 99.5 L214.6 102.0 L215.2 104.3" stroke-width="0.9"/><path d="M284.0 38.4 L286.0 37.5 L288.0 36.0 L289.5 34.4" stroke-width="0.9"/><path d="M306.0 17.5 L307.0 20.0 L305.0 23.0 L304.0 25.5 L308.0 27.5 L310.0 29.0 L308.0 30.5" stroke-width="0.5"/><path d="M263.0 18.5 L266.5 21.0 L268.0 24.0 L270.0 28.0 L272.0 31.5" stroke-width="0.5"/><path d="M253.0 23.0 L249.0 25.0 L247.0 28.0 L248.0 30.0 L253.0 31.5 L259.0 33.0" stroke-width="0.5"/><path d="M83.0 39.0 L82.0 37.0 L81.0 36.0" stroke-width="1.2"/><path d="M57.0 25.0 L60.0 26.0 L63.0 27.5 L65.0 28.5" stroke-width="1.0"/><path d="M68.0 23.5 L62.0 24.0 L59.0 24.5" stroke-width="1.0"/></g>
<g fill="#fff"><ellipse cx="213.0" cy="91.0" rx="1.6" ry="1.5"/><ellipse cx="82.0" cy="37.5" rx="0.6" ry="1.8"/><ellipse cx="64.0" cy="28.4" rx="2.0" ry="0.8"/><ellipse cx="59.0" cy="24.0" rx="2.5" ry="0.9"/><ellipse cx="215.5" cy="44.0" rx="0.2" ry="0.2"/><ellipse cx="240.0" cy="45.0" rx="1.0" ry="1.0"/><ellipse cx="257.0" cy="43.5" rx="2.5" ry="0.5"/></g>
</g>
<g fill="#fff"><path d="M208.0 48.4 L209.1 48.8 L211.0 48.9 L213.0 48.1 L215.0 47.9 L216.5 48.7 L218.0 49.0 L220.0 49.0 L221.6 48.4 L221.5 47.5 L219.7 46.5 L218.0 45.5 L216.8 44.8 L216.5 44.6 L215.3 45.0 L214.0 45.6 L213.4 45.4 L213.5 44.8 L212.5 44.6 L213.5 44.0 L212.0 43.5 L210.7 43.5 L210.0 44.2 L209.6 44.8 L208.7 45.8 L208.0 46.7 L207.8 47.5Z"/><path d="M215.0 44.7 L216.6 44.6 L218.5 43.3 L219.2 42.8 L217.5 43.0 L215.5 43.6 L215.0 44.2Z"/><path d="M226.7 45.4 L227.5 44.5 L229.0 43.5 L231.5 43.0 L233.0 43.3 L233.0 45.0 L231.3 45.5 L231.0 46.7 L232.5 48.0 L233.0 49.0 L232.8 50.0 L233.9 50.5 L233.8 52.7 L232.0 53.2 L230.3 52.8 L229.0 52.2 L229.0 51.0 L229.5 49.7 L228.6 48.4 L227.5 47.2 L227.3 46.2Z"/><path d="M88.0 43.3 L92.0 41.5 L95.0 42.1 L95.5 43.5 L93.0 43.5 L89.5 43.5Z"/><path d="M92.5 48.3 L93.5 47.5 L93.8 45.5 L95.0 44.2 L93.0 44.0 L92.0 45.5 L92.2 47.5Z"/><path d="M96.0 44.0 L98.5 44.2 L100.0 45.5 L98.3 46.8 L97.5 47.0 L96.5 46.0 L95.5 44.5Z"/><path d="M96.7 48.3 L99.0 48.2 L101.0 47.2 L99.5 47.4 L97.5 48.0Z"/><path d="M100.5 46.7 L103.5 46.6 L103.7 45.9 L101.0 46.2Z"/></g>
<g clip-path="url(#ndclip)" stroke="#b9b9b9" stroke-width="0.7" fill="none" vector-effect="non-scaling-stroke"><path d="M12.0 24.4 L14.0 21.7 L17.0 20.3 L23.2 18.7 L28.0 19.2 L32.0 19.7 L39.0 20.4 L44.0 21.0 L48.0 20.4 L52.0 19.6 L56.0 20.4 L60.0 21.0 L65.0 21.8 L70.0 22.0 L75.0 21.7 L80.0 22.2 L83.0 21.7 L85.0 20.5 L86.0 18.2 L88.0 19.5 L90.0 21.0 L94.0 20.8 L98.0 20.5 L96.0 23.0 L93.0 24.5 L92.0 25.8 L88.0 27.5 L85.8 31.0 L87.0 33.0 L90.0 33.0 L94.0 34.5 L97.5 35.0 L98.0 37.0 L100.0 38.7 L101.0 37.5 L101.0 35.5 L103.0 33.5 L102.5 31.5 L102.0 29.5 L102.0 27.7 L106.0 27.5 L109.0 28.8 L110.5 31.0 L112.5 31.7 L114.0 31.2 L115.5 29.7 L116.5 31.5 L118.0 32.5 L119.0 34.0 L120.5 34.8 L122.5 36.0 L124.0 37.5 L123.0 38.5 L120.0 39.8 L115.5 39.7 L113.5 40.0 L111.5 41.0 L110.0 42.2 L111.0 41.5 L113.5 40.8 L115.5 41.0 L115.2 42.2 L115.5 43.5 L118.5 44.0 L120.0 43.8 L120.0 44.4 L116.5 45.4 L114.2 46.4 L113.5 45.4 L115.0 44.7 L113.0 45.0 L111.5 45.8 L109.8 46.4 L109.2 47.4 L110.0 48.2 L108.5 48.7 L106.5 49.2 L106.0 49.5 L105.7 50.5 L105.0 51.2 L104.1 52.5 L103.7 53.0 L104.5 54.8 L103.5 55.4 L102.1 56.1 L100.8 57.0 L99.0 58.3 L98.6 60.0 L99.5 62.0 L100.0 63.3 L99.6 64.8 L98.8 64.7 L98.2 63.7 L97.2 62.0 L97.3 60.8 L96.0 60.0 L94.5 60.3 L93.5 59.6 L91.5 59.7 L90.5 59.8 L90.8 60.9 L89.5 60.9 L88.0 60.4 L86.0 60.4 L84.5 61.3 L82.7 62.4 L82.6 64.2 L82.3 66.0 L82.2 67.7 L82.8 69.4 L84.0 70.9 L85.5 71.8 L87.5 71.4 L89.0 71.2 L89.5 70.2 L89.7 69.0 L91.5 68.5 L93.0 68.5 L92.5 70.0 L92.2 71.5 L91.7 72.5 L91.5 74.1 L94.0 74.1 L96.0 74.2 L96.7 75.0 L96.5 77.5 L96.3 79.0 L97.5 80.2 L98.5 81.2 L100.0 80.7 L101.5 80.6 L102.7 81.4 L102.5 82.5 L101.5 82.0 L100.5 81.2 L99.6 82.0 L99.9 82.7 L98.5 82.3 L97.0 81.7 L95.5 80.3 L94.3 80.0 L94.2 78.8 L92.7 77.1 L91.5 76.8 L90.0 76.2 L88.5 76.0 L87.0 74.7 L85.5 73.9 L83.5 74.4 L81.5 73.8 L79.0 72.7 L76.5 71.7 L74.5 70.0 L74.7 68.2 L73.6 66.7 L71.5 64.7 L70.5 63.5 L69.2 62.2 L67.8 60.5 L66.5 58.8 L65.2 58.3 L65.7 59.5 L66.8 61.0 L67.7 62.5 L68.7 64.0 L69.4 65.5 L70.5 66.9 L69.8 67.1 L68.5 65.6 L67.8 65.0 L67.8 63.7 L65.7 62.5 L65.8 61.8 L64.7 60.5 L63.8 59.2 L62.9 57.5 L62.5 56.6 L61.5 56.0 L59.4 55.5 L59.0 54.3 L58.0 53.2 L57.5 52.2 L57.0 51.8 L56.2 50.5 L55.7 49.5 L55.9 48.0 L55.5 47.0 L56.0 43.8 L55.3 41.6 L57.0 41.7 L57.5 42.5 L57.2 41.0 L56.0 40.2 L54.5 39.5 L52.5 38.8 L52.0 37.5 L50.0 35.7 L49.0 34.5 L47.5 33.2 L45.5 32.0 L44.0 31.5 L42.5 31.3 L40.5 30.4 L38.0 29.9 L36.0 30.0 L33.5 29.2 L32.0 29.5 L30.0 30.5 L28.2 30.8 L28.5 29.5 L30.0 28.8 L27.5 29.8 L26.2 31.1 L25.5 32.0 L23.7 32.8 L21.5 33.8 L19.5 34.5 L17.5 35.0 L15.2 35.6 L16.5 34.9 L18.5 34.0 L20.5 32.8 L22.5 31.7 L22.8 31.2 L21.0 31.5 L18.2 31.2 L17.8 30.2 L16.2 30.0 L14.8 29.5 L14.7 28.7 L14.0 28.2 L15.0 27.5 L15.6 26.8 L17.7 26.5 L19.0 25.6 L17.5 25.5 L15.5 25.4 L13.7 25.4 L13.7 24.8 L12.0 24.4Z"/><path d="M136.0 30.2 L134.0 29.2 L132.0 29.0 L129.5 26.5 L128.5 25.0 L126.5 23.2 L126.5 21.5 L129.0 20.5 L126.0 19.5 L125.0 18.5 L124.0 16.0 L121.5 14.3 L114.0 13.8 L108.5 12.7 L107.0 11.7 L112.0 10.0 L118.0 8.2 L130.0 7.6 L140.0 6.7 L150.0 6.4 L158.0 7.2 L160.0 8.5 L168.0 8.5 L164.0 10.0 L162.0 11.5 L161.0 13.0 L161.5 15.0 L158.5 17.0 L158.0 19.0 L158.0 19.8 L154.0 21.5 L148.0 21.8 L145.0 24.0 L142.0 24.5 L139.5 25.5 L138.0 27.5 L137.0 29.5Z"/><path d="M155.5 24.5 L158.0 23.6 L162.0 23.8 L165.0 23.5 L166.5 24.8 L165.2 25.7 L162.0 26.6 L159.0 26.2 L157.3 26.0Z"/><path d="M120.7 42.4 L123.0 38.5 L124.5 38.4 L124.5 40.5 L126.5 40.7 L127.3 42.5 L126.5 43.3 L125.0 43.0 L124.0 42.4Z"/></g>
</g></g>
<rect x="12.35" y="321.90" width="362.55" height="213.55" fill="none" stroke="#111" stroke-width="1.8"/>
<rect x="17.10" y="326.90" width="352.50" height="203.40" fill="none" stroke="#111" stroke-width="1.8"/>
<rect x="383.60" y="525.37" width="20.20" height="10.93" fill="#3e1caa"/>
<rect x="383.60" y="514.74" width="20.20" height="10.93" fill="#4822c6"/>
<rect x="383.60" y="504.11" width="20.20" height="10.93" fill="#4f2ade"/>
<rect x="383.60" y="493.48" width="20.20" height="10.93" fill="#4a3aee"/>
<rect x="383.60" y="482.85" width="20.20" height="10.93" fill="#3452f6"/>
<rect x="383.60" y="472.22" width="20.20" height="10.93" fill="#1a6ef8"/>
<rect x="383.60" y="461.59" width="20.20" height="10.93" fill="#0a88f6"/>
<rect x="383.60" y="450.96" width="20.20" height="10.93" fill="#049ce8"/>
<rect x="383.60" y="440.33" width="20.20" height="10.93" fill="#02acd8"/>
<rect x="383.60" y="429.70" width="20.20" height="10.93" fill="#00b6c8"/>
<rect x="383.60" y="419.07" width="20.20" height="10.93" fill="#00bfb0"/>
<rect x="383.60" y="408.44" width="20.20" height="10.93" fill="#08c794"/>
<rect x="383.60" y="397.81" width="20.20" height="10.93" fill="#14c87a"/>
<rect x="383.60" y="387.18" width="20.20" height="10.93" fill="#5cc44e"/>
<rect x="383.60" y="376.55" width="20.20" height="10.93" fill="#c2bc08"/>
<rect x="383.60" y="365.92" width="20.20" height="10.93" fill="#eeb404"/>
<rect x="383.60" y="355.29" width="20.20" height="10.93" fill="#f6be02"/>
<rect x="383.60" y="344.66" width="20.20" height="10.93" fill="#fcc80a"/>
<rect x="383.60" y="334.03" width="20.20" height="10.93" fill="#fbdf08"/>
<rect x="383.60" y="323.40" width="20.20" height="10.93" fill="#f3f40a"/>
<rect x="383.60" y="323.40" width="20.20" height="212.60" fill="none" stroke="#151515" stroke-width="1.5"/>
<path d="M400.80 482.85H403.80" stroke="#202020" stroke-width="1"/>
<path d="M400.80 429.70H403.80" stroke="#202020" stroke-width="1"/>
<path d="M400.80 376.55H403.80" stroke="#202020" stroke-width="1"/>
<text x="0" y="0" transform="translate(408.20 541.25) scale(0.975 1)" style="font-size:15.10px">0</text>
<text x="0" y="0" transform="translate(408.20 488.10) scale(0.975 1)" style="font-size:15.10px">5</text>
<path d="M870 0L590 0L590 1030Q450 905 225 830L225 1075Q345 1115 470 1212Q595 1309 640 1409L870 1409Z" transform="translate(408.20 434.95) scale(0.00719 -0.00737)" fill="#0d0d0d" stroke="#0d0d0d" stroke-width="40.7"/><text x="0" y="0" transform="translate(416.39 434.95) scale(0.975 1)" style="font-size:15.10px">0</text>
<path d="M870 0L590 0L590 1030Q450 905 225 830L225 1075Q345 1115 470 1212Q595 1309 640 1409L870 1409Z" transform="translate(408.20 381.80) scale(0.00719 -0.00737)" fill="#0d0d0d" stroke="#0d0d0d" stroke-width="40.7"/><text x="0" y="0" transform="translate(416.39 381.80) scale(0.975 1)" style="font-size:15.10px">5</text>
<text x="0" y="0" transform="translate(408.20 328.65) scale(0.975 1)" style="font-size:15.10px">2</text><text x="0" y="0" transform="translate(416.39 328.65) scale(0.975 1)" style="font-size:15.10px">0</text>
<text x="123.56" y="293.50" style="font-size:19.10px">D</text><text x="137.35" y="293.50" style="font-size:19.10px">T</text><text x="149.02" y="293.50" style="font-size:19.10px">R</text><text x="168.12" y="293.50" style="font-size:19.10px">8</text><text x="178.74" y="293.50" style="font-size:19.10px">9</text><text x="194.67" y="293.50" style="font-size:19.10px">(</text><text x="201.03" y="293.50" style="font-size:19.10px">V</text><text x="213.77" y="293.50" style="font-size:19.10px">)</text><text x="225.44" y="293.50" style="font-size:19.10px">G</text><text x="240.30" y="293.50" style="font-size:19.10px">H</text><text x="254.09" y="293.50" style="font-size:19.10px">z</text>
<text x="159.08" y="315.00" style="font-size:19.10px">0</text><text x="169.70" y="315.00" style="font-size:19.10px">2</text><text x="180.32" y="315.00" style="font-size:19.10px">/</text><text x="185.63" y="315.00" style="font-size:19.10px">2</text><text x="196.25" y="315.00" style="font-size:19.10px">0</text><path d="M870 0L590 0L590 1030Q450 905 225 830L225 1075Q345 1115 470 1212Q595 1309 640 1409L870 1409Z" transform="translate(206.88 315.00) scale(0.00933 -0.00933)" fill="#0d0d0d" stroke="#0d0d0d" stroke-width="32.2"/><text x="217.50" y="315.00" style="font-size:19.10px">6</text>
<text x="20.10" y="311.80" style="font-size:19.60px">(</text><text x="27.53" y="311.80" style="font-size:19.60px">c</text><text x="39.33" y="311.80" style="font-size:19.60px">)</text>
<rect x="441.60" y="317.00" width="363.00" height="213.90" fill="#fff"/>
<g clip-path="url(#clipd)">
<path d="M475.80 322.35V525.70M505.20 322.35V525.70M534.60 322.35V525.70M564.00 322.35V525.70M593.40 322.35V525.70M622.80 322.35V525.70M652.20 322.35V525.70M681.60 322.35V525.70M711.00 322.35V525.70M740.40 322.35V525.70M769.80 322.35V525.70M446.40 508.75H799.20M446.40 491.81H799.20M446.40 474.86H799.20M446.40 457.92H799.20M446.40 440.97H799.20M446.40 424.03H799.20M446.40 407.08H799.20M446.40 390.13H799.20M446.40 373.19H799.20M446.40 356.24H799.20M446.40 339.30H799.20" stroke="#8a8a8a" stroke-width="0.9" stroke-dasharray="1 2.6" fill="none"/>
<g transform="translate(446.400 322.350) scale(0.98000 1.12972)">
<g stroke="#b9b9b9" stroke-width="0.7" fill="none" vector-effect="non-scaling-stroke"><path d="M118.5 23.3 L116.0 25.0 L114.5 27.5 L110.0 27.2 L108.0 26.5 L102.5 25.0 L106.0 23.5 L107.0 22.0 L104.0 21.0 L100.0 20.0 L94.0 19.5 L91.0 17.5 L95.0 16.4 L100.0 16.3 L104.0 17.5 L107.0 18.5 L111.0 19.5 L113.0 20.5 L116.0 22.5Z"/><path d="M105.0 13.5 L100.0 13.8 L91.0 13.5 L90.0 12.0 L85.0 10.0 L88.0 8.7 L95.0 7.5 L110.0 7.0 L118.0 7.5 L115.0 9.0 L110.0 10.5 L105.0 11.5 L102.0 12.5Z"/><path d="M100.0 15.5 L88.0 15.2 L89.0 13.5 L98.0 13.5Z"/><path d="M61.0 18.5 L63.0 16.5 L72.0 16.5 L78.0 17.0 L79.0 20.0 L75.0 21.5 L68.0 21.0 L63.0 20.5Z"/><path d="M54.5 18.0 L56.0 15.7 L63.0 15.7 L64.5 17.0 L60.0 18.8Z"/><path d="M82.0 18.5 L90.0 18.0 L90.0 16.0 L85.0 16.0 L82.0 16.5Z"/><path d="M62.0 14.5 L74.0 15.0 L76.0 13.5 L68.0 12.7 L63.0 13.5Z"/><path d="M79.0 14.5 L84.0 14.5 L84.0 13.0 L79.0 13.3Z"/><path d="M93.0 26.5 L99.5 26.5 L96.0 24.5 L93.5 24.0Z"/><path d="M85.0 11.5 L92.0 11.8 L94.0 9.5 L88.0 8.8 L84.0 10.0Z"/><path d="M191.0 11.5 L196.0 10.0 L203.0 9.5 L207.0 10.0 L202.0 12.0 L197.0 13.5 L193.0 12.5Z"/><path d="M232.0 18.5 L235.0 17.0 L237.0 14.5 L242.0 13.5 L248.5 13.1 L244.0 14.5 L239.0 16.5 L236.5 19.0 L233.0 19.4Z"/><path d="M275.0 10.5 L280.0 9.0 L284.0 10.5 L281.0 11.7 L277.0 11.2Z"/><path d="M316.0 16.0 L320.0 14.5 L323.0 14.3 L330.0 14.8 L326.0 15.5 L321.0 16.5 L317.0 16.8Z"/><path d="M358.5 18.8 L361.0 18.4 L363.0 18.8 L361.0 19.2Z"/><path d="M227.0 9.5 L235.0 8.5 L243.0 9.0 L240.0 10.0 L232.0 10.0Z"/></g>
<g clip-path="url(#landclip)">
<rect x="-12" y="-5" width="384" height="190" fill="#4f2ade"/><g filter="url(#bl3)"><path d="M-1.0 18.0 L13.0 18.0 L13.0 28.0 L-1.0 28.0Z" fill="#3452f6"/><path d="M10.0 18.0 L25.0 18.0 L25.0 38.0 L10.0 38.0Z" fill="#3452f6"/><path d="M25.0 18.0 L39.0 18.0 L39.0 33.0 L25.0 33.0Z" fill="#4a3aee"/><path d="M39.0 20.0 L60.0 20.0 L65.0 41.0 L54.0 43.0 L39.0 33.0Z" fill="#4a3aee"/><path d="M60.0 30.0 L85.0 30.0 L85.0 41.0 L65.0 41.0Z" fill="#4a3aee"/><path d="M55.0 18.0 L122.0 18.0 L122.0 32.0 L85.0 35.0 L60.0 30.0Z" fill="#4a3aee"/><path d="M85.0 34.0 L128.0 34.0 L128.0 46.0 L100.0 46.0 L85.0 41.0Z" fill="#4a3aee"/><path d="M54.0 41.0 L70.0 41.0 L70.0 59.0 L62.0 59.0 L54.0 50.0Z" fill="#00b6c8"/><path d="M70.0 41.0 L87.0 41.0 L87.0 62.0 L70.0 62.0Z" fill="#049ce8"/><path d="M87.0 41.0 L114.0 41.0 L114.0 66.0 L87.0 62.0Z" fill="#1a6ef8"/><path d="M62.0 57.0 L80.0 59.0 L83.0 68.0 L74.0 69.0 L62.0 62.0Z" fill="#049ce8"/><path d="M80.0 59.0 L87.0 62.0 L84.0 72.0 L83.0 68.0Z" fill="#0a88f6"/><path d="M74.0 69.0 L85.0 68.0 L94.0 76.0 L83.0 76.0Z" fill="#0a88f6"/><path d="M88.0 72.0 L103.0 72.0 L103.0 83.0 L88.0 78.0Z" fill="#1a6ef8"/><path d="M94.0 66.0 L116.0 66.0 L116.0 73.0 L94.0 73.0Z" fill="#1a6ef8"/><path d="M105.0 6.0 L170.0 6.0 L170.0 31.0 L105.0 31.0Z" fill="#00b6c8"/><path d="M155.0 23.0 L167.0 23.0 L167.0 27.0 L155.0 27.0Z" fill="#0a88f6"/><path d="M98.0 77.0 L132.0 77.0 L132.0 100.0 L98.0 100.0Z" fill="#3452f6"/><path d="M108.0 100.0 L125.0 100.0 L125.0 115.0 L115.0 115.0 L108.0 105.0Z" fill="#00b6c8"/><path d="M132.0 90.0 L146.0 95.0 L140.0 115.0 L125.0 115.0 L122.0 100.0 L132.0 100.0Z" fill="#00bfb0"/><path d="M98.0 93.0 L108.0 93.0 L110.0 108.0 L104.0 108.0Z" fill="#00bfb0"/><path d="M108.0 105.0 L115.0 105.0 L115.0 132.0 L108.0 132.0Z" fill="#fbdf08"/><path d="M115.0 110.0 L125.0 115.0 L132.0 115.0 L132.0 125.0 L123.0 130.0 L115.0 130.0Z" fill="#00bfb0"/><path d="M104.0 130.0 L118.0 130.0 L118.0 146.0 L104.0 146.0Z" fill="#00b6c8"/><path d="M162.0 75.0 L162.0 68.0 L167.0 61.0 L172.0 54.0 L190.0 52.0 L190.0 75.0Z" fill="#0a88f6"/><path d="M190.0 52.0 L191.0 57.0 L200.0 59.0 L213.0 58.0 L215.0 63.0 L218.0 73.0 L216.0 75.0 L190.0 75.0Z" fill="#02acd8"/><path d="M162.0 75.0 L216.0 75.0 L216.0 84.0 L162.0 84.0Z" fill="#3452f6"/><path d="M213.0 74.0 L224.0 74.0 L228.0 86.0 L214.0 88.0Z" fill="#00bfb0"/><path d="M223.0 78.0 L232.0 78.0 L228.0 90.0 L220.0 92.0 L222.0 84.0Z" fill="#08c794"/><path d="M188.0 84.0 L211.0 84.0 L211.0 102.0 L188.0 102.0Z" fill="#4a3aee"/><path d="M211.0 87.0 L222.0 87.0 L222.0 106.0 L211.0 106.0Z" fill="#00b6c8"/><path d="M190.0 94.0 L207.0 94.0 L207.0 106.0 L190.0 106.0Z" fill="#049ce8"/><path d="M200.0 105.0 L221.0 105.0 L221.0 126.0 L200.0 126.0Z" fill="#fcc80a"/><path d="M190.0 106.0 L200.0 106.0 L200.0 120.0 L190.0 120.0Z" fill="#fbdf08"/><path d="M222.0 101.0 L231.0 101.0 L231.0 116.0 L222.0 116.0Z" fill="#c2bc08"/><path d="M170.0 46.0 L184.0 46.0 L184.0 55.0 L170.0 55.0Z" fill="#02acd8"/><path d="M169.0 29.0 L182.0 29.0 L182.0 41.0 L169.0 41.0Z" fill="#0a88f6"/><path d="M175.0 34.0 L195.0 34.0 L195.0 47.0 L184.0 48.0 L175.0 46.0Z" fill="#049ce8"/><path d="M195.0 34.0 L210.0 34.0 L210.0 51.0 L195.0 51.0Z" fill="#0a88f6"/><path d="M187.0 43.0 L206.0 43.0 L206.0 54.0 L187.0 54.0Z" fill="#049ce8"/><path d="M184.0 26.0 L212.0 26.0 L212.0 35.0 L184.0 35.0Z" fill="#3452f6"/><path d="M184.0 18.0 L225.0 18.0 L225.0 26.0 L184.0 26.0Z" fill="#3452f6"/><path d="M210.0 26.0 L240.0 26.0 L240.0 38.0 L210.0 38.0Z" fill="#1a6ef8"/><path d="M225.0 18.0 L248.0 18.0 L248.0 26.0 L225.0 26.0Z" fill="#3452f6"/><path d="M202.0 38.0 L232.0 38.0 L232.0 47.0 L202.0 47.0Z" fill="#00b6c8"/><path d="M206.0 48.0 L225.0 48.0 L225.0 54.5 L206.0 54.5Z" fill="#00bfb0"/><path d="M224.0 50.0 L242.0 50.0 L242.0 65.0 L228.0 62.0 L224.0 57.0Z" fill="#14c87a"/><path d="M214.0 53.0 L224.0 53.0 L224.0 61.0 L214.0 61.0Z" fill="#08c794"/><path d="M214.0 60.0 L228.0 60.0 L236.0 65.0 L240.0 68.0 L232.0 75.0 L223.0 78.0 L215.0 65.0Z" fill="#08c794"/><path d="M230.0 35.0 L265.0 35.0 L265.0 47.0 L230.0 47.0Z" fill="#02acd8"/><path d="M232.0 47.0 L255.0 47.0 L255.0 55.0 L232.0 55.0Z" fill="#00b6c8"/><path d="M240.0 54.0 L255.0 54.0 L255.0 67.0 L240.0 67.0Z" fill="#0a88f6"/><path d="M240.0 24.0 L270.0 24.0 L270.0 35.0 L240.0 35.0Z" fill="#3452f6"/><path d="M240.0 12.0 L305.0 12.0 L305.0 24.0 L240.0 24.0Z" fill="#3452f6"/><path d="M270.0 24.0 L305.0 24.0 L305.0 40.0 L270.0 40.0Z" fill="#4a3aee"/><path d="M305.0 15.0 L362.0 15.0 L362.0 26.0 L305.0 26.0Z" fill="#3452f6"/><path d="M305.0 26.0 L345.0 26.0 L345.0 38.0 L305.0 38.0Z" fill="#4a3aee"/><path d="M300.0 35.0 L322.0 35.0 L322.0 50.0 L300.0 50.0Z" fill="#4a3aee"/><path d="M335.0 28.0 L346.0 28.0 L346.0 40.0 L335.0 40.0Z" fill="#1a6ef8"/><path d="M340.0 20.0 L372.0 20.0 L372.0 28.0 L340.0 28.0Z" fill="#3452f6"/><path d="M265.0 38.0 L300.0 38.0 L300.0 50.0 L265.0 50.0Z" fill="#02acd8"/><path d="M255.0 50.0 L283.0 50.0 L283.0 63.0 L255.0 63.0Z" fill="#3452f6"/><path d="M246.0 60.0 L272.0 60.0 L272.0 84.0 L246.0 84.0Z" fill="#4a3aee"/><path d="M283.0 48.0 L304.0 48.0 L304.0 70.0 L283.0 70.0Z" fill="#4f2ade"/><path d="M272.0 62.0 L290.0 62.0 L290.0 90.0 L272.0 90.0Z" fill="#4a3aee"/><path d="M304.0 44.0 L327.0 44.0 L327.0 60.0 L304.0 60.0Z" fill="#3452f6"/><path d="M274.0 82.0 L310.0 82.0 L310.0 101.0 L274.0 101.0Z" fill="#1a6ef8"/><path d="M310.0 90.0 L332.0 90.0 L332.0 101.0 L310.0 101.0Z" fill="#1a6ef8"/><path d="M296.0 70.0 L308.0 70.0 L308.0 85.0 L296.0 85.0Z" fill="#1a6ef8"/><path d="M292.0 102.0 L305.0 102.0 L305.0 126.0 L292.0 126.0Z" fill="#fcc80a"/><path d="M305.0 100.0 L320.0 100.0 L320.0 126.0 L305.0 126.0Z" fill="#14c87a"/><path d="M320.0 100.0 L335.0 100.0 L335.0 130.0 L320.0 130.0Z" fill="#14c87a"/><path d="M305.0 100.0 L325.0 100.0 L325.0 107.0 L305.0 107.0Z" fill="#00bfb0"/><path d="M345.0 123.0 L360.0 123.0 L360.0 138.0 L345.0 138.0Z" fill="#1a6ef8"/><path d="M-5.0 150.0 L70.0 150.0 L70.0 182.0 L-5.0 182.0Z" fill="#08c794"/><path d="M70.0 150.0 L120.0 150.0 L120.0 182.0 L70.0 182.0Z" fill="#00b6c8"/><path d="M112.0 152.0 L123.0 152.0 L123.0 159.5 L112.0 159.5Z" fill="#f6be02"/><path d="M112.0 159.5 L123.0 159.5 L123.0 166.0 L112.0 166.0Z" fill="#02acd8"/><path d="M120.0 150.0 L170.0 150.0 L170.0 182.0 L120.0 182.0Z" fill="#00b6c8"/><path d="M170.0 150.0 L240.0 150.0 L240.0 182.0 L170.0 182.0Z" fill="#3452f6"/><path d="M240.0 150.0 L300.0 150.0 L300.0 182.0 L240.0 182.0Z" fill="#4f2ade"/><path d="M300.0 150.0 L365.0 150.0 L365.0 182.0 L300.0 182.0Z" fill="#00b6c8"/><path d="M-5.0 175.0 L365.0 175.0 L365.0 182.0 L-5.0 182.0Z" fill="#00b6c8"/></g><g filter="url(#bl1_5)"><ellipse cx="64.9" cy="48.4" rx="2.4" ry="1.8" fill="#f6be02"/><ellipse cx="136.3" cy="18.3" rx="7.1" ry="1.8" fill="#14c87a"/><ellipse cx="282.2" cy="16.5" rx="16.3" ry="1.8" fill="#00b6c8"/><ellipse cx="239.4" cy="55.5" rx="3.1" ry="2.5" fill="#fcc80a"/><ellipse cx="225.1" cy="67.8" rx="2.0" ry="1.8" fill="#f6be02"/><ellipse cx="219.0" cy="24.5" rx="2.4" ry="1.4" fill="#c2bc08"/><ellipse cx="323.1" cy="24.5" rx="6.1" ry="1.8" fill="#c2bc08"/><ellipse cx="192.4" cy="40.4" rx="10.2" ry="5.3" fill="#02acd8"/><ellipse cx="44.5" cy="166.1" rx="16.3" ry="1.4" fill="#f6be02"/><path d="M-0.4 176.4 L60.8 176.4 L60.8 178.5 L-0.4 178.5Z" fill="#fcc80a"/><path d="M221.0 155.8 L249.6 155.8 L249.6 158.7 L221.0 158.7Z" fill="#f6be02"/><path d="M257.8 155.8 L327.1 155.8 L327.1 158.7 L257.8 158.7Z" fill="#f6be02"/><ellipse cx="296.5" cy="160.8" rx="40.8" ry="2.7" fill="#00bfb0"/><ellipse cx="276.1" cy="169.6" rx="30.6" ry="5.3" fill="#4f2ade"/><ellipse cx="316.9" cy="167.9" rx="20.4" ry="5.3" fill="#00b6c8"/><ellipse cx="327.1" cy="177.1" rx="40.8" ry="1.8" fill="#00bfb0"/></g><g filter="url(#speckP)"><path d="M-1.0 18.0 L13.0 18.0 L13.0 28.0 L-1.0 28.0Z" fill="#4f2ade"/><path d="M10.0 18.0 L25.0 18.0 L25.0 38.0 L10.0 38.0Z" fill="#4f2ade"/><path d="M25.0 18.0 L39.0 18.0 L39.0 33.0 L25.0 33.0Z" fill="#1a6ef8"/><path d="M39.0 20.0 L60.0 20.0 L65.0 41.0 L54.0 43.0 L39.0 33.0Z" fill="#1a6ef8"/><path d="M60.0 30.0 L85.0 30.0 L85.0 41.0 L65.0 41.0Z" fill="#1a6ef8"/><path d="M55.0 18.0 L122.0 18.0 L122.0 32.0 L85.0 35.0 L60.0 30.0Z" fill="#1a6ef8"/><path d="M85.0 34.0 L128.0 34.0 L128.0 46.0 L100.0 46.0 L85.0 41.0Z" fill="#0a88f6"/><path d="M54.0 41.0 L70.0 41.0 L70.0 59.0 L62.0 59.0 L54.0 50.0Z" fill="#08c794"/><path d="M70.0 41.0 L87.0 41.0 L87.0 62.0 L70.0 62.0Z" fill="#00b6c8"/><path d="M87.0 41.0 L114.0 41.0 L114.0 66.0 L87.0 62.0Z" fill="#4a3aee"/><path d="M62.0 57.0 L80.0 59.0 L83.0 68.0 L74.0 69.0 L62.0 62.0Z" fill="#00b6c8"/><path d="M80.0 59.0 L87.0 62.0 L84.0 72.0 L83.0 68.0Z" fill="#02acd8"/><path d="M74.0 69.0 L85.0 68.0 L94.0 76.0 L83.0 76.0Z" fill="#02acd8"/><path d="M88.0 72.0 L103.0 72.0 L103.0 83.0 L88.0 78.0Z" fill="#049ce8"/><path d="M94.0 66.0 L116.0 66.0 L116.0 73.0 L94.0 73.0Z" fill="#4a3aee"/><path d="M105.0 6.0 L170.0 6.0 L170.0 31.0 L105.0 31.0Z" fill="#00bfb0"/><path d="M98.0 77.0 L132.0 77.0 L132.0 100.0 L98.0 100.0Z" fill="#4f2ade"/><path d="M108.0 100.0 L125.0 100.0 L125.0 115.0 L115.0 115.0 L108.0 105.0Z" fill="#1a6ef8"/><path d="M132.0 90.0 L146.0 95.0 L140.0 115.0 L125.0 115.0 L122.0 100.0 L132.0 100.0Z" fill="#14c87a"/><path d="M98.0 93.0 L108.0 93.0 L110.0 108.0 L104.0 108.0Z" fill="#14c87a"/><path d="M115.0 110.0 L125.0 115.0 L132.0 115.0 L132.0 125.0 L123.0 130.0 L115.0 130.0Z" fill="#0a88f6"/><path d="M104.0 130.0 L118.0 130.0 L118.0 146.0 L104.0 146.0Z" fill="#08c794"/><path d="M162.0 75.0 L162.0 68.0 L167.0 61.0 L172.0 54.0 L190.0 52.0 L190.0 75.0Z" fill="#00b6c8"/><path d="M190.0 52.0 L191.0 57.0 L200.0 59.0 L213.0 58.0 L215.0 63.0 L218.0 73.0 L216.0 75.0 L190.0 75.0Z" fill="#08c794"/><path d="M162.0 75.0 L216.0 75.0 L216.0 84.0 L162.0 84.0Z" fill="#02acd8"/><path d="M213.0 74.0 L224.0 74.0 L228.0 86.0 L214.0 88.0Z" fill="#14c87a"/><path d="M223.0 78.0 L232.0 78.0 L228.0 90.0 L220.0 92.0 L222.0 84.0Z" fill="#00b6c8"/><path d="M188.0 84.0 L211.0 84.0 L211.0 102.0 L188.0 102.0Z" fill="#0a88f6"/><path d="M211.0 87.0 L222.0 87.0 L222.0 106.0 L211.0 106.0Z" fill="#08c794"/><path d="M190.0 94.0 L207.0 94.0 L207.0 106.0 L190.0 106.0Z" fill="#00bfb0"/><path d="M200.0 105.0 L221.0 105.0 L221.0 126.0 L200.0 126.0Z" fill="#14c87a"/><path d="M190.0 106.0 L200.0 106.0 L200.0 120.0 L190.0 120.0Z" fill="#fcc80a"/><path d="M222.0 101.0 L231.0 101.0 L231.0 116.0 L222.0 116.0Z" fill="#08c794"/><path d="M170.0 46.0 L184.0 46.0 L184.0 55.0 L170.0 55.0Z" fill="#1a6ef8"/><path d="M169.0 29.0 L182.0 29.0 L182.0 41.0 L169.0 41.0Z" fill="#02acd8"/><path d="M175.0 34.0 L195.0 34.0 L195.0 47.0 L184.0 48.0 L175.0 46.0Z" fill="#00b6c8"/><path d="M195.0 34.0 L210.0 34.0 L210.0 51.0 L195.0 51.0Z" fill="#02acd8"/><path d="M187.0 43.0 L206.0 43.0 L206.0 54.0 L187.0 54.0Z" fill="#00b6c8"/><path d="M184.0 26.0 L212.0 26.0 L212.0 35.0 L184.0 35.0Z" fill="#4f2ade"/><path d="M184.0 18.0 L225.0 18.0 L225.0 26.0 L184.0 26.0Z" fill="#00b6c8"/><path d="M210.0 26.0 L240.0 26.0 L240.0 38.0 L210.0 38.0Z" fill="#02acd8"/><path d="M225.0 18.0 L248.0 18.0 L248.0 26.0 L225.0 26.0Z" fill="#4f2ade"/><path d="M202.0 38.0 L232.0 38.0 L232.0 47.0 L202.0 47.0Z" fill="#08c794"/><path d="M206.0 48.0 L225.0 48.0 L225.0 54.5 L206.0 54.5Z" fill="#14c87a"/><path d="M224.0 50.0 L242.0 50.0 L242.0 65.0 L228.0 62.0 L224.0 57.0Z" fill="#f6be02"/><path d="M214.0 53.0 L224.0 53.0 L224.0 61.0 L214.0 61.0Z" fill="#c2bc08"/><path d="M214.0 60.0 L228.0 60.0 L236.0 65.0 L240.0 68.0 L232.0 75.0 L223.0 78.0 L215.0 65.0Z" fill="#5cc44e"/><path d="M230.0 35.0 L265.0 35.0 L265.0 47.0 L230.0 47.0Z" fill="#1a6ef8"/><path d="M232.0 47.0 L255.0 47.0 L255.0 55.0 L232.0 55.0Z" fill="#08c794"/><path d="M240.0 54.0 L255.0 54.0 L255.0 67.0 L240.0 67.0Z" fill="#00b6c8"/><path d="M240.0 24.0 L270.0 24.0 L270.0 35.0 L240.0 35.0Z" fill="#4f2ade"/><path d="M240.0 12.0 L305.0 12.0 L305.0 24.0 L240.0 24.0Z" fill="#00b6c8"/><path d="M270.0 24.0 L305.0 24.0 L305.0 40.0 L270.0 40.0Z" fill="#0a88f6"/><path d="M305.0 15.0 L362.0 15.0 L362.0 26.0 L305.0 26.0Z" fill="#14c87a"/><path d="M305.0 26.0 L345.0 26.0 L345.0 38.0 L305.0 38.0Z" fill="#1a6ef8"/><path d="M300.0 35.0 L322.0 35.0 L322.0 50.0 L300.0 50.0Z" fill="#0a88f6"/><path d="M335.0 28.0 L346.0 28.0 L346.0 40.0 L335.0 40.0Z" fill="#4a3aee"/><path d="M340.0 20.0 L372.0 20.0 L372.0 28.0 L340.0 28.0Z" fill="#4f2ade"/><path d="M265.0 38.0 L300.0 38.0 L300.0 50.0 L265.0 50.0Z" fill="#1a6ef8"/><path d="M255.0 50.0 L283.0 50.0 L283.0 63.0 L255.0 63.0Z" fill="#0a88f6"/><path d="M246.0 60.0 L272.0 60.0 L272.0 84.0 L246.0 84.0Z" fill="#1a6ef8"/><path d="M283.0 48.0 L304.0 48.0 L304.0 70.0 L283.0 70.0Z" fill="#1a6ef8"/><path d="M272.0 62.0 L290.0 62.0 L290.0 90.0 L272.0 90.0Z" fill="#1a6ef8"/><path d="M304.0 44.0 L327.0 44.0 L327.0 60.0 L304.0 60.0Z" fill="#4f2ade"/><path d="M274.0 82.0 L310.0 82.0 L310.0 101.0 L274.0 101.0Z" fill="#02acd8"/><path d="M310.0 90.0 L332.0 90.0 L332.0 101.0 L310.0 101.0Z" fill="#02acd8"/><path d="M296.0 70.0 L308.0 70.0 L308.0 85.0 L296.0 85.0Z" fill="#4a3aee"/><path d="M292.0 102.0 L305.0 102.0 L305.0 126.0 L292.0 126.0Z" fill="#00bfb0"/><path d="M305.0 100.0 L320.0 100.0 L320.0 126.0 L305.0 126.0Z" fill="#fcc80a"/><path d="M320.0 100.0 L335.0 100.0 L335.0 130.0 L320.0 130.0Z" fill="#fcc80a"/><path d="M305.0 100.0 L325.0 100.0 L325.0 107.0 L305.0 107.0Z" fill="#fcc80a"/><path d="M345.0 123.0 L360.0 123.0 L360.0 138.0 L345.0 138.0Z" fill="#4a3aee"/><path d="M-5.0 150.0 L70.0 150.0 L70.0 182.0 L-5.0 182.0Z" fill="#f6be02"/><path d="M70.0 150.0 L120.0 150.0 L120.0 182.0 L70.0 182.0Z" fill="#08c794"/><path d="M120.0 150.0 L170.0 150.0 L170.0 182.0 L120.0 182.0Z" fill="#0a88f6"/><path d="M170.0 150.0 L240.0 150.0 L240.0 182.0 L170.0 182.0Z" fill="#4f2ade"/><path d="M240.0 150.0 L300.0 150.0 L300.0 182.0 L240.0 182.0Z" fill="#3452f6"/><path d="M300.0 150.0 L365.0 150.0 L365.0 182.0 L300.0 182.0Z" fill="#1a6ef8"/><path d="M-5.0 175.0 L365.0 175.0 L365.0 182.0 L-5.0 182.0Z" fill="#1a6ef8"/></g><g filter="url(#speckQ)"><path d="M162.0 75.0 L162.0 68.0 L167.0 61.0 L172.0 54.0 L190.0 52.0 L190.0 75.0Z" fill="#f6be02"/><path d="M190.0 52.0 L191.0 57.0 L200.0 59.0 L213.0 58.0 L215.0 63.0 L218.0 73.0 L216.0 75.0 L190.0 75.0Z" fill="#f6be02"/><path d="M162.0 75.0 L216.0 75.0 L216.0 84.0 L162.0 84.0Z" fill="#c2bc08"/><path d="M214.0 60.0 L228.0 60.0 L236.0 65.0 L240.0 68.0 L232.0 75.0 L223.0 78.0 L215.0 65.0Z" fill="#f6be02"/></g><g filter="url(#speckW)"><path d="M57.1 21.3 L126.5 21.3 L127.5 42.5 L114.2 47.0 L96.0 46.4 L85.7 40.8 L73.4 35.5 L61.2 28.4Z" fill="#fff"/><path d="M246.0 14.2 L365.0 14.2 L365.0 19.5 L246.0 19.5Z" fill="#fff"/><path d="M0.0 14.2 L15.0 14.2 L15.0 19.5 L0.0 19.5Z" fill="#fff"/></g><g filter="url(#bl1_5)"><path d="M108.8 104.5 L116.9 105.0 L118.0 120.1 L114.9 132.5 L109.8 132.8 L107.8 120.1Z" fill="#fbdf08"/><ellipse cx="140.4" cy="15.3" rx="11.2" ry="1.8" fill="#0a88f6"/><path d="M130.2 18.5 L142.4 19.2 L146.9 20.4 L140.4 22.7 L135.9 27.5 L132.2 27.7 L130.2 22.7Z" fill="#fbdf08"/><ellipse cx="144.9" cy="20.6" rx="2.4" ry="1.1" fill="#c2bc08"/><ellipse cx="117.6" cy="156.9" rx="2.0" ry="1.6" fill="#f6be02"/></g><path d="M100.0 0.0 L180.0 0.0 L180.0 30.0 L164.0 30.0 L157.0 19.5 L157.0 10.7 L151.0 8.6 L100.0 8.6Z" fill="#fff"/>
<path fill="#fff" d="M96.5 167.2 L120.5 167.2 L135.0 168.4 L150.0 168.4 L152.5 169.5 L148.0 171.3 L135.0 171.7 L120.0 172.3 L105.0 172.8 L96.5 171.5 L95.5 169.0Z"/><path fill="#fff" d="M-263.5 167.2 L-239.5 167.2 L-225.0 168.4 L-210.0 168.4 L-207.5 169.5 L-212.0 171.3 L-225.0 171.7 L-240.0 172.3 L-255.0 172.8 L-263.5 171.5 L-264.5 169.0Z"/><path fill="#fff" d="M347.5 159.5 L348.5 162.0 L345.0 165.0 L342.0 168.0 L339.0 171.0 L341.0 173.3 L350.0 173.9 L360.0 174.0 L380.0 174.2 L384.0 173.5 L382.0 170.5 L385.0 168.5 L388.0 166.5 L391.0 165.2 L391.0 160.0 L360.0 160.0Z"/><path fill="#fff" d="M-12.5 159.5 L-11.5 162.0 L-15.0 165.0 L-18.0 168.0 L-21.0 171.0 L-19.0 173.3 L-10.0 173.9 L0.0 174.0 L20.0 174.2 L24.0 173.5 L22.0 170.5 L25.0 168.5 L28.0 166.5 L31.0 165.2 L31.0 160.0 L0.0 160.0Z"/>
<g fill="none" stroke="#fff" stroke-linejoin="round" stroke-linecap="round" opacity="0.9"><path d="M192.3 96.0 L193.5 95.5 L195.3 94.3 L196.5 92.5 L197.5 90.5 L198.5 88.8 L200.5 88.0 L202.5 88.2 L204.0 89.0 L205.2 89.6 L205.5 91.5 L206.0 94.0 L207.0 97.0" stroke-width="0.9"/><path d="M107.0 94.2 L110.0 93.6 L113.0 93.2 L116.0 93.5 L120.0 93.2 L123.0 92.6 L126.0 92.0 L129.0 91.0 L130.5 90.2" stroke-width="1.0"/><path d="M110.0 91.0 L114.0 90.3 L117.0 91.2 L120.0 93.2" stroke-width="0.7"/><path d="M118.0 98.0 L119.0 95.5 L120.0 93.2" stroke-width="0.6"/><path d="M209.3 93.3 L209.8 95.5 L210.5 97.5 L211.0 98.7" stroke-width="0.9"/><path d="M214.2 99.5 L214.6 102.0 L215.2 104.3" stroke-width="0.9"/><path d="M284.0 38.4 L286.0 37.5 L288.0 36.0 L289.5 34.4" stroke-width="0.9"/><path d="M306.0 17.5 L307.0 20.0 L305.0 23.0 L304.0 25.5 L308.0 27.5 L310.0 29.0 L308.0 30.5" stroke-width="0.5"/><path d="M263.0 18.5 L266.5 21.0 L268.0 24.0 L270.0 28.0 L272.0 31.5" stroke-width="0.5"/><path d="M253.0 23.0 L249.0 25.0 L247.0 28.0 L248.0 30.0 L253.0 31.5 L259.0 33.0" stroke-width="0.5"/><path d="M83.0 39.0 L82.0 37.0 L81.0 36.0" stroke-width="1.2"/><path d="M57.0 25.0 L60.0 26.0 L63.0 27.5 L65.0 28.5" stroke-width="1.0"/><path d="M68.0 23.5 L62.0 24.0 L59.0 24.5" stroke-width="1.0"/></g>
<g fill="#fff"><ellipse cx="213.0" cy="91.0" rx="1.6" ry="1.5"/><ellipse cx="82.0" cy="37.5" rx="0.6" ry="1.8"/><ellipse cx="64.0" cy="28.4" rx="2.0" ry="0.8"/><ellipse cx="59.0" cy="24.0" rx="2.5" ry="0.9"/><ellipse cx="215.5" cy="44.0" rx="0.2" ry="0.2"/><ellipse cx="240.0" cy="45.0" rx="1.0" ry="1.0"/><ellipse cx="257.0" cy="43.5" rx="2.5" ry="0.5"/></g>
</g>
<g fill="#fff"><path d="M208.0 48.4 L209.1 48.8 L211.0 48.9 L213.0 48.1 L215.0 47.9 L216.5 48.7 L218.0 49.0 L220.0 49.0 L221.6 48.4 L221.5 47.5 L219.7 46.5 L218.0 45.5 L216.8 44.8 L216.5 44.6 L215.3 45.0 L214.0 45.6 L213.4 45.4 L213.5 44.8 L212.5 44.6 L213.5 44.0 L212.0 43.5 L210.7 43.5 L210.0 44.2 L209.6 44.8 L208.7 45.8 L208.0 46.7 L207.8 47.5Z"/><path d="M215.0 44.7 L216.6 44.6 L218.5 43.3 L219.2 42.8 L217.5 43.0 L215.5 43.6 L215.0 44.2Z"/><path d="M226.7 45.4 L227.5 44.5 L229.0 43.5 L231.5 43.0 L233.0 43.3 L233.0 45.0 L231.3 45.5 L231.0 46.7 L232.5 48.0 L233.0 49.0 L232.8 50.0 L233.9 50.5 L233.8 52.7 L232.0 53.2 L230.3 52.8 L229.0 52.2 L229.0 51.0 L229.5 49.7 L228.6 48.4 L227.5 47.2 L227.3 46.2Z"/><path d="M88.0 43.3 L92.0 41.5 L95.0 42.1 L95.5 43.5 L93.0 43.5 L89.5 43.5Z"/><path d="M92.5 48.3 L93.5 47.5 L93.8 45.5 L95.0 44.2 L93.0 44.0 L92.0 45.5 L92.2 47.5Z"/><path d="M96.0 44.0 L98.5 44.2 L100.0 45.5 L98.3 46.8 L97.5 47.0 L96.5 46.0 L95.5 44.5Z"/><path d="M96.7 48.3 L99.0 48.2 L101.0 47.2 L99.5 47.4 L97.5 48.0Z"/><path d="M100.5 46.7 L103.5 46.6 L103.7 45.9 L101.0 46.2Z"/></g>
<g clip-path="url(#ndclip)" stroke="#b9b9b9" stroke-width="0.7" fill="none" vector-effect="non-scaling-stroke"><path d="M12.0 24.4 L14.0 21.7 L17.0 20.3 L23.2 18.7 L28.0 19.2 L32.0 19.7 L39.0 20.4 L44.0 21.0 L48.0 20.4 L52.0 19.6 L56.0 20.4 L60.0 21.0 L65.0 21.8 L70.0 22.0 L75.0 21.7 L80.0 22.2 L83.0 21.7 L85.0 20.5 L86.0 18.2 L88.0 19.5 L90.0 21.0 L94.0 20.8 L98.0 20.5 L96.0 23.0 L93.0 24.5 L92.0 25.8 L88.0 27.5 L85.8 31.0 L87.0 33.0 L90.0 33.0 L94.0 34.5 L97.5 35.0 L98.0 37.0 L100.0 38.7 L101.0 37.5 L101.0 35.5 L103.0 33.5 L102.5 31.5 L102.0 29.5 L102.0 27.7 L106.0 27.5 L109.0 28.8 L110.5 31.0 L112.5 31.7 L114.0 31.2 L115.5 29.7 L116.5 31.5 L118.0 32.5 L119.0 34.0 L120.5 34.8 L122.5 36.0 L124.0 37.5 L123.0 38.5 L120.0 39.8 L115.5 39.7 L113.5 40.0 L111.5 41.0 L110.0 42.2 L111.0 41.5 L113.5 40.8 L115.5 41.0 L115.2 42.2 L115.5 43.5 L118.5 44.0 L120.0 43.8 L120.0 44.4 L116.5 45.4 L114.2 46.4 L113.5 45.4 L115.0 44.7 L113.0 45.0 L111.5 45.8 L109.8 46.4 L109.2 47.4 L110.0 48.2 L108.5 48.7 L106.5 49.2 L106.0 49.5 L105.7 50.5 L105.0 51.2 L104.1 52.5 L103.7 53.0 L104.5 54.8 L103.5 55.4 L102.1 56.1 L100.8 57.0 L99.0 58.3 L98.6 60.0 L99.5 62.0 L100.0 63.3 L99.6 64.8 L98.8 64.7 L98.2 63.7 L97.2 62.0 L97.3 60.8 L96.0 60.0 L94.5 60.3 L93.5 59.6 L91.5 59.7 L90.5 59.8 L90.8 60.9 L89.5 60.9 L88.0 60.4 L86.0 60.4 L84.5 61.3 L82.7 62.4 L82.6 64.2 L82.3 66.0 L82.2 67.7 L82.8 69.4 L84.0 70.9 L85.5 71.8 L87.5 71.4 L89.0 71.2 L89.5 70.2 L89.7 69.0 L91.5 68.5 L93.0 68.5 L92.5 70.0 L92.2 71.5 L91.7 72.5 L91.5 74.1 L94.0 74.1 L96.0 74.2 L96.7 75.0 L96.5 77.5 L96.3 79.0 L97.5 80.2 L98.5 81.2 L100.0 80.7 L101.5 80.6 L102.7 81.4 L102.5 82.5 L101.5 82.0 L100.5 81.2 L99.6 82.0 L99.9 82.7 L98.5 82.3 L97.0 81.7 L95.5 80.3 L94.3 80.0 L94.2 78.8 L92.7 77.1 L91.5 76.8 L90.0 76.2 L88.5 76.0 L87.0 74.7 L85.5 73.9 L83.5 74.4 L81.5 73.8 L79.0 72.7 L76.5 71.7 L74.5 70.0 L74.7 68.2 L73.6 66.7 L71.5 64.7 L70.5 63.5 L69.2 62.2 L67.8 60.5 L66.5 58.8 L65.2 58.3 L65.7 59.5 L66.8 61.0 L67.7 62.5 L68.7 64.0 L69.4 65.5 L70.5 66.9 L69.8 67.1 L68.5 65.6 L67.8 65.0 L67.8 63.7 L65.7 62.5 L65.8 61.8 L64.7 60.5 L63.8 59.2 L62.9 57.5 L62.5 56.6 L61.5 56.0 L59.4 55.5 L59.0 54.3 L58.0 53.2 L57.5 52.2 L57.0 51.8 L56.2 50.5 L55.7 49.5 L55.9 48.0 L55.5 47.0 L56.0 43.8 L55.3 41.6 L57.0 41.7 L57.5 42.5 L57.2 41.0 L56.0 40.2 L54.5 39.5 L52.5 38.8 L52.0 37.5 L50.0 35.7 L49.0 34.5 L47.5 33.2 L45.5 32.0 L44.0 31.5 L42.5 31.3 L40.5 30.4 L38.0 29.9 L36.0 30.0 L33.5 29.2 L32.0 29.5 L30.0 30.5 L28.2 30.8 L28.5 29.5 L30.0 28.8 L27.5 29.8 L26.2 31.1 L25.5 32.0 L23.7 32.8 L21.5 33.8 L19.5 34.5 L17.5 35.0 L15.2 35.6 L16.5 34.9 L18.5 34.0 L20.5 32.8 L22.5 31.7 L22.8 31.2 L21.0 31.5 L18.2 31.2 L17.8 30.2 L16.2 30.0 L14.8 29.5 L14.7 28.7 L14.0 28.2 L15.0 27.5 L15.6 26.8 L17.7 26.5 L19.0 25.6 L17.5 25.5 L15.5 25.4 L13.7 25.4 L13.7 24.8 L12.0 24.4Z"/><path d="M136.0 30.2 L134.0 29.2 L132.0 29.0 L129.5 26.5 L128.5 25.0 L126.5 23.2 L126.5 21.5 L129.0 20.5 L126.0 19.5 L125.0 18.5 L124.0 16.0 L121.5 14.3 L114.0 13.8 L108.5 12.7 L107.0 11.7 L112.0 10.0 L118.0 8.2 L130.0 7.6 L140.0 6.7 L150.0 6.4 L158.0 7.2 L160.0 8.5 L168.0 8.5 L164.0 10.0 L162.0 11.5 L161.0 13.0 L161.5 15.0 L158.5 17.0 L158.0 19.0 L158.0 19.8 L154.0 21.5 L148.0 21.8 L145.0 24.0 L142.0 24.5 L139.5 25.5 L138.0 27.5 L137.0 29.5Z"/><path d="M155.5 24.5 L158.0 23.6 L162.0 23.8 L165.0 23.5 L166.5 24.8 L165.2 25.7 L162.0 26.6 L159.0 26.2 L157.3 26.0Z"/><path d="M120.7 42.4 L123.0 38.5 L124.5 38.4 L124.5 40.5 L126.5 40.7 L127.3 42.5 L126.5 43.3 L125.0 43.0 L124.0 42.4Z"/></g>
</g></g>
<rect x="441.60" y="317.00" width="363.00" height="213.90" fill="none" stroke="#111" stroke-width="1.8"/>
<rect x="446.40" y="322.35" width="352.80" height="203.35" fill="none" stroke="#111" stroke-width="1.8"/>
<rect x="813.80" y="520.82" width="19.80" height="10.98" fill="#3e1caa"/>
<rect x="813.80" y="510.13" width="19.80" height="10.98" fill="#4822c6"/>
<rect x="813.80" y="499.44" width="19.80" height="10.98" fill="#4f2ade"/>
<rect x="813.80" y="488.76" width="19.80" height="10.98" fill="#4a3aee"/>
<rect x="813.80" y="478.07" width="19.80" height="10.98" fill="#3452f6"/>
<rect x="813.80" y="467.39" width="19.80" height="10.98" fill="#1a6ef8"/>
<rect x="813.80" y="456.71" width="19.80" height="10.98" fill="#0a88f6"/>
<rect x="813.80" y="446.02" width="19.80" height="10.98" fill="#049ce8"/>
<rect x="813.80" y="435.34" width="19.80" height="10.98" fill="#02acd8"/>
<rect x="813.80" y="424.65" width="19.80" height="10.98" fill="#00b6c8"/>
<rect x="813.80" y="413.97" width="19.80" height="10.98" fill="#00bfb0"/>
<rect x="813.80" y="403.28" width="19.80" height="10.98" fill="#08c794"/>
<rect x="813.80" y="392.60" width="19.80" height="10.98" fill="#14c87a"/>
<rect x="813.80" y="381.91" width="19.80" height="10.98" fill="#5cc44e"/>
<rect x="813.80" y="371.23" width="19.80" height="10.98" fill="#c2bc08"/>
<rect x="813.80" y="360.54" width="19.80" height="10.98" fill="#eeb404"/>
<rect x="813.80" y="349.86" width="19.80" height="10.98" fill="#f6be02"/>
<rect x="813.80" y="339.17" width="19.80" height="10.98" fill="#fcc80a"/>
<rect x="813.80" y="328.49" width="19.80" height="10.98" fill="#fbdf08"/>
<rect x="813.80" y="317.80" width="19.80" height="10.98" fill="#f3f40a"/>
<rect x="813.80" y="317.80" width="19.80" height="213.70" fill="none" stroke="#151515" stroke-width="1.5"/>
<path d="M830.60 478.07H833.60" stroke="#202020" stroke-width="1"/>
<path d="M830.60 424.65H833.60" stroke="#202020" stroke-width="1"/>
<path d="M830.60 371.23H833.60" stroke="#202020" stroke-width="1"/>
<text x="0" y="0" transform="translate(837.70 536.75) scale(0.975 1)" style="font-size:15.10px">0</text>
<text x="0" y="0" transform="translate(837.70 483.32) scale(0.975 1)" style="font-size:15.10px">5</text>
<path d="M870 0L590 0L590 1030Q450 905 225 830L225 1075Q345 1115 470 1212Q595 1309 640 1409L870 1409Z" transform="translate(837.70 429.90) scale(0.00719 -0.00737)" fill="#0d0d0d" stroke="#0d0d0d" stroke-width="40.7"/><text x="0" y="0" transform="translate(845.89 429.90) scale(0.975 1)" style="font-size:15.10px">0</text>
<path d="M870 0L590 0L590 1030Q450 905 225 830L225 1075Q345 1115 470 1212Q595 1309 640 1409L870 1409Z" transform="translate(837.70 376.48) scale(0.00719 -0.00737)" fill="#0d0d0d" stroke="#0d0d0d" stroke-width="40.7"/><text x="0" y="0" transform="translate(845.89 376.48) scale(0.975 1)" style="font-size:15.10px">5</text>
<text x="0" y="0" transform="translate(837.70 323.05) scale(0.975 1)" style="font-size:15.10px">2</text><text x="0" y="0" transform="translate(845.89 323.05) scale(0.975 1)" style="font-size:15.10px">0</text>
<text x="553.06" y="289.00" style="font-size:19.10px">D</text><text x="566.85" y="289.00" style="font-size:19.10px">T</text><text x="578.52" y="289.00" style="font-size:19.10px">R</text><text x="597.62" y="289.00" style="font-size:19.10px">8</text><text x="608.24" y="289.00" style="font-size:19.10px">9</text><text x="624.17" y="289.00" style="font-size:19.10px">(</text><text x="630.53" y="289.00" style="font-size:19.10px">V</text><text x="643.27" y="289.00" style="font-size:19.10px">)</text><text x="654.94" y="289.00" style="font-size:19.10px">G</text><text x="669.80" y="289.00" style="font-size:19.10px">H</text><text x="683.59" y="289.00" style="font-size:19.10px">z</text>
<text x="588.58" y="310.50" style="font-size:19.10px">0</text><text x="599.20" y="310.50" style="font-size:19.10px">8</text><text x="609.82" y="310.50" style="font-size:19.10px">/</text><text x="615.13" y="310.50" style="font-size:19.10px">2</text><text x="625.75" y="310.50" style="font-size:19.10px">0</text><path d="M870 0L590 0L590 1030Q450 905 225 830L225 1075Q345 1115 470 1212Q595 1309 640 1409L870 1409Z" transform="translate(636.38 310.50) scale(0.00933 -0.00933)" fill="#0d0d0d" stroke="#0d0d0d" stroke-width="32.2"/><text x="647.00" y="310.50" style="font-size:19.10px">6</text>
<text x="447.00" y="309.30" style="font-size:19.60px">(</text><text x="454.43" y="309.30" style="font-size:19.60px">d</text><text x="467.30" y="309.30" style="font-size:19.60px">)</text>
</svg>
</body></html>
